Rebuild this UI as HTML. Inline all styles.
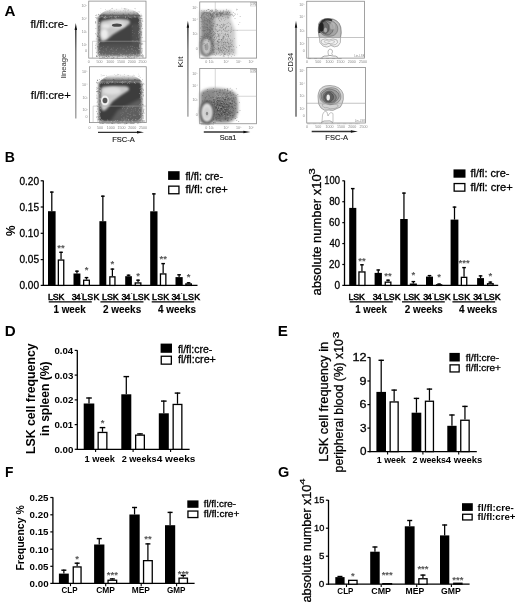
<!DOCTYPE html><html><head><meta charset="utf-8"><style>html,body{margin:0;padding:0;background:#fff;width:520px;height:611px;overflow:hidden}svg{display:block;will-change:transform;font-family:"Liberation Sans",sans-serif}</style></head><body><svg width="520" height="611" viewBox="0 0 520 611"><defs><filter id="b1" x="-30%" y="-30%" width="160%" height="160%"><feGaussianBlur stdDeviation="1"/></filter><filter id="b15" x="-30%" y="-30%" width="160%" height="160%"><feGaussianBlur stdDeviation="1.5"/></filter><filter id="b2" x="-30%" y="-30%" width="160%" height="160%"><feGaussianBlur stdDeviation="2"/></filter><filter id="b05" x="-30%" y="-30%" width="160%" height="160%"><feGaussianBlur stdDeviation="0.5"/></filter><filter id="b07" x="-30%" y="-30%" width="160%" height="160%"><feGaussianBlur stdDeviation="0.7"/></filter></defs><linearGradient id="fr1" x1="0" y1="0" x2="0" y2="1"><stop offset="0" stop-color="#fff" stop-opacity="0"/><stop offset="0.5" stop-color="#aaa" stop-opacity="0.7"/><stop offset="1" stop-color="#555"/></linearGradient><path d="M99,16.5 Q104,8 120,7.5 Q136,8 141,16.5 Z" fill="url(#fr1)" filter="url(#b07)"/><circle cx="109.5" cy="12.4" r="0.35" fill="#888" opacity="0.8"/><circle cx="114.8" cy="12.8" r="0.35" fill="#888" opacity="0.8"/><circle cx="125.0" cy="8.5" r="0.35" fill="#888" opacity="0.8"/><circle cx="100.5" cy="14.7" r="0.35" fill="#888" opacity="0.8"/><circle cx="110.4" cy="9.9" r="0.35" fill="#888" opacity="0.8"/><circle cx="139.8" cy="11.8" r="0.35" fill="#888" opacity="0.8"/><circle cx="133.5" cy="11.8" r="0.35" fill="#888" opacity="0.8"/><circle cx="125.6" cy="9.2" r="0.35" fill="#888" opacity="0.8"/><circle cx="125.4" cy="14.9" r="0.35" fill="#888" opacity="0.8"/><circle cx="120.9" cy="13.9" r="0.35" fill="#888" opacity="0.8"/><circle cx="126.9" cy="8.5" r="0.35" fill="#888" opacity="0.8"/><circle cx="130.3" cy="12.7" r="0.35" fill="#888" opacity="0.8"/><circle cx="112.1" cy="8.2" r="0.35" fill="#888" opacity="0.8"/><circle cx="134.6" cy="11.8" r="0.35" fill="#888" opacity="0.8"/><circle cx="128.8" cy="15.0" r="0.35" fill="#888" opacity="0.8"/><circle cx="128.6" cy="15.4" r="0.35" fill="#888" opacity="0.8"/><circle cx="115.8" cy="14.4" r="0.35" fill="#888" opacity="0.8"/><circle cx="117.8" cy="15.5" r="0.35" fill="#888" opacity="0.8"/><circle cx="135.2" cy="8.8" r="0.35" fill="#888" opacity="0.8"/><circle cx="105.4" cy="9.7" r="0.35" fill="#888" opacity="0.8"/><circle cx="138.6" cy="11.5" r="0.35" fill="#888" opacity="0.8"/><circle cx="125.1" cy="10.4" r="0.35" fill="#888" opacity="0.8"/><circle cx="120.3" cy="11.1" r="0.35" fill="#888" opacity="0.8"/><circle cx="114.0" cy="12.7" r="0.35" fill="#888" opacity="0.8"/><circle cx="123.4" cy="15.2" r="0.35" fill="#888" opacity="0.8"/><circle cx="127.3" cy="15.4" r="0.35" fill="#888" opacity="0.8"/><circle cx="134.3" cy="15.9" r="0.35" fill="#888" opacity="0.8"/><circle cx="126.9" cy="9.3" r="0.35" fill="#888" opacity="0.8"/><circle cx="134.4" cy="15.7" r="0.35" fill="#888" opacity="0.8"/><circle cx="136.2" cy="12.6" r="0.35" fill="#888" opacity="0.8"/><circle cx="128.6" cy="9.7" r="0.35" fill="#888" opacity="0.8"/><circle cx="133.3" cy="12.6" r="0.35" fill="#888" opacity="0.8"/><circle cx="111.4" cy="8.5" r="0.35" fill="#888" opacity="0.8"/><circle cx="134.2" cy="15.9" r="0.35" fill="#888" opacity="0.8"/><circle cx="103.5" cy="14.4" r="0.35" fill="#888" opacity="0.8"/><circle cx="116.4" cy="9.2" r="0.35" fill="#888" opacity="0.8"/><circle cx="111.8" cy="14.2" r="0.35" fill="#888" opacity="0.8"/><circle cx="134.9" cy="8.4" r="0.35" fill="#888" opacity="0.8"/><circle cx="124.6" cy="8.4" r="0.35" fill="#888" opacity="0.8"/><circle cx="128.7" cy="10.6" r="0.35" fill="#888" opacity="0.8"/><circle cx="135.2" cy="15.8" r="0.35" fill="#888" opacity="0.8"/><circle cx="120.2" cy="16.0" r="0.35" fill="#888" opacity="0.8"/><circle cx="112.4" cy="8.6" r="0.35" fill="#888" opacity="0.8"/><circle cx="124.0" cy="8.3" r="0.35" fill="#888" opacity="0.8"/><circle cx="107.9" cy="11.3" r="0.35" fill="#888" opacity="0.8"/><circle cx="124.4" cy="9.2" r="0.35" fill="#888" opacity="0.8"/><circle cx="101.7" cy="14.9" r="0.35" fill="#888" opacity="0.8"/><circle cx="112.6" cy="15.7" r="0.35" fill="#888" opacity="0.8"/><circle cx="135.9" cy="11.0" r="0.35" fill="#888" opacity="0.8"/><circle cx="118.4" cy="12.2" r="0.35" fill="#888" opacity="0.8"/><circle cx="125.8" cy="12.8" r="0.35" fill="#888" opacity="0.8"/><circle cx="122.4" cy="13.0" r="0.35" fill="#888" opacity="0.8"/><circle cx="137.6" cy="12.1" r="0.35" fill="#888" opacity="0.8"/><circle cx="117.2" cy="13.8" r="0.35" fill="#888" opacity="0.8"/><circle cx="109.5" cy="10.4" r="0.35" fill="#888" opacity="0.8"/><circle cx="139.1" cy="12.2" r="0.35" fill="#888" opacity="0.8"/><circle cx="121.9" cy="8.1" r="0.35" fill="#888" opacity="0.8"/><circle cx="116.6" cy="12.6" r="0.35" fill="#888" opacity="0.8"/><circle cx="100.8" cy="12.9" r="0.35" fill="#888" opacity="0.8"/><circle cx="125.3" cy="8.5" r="0.35" fill="#888" opacity="0.8"/><circle cx="125.1" cy="11.7" r="0.35" fill="#888" opacity="0.8"/><circle cx="127.2" cy="10.8" r="0.35" fill="#888" opacity="0.8"/><circle cx="128.3" cy="13.9" r="0.35" fill="#888" opacity="0.8"/><circle cx="100.9" cy="8.5" r="0.35" fill="#888" opacity="0.8"/><circle cx="127.0" cy="15.7" r="0.35" fill="#888" opacity="0.8"/><circle cx="110.0" cy="11.7" r="0.35" fill="#888" opacity="0.8"/><circle cx="123.7" cy="10.6" r="0.35" fill="#888" opacity="0.8"/><circle cx="114.6" cy="10.5" r="0.35" fill="#888" opacity="0.8"/><circle cx="114.8" cy="12.8" r="0.35" fill="#888" opacity="0.8"/><circle cx="112.0" cy="11.0" r="0.35" fill="#888" opacity="0.8"/><path d="M97.8,18.5 Q98,16 101,16 L138,16 Q140.6,16.5 140.6,19 L140.6,54 Q140,56 137,56 L101,56 Q97.8,56 97.8,53 Z" fill="#424242" filter="url(#b1)"/><linearGradient id="bt1" x1="0" y1="0" x2="0" y2="1"><stop offset="0" stop-color="#777" stop-opacity="0"/><stop offset="0.4" stop-color="#777" stop-opacity="0.3"/><stop offset="1" stop-color="#999" stop-opacity="0.5"/></linearGradient><rect x="98" y="40" width="42.5" height="16" fill="url(#bt1)" filter="url(#b07)"/><rect x="132" y="24" width="8.6" height="20" fill="#777" opacity="0.25" filter="url(#b15)"/><circle cx="130.8" cy="46.3" r="0.4" fill="#aaa" opacity="0.6"/><circle cx="122.3" cy="53.2" r="0.4" fill="#aaa" opacity="0.6"/><circle cx="111.5" cy="48.2" r="0.4" fill="#aaa" opacity="0.6"/><circle cx="132.1" cy="48.3" r="0.4" fill="#aaa" opacity="0.6"/><circle cx="106.3" cy="50.3" r="0.4" fill="#aaa" opacity="0.6"/><circle cx="127.7" cy="47.0" r="0.4" fill="#aaa" opacity="0.6"/><circle cx="112.0" cy="49.3" r="0.4" fill="#aaa" opacity="0.6"/><circle cx="133.3" cy="50.3" r="0.4" fill="#aaa" opacity="0.6"/><circle cx="134.3" cy="47.7" r="0.4" fill="#aaa" opacity="0.6"/><circle cx="112.6" cy="52.4" r="0.4" fill="#aaa" opacity="0.6"/><circle cx="135.5" cy="50.4" r="0.4" fill="#aaa" opacity="0.6"/><circle cx="107.9" cy="47.2" r="0.4" fill="#aaa" opacity="0.6"/><circle cx="120.6" cy="47.9" r="0.4" fill="#aaa" opacity="0.6"/><circle cx="132.2" cy="54.2" r="0.4" fill="#aaa" opacity="0.6"/><circle cx="106.2" cy="48.7" r="0.4" fill="#aaa" opacity="0.6"/><circle cx="132.2" cy="52.3" r="0.4" fill="#aaa" opacity="0.6"/><circle cx="132.2" cy="49.4" r="0.4" fill="#aaa" opacity="0.6"/><circle cx="103.9" cy="48.9" r="0.4" fill="#aaa" opacity="0.6"/><circle cx="131.7" cy="48.7" r="0.4" fill="#aaa" opacity="0.6"/><circle cx="113.0" cy="50.1" r="0.4" fill="#aaa" opacity="0.6"/><circle cx="116.0" cy="50.0" r="0.4" fill="#aaa" opacity="0.6"/><circle cx="137.0" cy="47.5" r="0.4" fill="#aaa" opacity="0.6"/><circle cx="98.7" cy="55.2" r="0.4" fill="#aaa" opacity="0.6"/><circle cx="135.3" cy="55.7" r="0.4" fill="#aaa" opacity="0.6"/><circle cx="116.7" cy="55.3" r="0.4" fill="#aaa" opacity="0.6"/><circle cx="137.3" cy="48.2" r="0.4" fill="#aaa" opacity="0.6"/><circle cx="129.7" cy="54.2" r="0.4" fill="#aaa" opacity="0.6"/><circle cx="126.2" cy="51.1" r="0.4" fill="#aaa" opacity="0.6"/><circle cx="110.6" cy="49.3" r="0.4" fill="#aaa" opacity="0.6"/><circle cx="108.0" cy="46.7" r="0.4" fill="#aaa" opacity="0.6"/><circle cx="123.1" cy="48.8" r="0.4" fill="#aaa" opacity="0.6"/><circle cx="132.4" cy="46.4" r="0.4" fill="#aaa" opacity="0.6"/><circle cx="136.3" cy="52.8" r="0.4" fill="#aaa" opacity="0.6"/><circle cx="137.1" cy="54.8" r="0.4" fill="#aaa" opacity="0.6"/><circle cx="136.1" cy="51.7" r="0.4" fill="#aaa" opacity="0.6"/><circle cx="99.0" cy="53.3" r="0.4" fill="#aaa" opacity="0.6"/><circle cx="105.7" cy="48.9" r="0.4" fill="#aaa" opacity="0.6"/><circle cx="126.2" cy="51.1" r="0.4" fill="#aaa" opacity="0.6"/><circle cx="115.8" cy="55.2" r="0.4" fill="#aaa" opacity="0.6"/><circle cx="124.1" cy="49.3" r="0.4" fill="#aaa" opacity="0.6"/><circle cx="109.1" cy="54.4" r="0.4" fill="#aaa" opacity="0.6"/><circle cx="118.4" cy="53.7" r="0.4" fill="#aaa" opacity="0.6"/><circle cx="113.2" cy="47.9" r="0.4" fill="#aaa" opacity="0.6"/><circle cx="120.8" cy="54.0" r="0.4" fill="#aaa" opacity="0.6"/><circle cx="105.7" cy="53.8" r="0.4" fill="#aaa" opacity="0.6"/><circle cx="137.0" cy="53.9" r="0.4" fill="#aaa" opacity="0.6"/><circle cx="132.9" cy="46.1" r="0.4" fill="#aaa" opacity="0.6"/><circle cx="124.8" cy="54.5" r="0.4" fill="#aaa" opacity="0.6"/><circle cx="100.6" cy="48.7" r="0.4" fill="#aaa" opacity="0.6"/><circle cx="109.7" cy="51.2" r="0.4" fill="#aaa" opacity="0.6"/><circle cx="116.2" cy="50.6" r="0.4" fill="#aaa" opacity="0.6"/><circle cx="131.0" cy="46.0" r="0.4" fill="#aaa" opacity="0.6"/><circle cx="100.8" cy="47.2" r="0.4" fill="#aaa" opacity="0.6"/><circle cx="103.7" cy="46.7" r="0.4" fill="#aaa" opacity="0.6"/><circle cx="139.2" cy="54.4" r="0.4" fill="#aaa" opacity="0.6"/><circle cx="102.1" cy="50.9" r="0.4" fill="#aaa" opacity="0.6"/><circle cx="111.7" cy="49.1" r="0.4" fill="#aaa" opacity="0.6"/><circle cx="113.2" cy="52.3" r="0.4" fill="#aaa" opacity="0.6"/><circle cx="123.0" cy="49.5" r="0.4" fill="#aaa" opacity="0.6"/><circle cx="106.5" cy="49.2" r="0.4" fill="#aaa" opacity="0.6"/><circle cx="103.7" cy="51.4" r="0.4" fill="#aaa" opacity="0.6"/><circle cx="128.4" cy="49.7" r="0.4" fill="#aaa" opacity="0.6"/><circle cx="101.8" cy="47.7" r="0.4" fill="#aaa" opacity="0.6"/><circle cx="114.1" cy="51.9" r="0.4" fill="#aaa" opacity="0.6"/><circle cx="131.2" cy="49.7" r="0.4" fill="#aaa" opacity="0.6"/><circle cx="132.0" cy="52.1" r="0.4" fill="#aaa" opacity="0.6"/><circle cx="116.5" cy="49.6" r="0.4" fill="#aaa" opacity="0.6"/><circle cx="119.2" cy="52.9" r="0.4" fill="#aaa" opacity="0.6"/><circle cx="116.1" cy="52.8" r="0.4" fill="#aaa" opacity="0.6"/><circle cx="117.8" cy="48.4" r="0.4" fill="#aaa" opacity="0.6"/><circle cx="136.4" cy="37.9" r="0.4" fill="#999" opacity="0.6"/><circle cx="132.6" cy="32.5" r="0.4" fill="#999" opacity="0.6"/><circle cx="135.5" cy="41.6" r="0.4" fill="#999" opacity="0.6"/><circle cx="139.8" cy="31.5" r="0.4" fill="#999" opacity="0.6"/><circle cx="139.5" cy="39.8" r="0.4" fill="#999" opacity="0.6"/><circle cx="134.2" cy="33.3" r="0.4" fill="#999" opacity="0.6"/><circle cx="133.0" cy="40.3" r="0.4" fill="#999" opacity="0.6"/><circle cx="137.5" cy="41.7" r="0.4" fill="#999" opacity="0.6"/><circle cx="138.6" cy="37.4" r="0.4" fill="#999" opacity="0.6"/><circle cx="138.1" cy="35.3" r="0.4" fill="#999" opacity="0.6"/><circle cx="132.9" cy="35.8" r="0.4" fill="#999" opacity="0.6"/><circle cx="132.0" cy="26.9" r="0.4" fill="#999" opacity="0.6"/><circle cx="138.4" cy="24.9" r="0.4" fill="#999" opacity="0.6"/><circle cx="132.8" cy="26.0" r="0.4" fill="#999" opacity="0.6"/><circle cx="139.3" cy="27.6" r="0.4" fill="#999" opacity="0.6"/><circle cx="132.2" cy="40.8" r="0.4" fill="#999" opacity="0.6"/><circle cx="133.0" cy="40.9" r="0.4" fill="#999" opacity="0.6"/><circle cx="137.6" cy="40.7" r="0.4" fill="#999" opacity="0.6"/><circle cx="139.9" cy="35.6" r="0.4" fill="#999" opacity="0.6"/><circle cx="138.6" cy="24.7" r="0.4" fill="#999" opacity="0.6"/><circle cx="138.4" cy="34.2" r="0.4" fill="#999" opacity="0.6"/><circle cx="137.9" cy="26.1" r="0.4" fill="#999" opacity="0.6"/><circle cx="138.2" cy="42.7" r="0.4" fill="#999" opacity="0.6"/><circle cx="132.5" cy="30.5" r="0.4" fill="#999" opacity="0.6"/><circle cx="136.7" cy="40.6" r="0.4" fill="#999" opacity="0.6"/><path d="M100,24 Q101,20.5 104,20.5 L110,19.6 L120,19 L127,19.4 Q131,20.5 129.5,24 L122,29 L113,34.5 L107,39.5 Q103.5,42 101.5,41 Q99.8,39.5 99.8,32 Z" fill="#c6c6c6" filter="url(#b1)"/><ellipse cx="117" cy="24.5" rx="9" ry="3.8" fill="#d8d8d8" filter="url(#b1)"/><ellipse cx="104.5" cy="34" rx="3.5" ry="5" fill="#ececec" filter="url(#b1)"/><ellipse cx="106" cy="26" rx="4" ry="2.5" fill="#e8e8e8" filter="url(#b1)"/><ellipse cx="116.9" cy="25.2" rx="5" ry="1.6" fill="#4a4a4a" filter="url(#b05)"/><circle cx="99.5" cy="36.0" r="0.42" fill="#c8c8c8" opacity="0.85"/><circle cx="141.5" cy="32.1" r="0.42" fill="#555" opacity="0.85"/><circle cx="138.9" cy="36.8" r="0.42" fill="#c8c8c8" opacity="0.85"/><circle cx="128.2" cy="56.1" r="0.42" fill="#555" opacity="0.85"/><circle cx="105.9" cy="14.8" r="0.42" fill="#555" opacity="0.85"/><circle cx="102.4" cy="57.8" r="0.42" fill="#555" opacity="0.85"/><circle cx="130.2" cy="56.4" r="0.42" fill="#555" opacity="0.85"/><circle cx="127.5" cy="56.4" r="0.42" fill="#555" opacity="0.85"/><circle cx="130.0" cy="17.6" r="0.42" fill="#c8c8c8" opacity="0.85"/><circle cx="100.0" cy="50.8" r="0.42" fill="#c8c8c8" opacity="0.85"/><circle cx="95.9" cy="28.7" r="0.42" fill="#555" opacity="0.85"/><circle cx="140.7" cy="31.2" r="0.42" fill="#555" opacity="0.85"/><circle cx="138.5" cy="18.1" r="0.42" fill="#c8c8c8" opacity="0.85"/><circle cx="140.0" cy="30.4" r="0.42" fill="#c8c8c8" opacity="0.85"/><circle cx="141.0" cy="43.7" r="0.42" fill="#555" opacity="0.85"/><circle cx="139.6" cy="20.1" r="0.42" fill="#c8c8c8" opacity="0.85"/><circle cx="98.8" cy="45.6" r="0.42" fill="#c8c8c8" opacity="0.85"/><circle cx="136.8" cy="15.7" r="0.42" fill="#555" opacity="0.85"/><circle cx="132.5" cy="15.1" r="0.42" fill="#555" opacity="0.85"/><circle cx="140.4" cy="30.8" r="0.42" fill="#c8c8c8" opacity="0.85"/><circle cx="125.5" cy="57.2" r="0.42" fill="#555" opacity="0.85"/><circle cx="95.7" cy="48.0" r="0.42" fill="#555" opacity="0.85"/><circle cx="97.3" cy="36.0" r="0.42" fill="#555" opacity="0.85"/><circle cx="122.3" cy="56.4" r="0.42" fill="#555" opacity="0.85"/><circle cx="98.0" cy="29.8" r="0.42" fill="#c8c8c8" opacity="0.85"/><circle cx="106.6" cy="17.3" r="0.42" fill="#c8c8c8" opacity="0.85"/><circle cx="121.0" cy="55.1" r="0.42" fill="#c8c8c8" opacity="0.85"/><circle cx="139.4" cy="45.6" r="0.42" fill="#c8c8c8" opacity="0.85"/><circle cx="133.7" cy="55.2" r="0.42" fill="#c8c8c8" opacity="0.85"/><circle cx="100.8" cy="15.7" r="0.42" fill="#555" opacity="0.85"/><circle cx="99.3" cy="22.7" r="0.42" fill="#c8c8c8" opacity="0.85"/><circle cx="95.7" cy="23.1" r="0.42" fill="#555" opacity="0.85"/><circle cx="96.9" cy="18.7" r="0.42" fill="#555" opacity="0.85"/><circle cx="98.4" cy="14.8" r="0.42" fill="#555" opacity="0.85"/><circle cx="128.8" cy="16.1" r="0.42" fill="#c8c8c8" opacity="0.85"/><circle cx="96.9" cy="56.7" r="0.42" fill="#555" opacity="0.85"/><circle cx="105.9" cy="18.0" r="0.42" fill="#c8c8c8" opacity="0.85"/><circle cx="101.5" cy="16.1" r="0.42" fill="#c8c8c8" opacity="0.85"/><circle cx="139.6" cy="27.1" r="0.42" fill="#c8c8c8" opacity="0.85"/><circle cx="111.9" cy="18.0" r="0.42" fill="#c8c8c8" opacity="0.85"/><circle cx="127.8" cy="56.8" r="0.42" fill="#555" opacity="0.85"/><circle cx="123.6" cy="14.0" r="0.42" fill="#555" opacity="0.85"/><circle cx="97.0" cy="17.8" r="0.42" fill="#555" opacity="0.85"/><circle cx="103.6" cy="15.4" r="0.42" fill="#555" opacity="0.85"/><circle cx="98.1" cy="42.9" r="0.42" fill="#c8c8c8" opacity="0.85"/><circle cx="141.6" cy="35.0" r="0.42" fill="#555" opacity="0.85"/><circle cx="133.5" cy="54.5" r="0.42" fill="#c8c8c8" opacity="0.85"/><circle cx="140.0" cy="15.3" r="0.42" fill="#555" opacity="0.85"/><circle cx="140.3" cy="17.7" r="0.42" fill="#c8c8c8" opacity="0.85"/><circle cx="139.4" cy="21.6" r="0.42" fill="#c8c8c8" opacity="0.85"/><circle cx="139.2" cy="29.9" r="0.42" fill="#c8c8c8" opacity="0.85"/><circle cx="129.1" cy="14.8" r="0.42" fill="#555" opacity="0.85"/><circle cx="127.6" cy="18.1" r="0.42" fill="#c8c8c8" opacity="0.85"/><circle cx="99.0" cy="31.5" r="0.42" fill="#c8c8c8" opacity="0.85"/><circle cx="140.7" cy="18.5" r="0.42" fill="#555" opacity="0.85"/><circle cx="99.4" cy="42.6" r="0.42" fill="#c8c8c8" opacity="0.85"/><circle cx="107.0" cy="16.0" r="0.42" fill="#555" opacity="0.85"/><circle cx="123.2" cy="14.3" r="0.42" fill="#555" opacity="0.85"/><circle cx="106.5" cy="56.7" r="0.42" fill="#555" opacity="0.85"/><circle cx="104.0" cy="17.3" r="0.42" fill="#c8c8c8" opacity="0.85"/><circle cx="96.7" cy="56.7" r="0.42" fill="#555" opacity="0.85"/><circle cx="99.6" cy="34.5" r="0.42" fill="#c8c8c8" opacity="0.85"/><circle cx="130.0" cy="17.2" r="0.42" fill="#c8c8c8" opacity="0.85"/><circle cx="99.0" cy="38.3" r="0.42" fill="#c8c8c8" opacity="0.85"/><circle cx="142.6" cy="28.7" r="0.42" fill="#555" opacity="0.85"/><circle cx="115.9" cy="17.5" r="0.42" fill="#c8c8c8" opacity="0.85"/><circle cx="139.5" cy="46.1" r="0.42" fill="#c8c8c8" opacity="0.85"/><circle cx="136.9" cy="57.6" r="0.42" fill="#555" opacity="0.85"/><circle cx="124.5" cy="55.2" r="0.42" fill="#c8c8c8" opacity="0.85"/><circle cx="140.3" cy="53.9" r="0.42" fill="#c8c8c8" opacity="0.85"/><circle cx="140.4" cy="35.3" r="0.42" fill="#c8c8c8" opacity="0.85"/><circle cx="142.7" cy="54.7" r="0.42" fill="#555" opacity="0.85"/><circle cx="109.4" cy="55.3" r="0.42" fill="#c8c8c8" opacity="0.85"/><circle cx="104.3" cy="18.1" r="0.42" fill="#c8c8c8" opacity="0.85"/><circle cx="97.5" cy="46.9" r="0.42" fill="#555" opacity="0.85"/><circle cx="115.0" cy="17.2" r="0.42" fill="#c8c8c8" opacity="0.85"/><circle cx="128.7" cy="57.2" r="0.42" fill="#555" opacity="0.85"/><circle cx="141.8" cy="52.7" r="0.42" fill="#555" opacity="0.85"/><circle cx="133.7" cy="14.2" r="0.42" fill="#555" opacity="0.85"/><circle cx="98.0" cy="22.9" r="0.42" fill="#c8c8c8" opacity="0.85"/><circle cx="141.8" cy="48.7" r="0.42" fill="#555" opacity="0.85"/><circle cx="141.8" cy="15.4" r="0.42" fill="#555" opacity="0.85"/><circle cx="104.3" cy="14.4" r="0.42" fill="#555" opacity="0.85"/><circle cx="98.0" cy="38.0" r="0.42" fill="#c8c8c8" opacity="0.85"/><circle cx="97.7" cy="32.9" r="0.42" fill="#555" opacity="0.85"/><circle cx="138.7" cy="49.7" r="0.42" fill="#c8c8c8" opacity="0.85"/><circle cx="103.6" cy="14.6" r="0.42" fill="#555" opacity="0.85"/><circle cx="127.0" cy="55.0" r="0.42" fill="#c8c8c8" opacity="0.85"/><circle cx="127.9" cy="57.8" r="0.42" fill="#555" opacity="0.85"/><circle cx="140.9" cy="20.7" r="0.42" fill="#555" opacity="0.85"/><circle cx="134.7" cy="55.2" r="0.42" fill="#c8c8c8" opacity="0.85"/><circle cx="124.5" cy="15.2" r="0.42" fill="#555" opacity="0.85"/><circle cx="129.1" cy="54.3" r="0.42" fill="#c8c8c8" opacity="0.85"/><circle cx="137.9" cy="56.4" r="0.42" fill="#555" opacity="0.85"/><circle cx="139.1" cy="21.8" r="0.42" fill="#c8c8c8" opacity="0.85"/><circle cx="140.4" cy="55.7" r="0.42" fill="#c8c8c8" opacity="0.85"/><circle cx="107.4" cy="57.3" r="0.42" fill="#555" opacity="0.85"/><circle cx="99.3" cy="24.0" r="0.42" fill="#c8c8c8" opacity="0.85"/><circle cx="105.0" cy="17.3" r="0.42" fill="#c8c8c8" opacity="0.85"/><circle cx="134.2" cy="14.0" r="0.42" fill="#555" opacity="0.85"/><circle cx="108.9" cy="56.5" r="0.42" fill="#555" opacity="0.85"/><circle cx="98.9" cy="25.7" r="0.42" fill="#c8c8c8" opacity="0.85"/><circle cx="121.4" cy="15.9" r="0.42" fill="#555" opacity="0.85"/><circle cx="106.7" cy="56.3" r="0.42" fill="#555" opacity="0.85"/><circle cx="102.4" cy="54.0" r="0.42" fill="#c8c8c8" opacity="0.85"/><circle cx="104.0" cy="57.9" r="0.42" fill="#555" opacity="0.85"/><circle cx="102.3" cy="16.2" r="0.42" fill="#c8c8c8" opacity="0.85"/><circle cx="136.9" cy="16.0" r="0.42" fill="#555" opacity="0.85"/><circle cx="140.9" cy="37.5" r="0.42" fill="#555" opacity="0.85"/><circle cx="114.0" cy="57.6" r="0.42" fill="#555" opacity="0.85"/><circle cx="112.2" cy="54.4" r="0.42" fill="#c8c8c8" opacity="0.85"/><circle cx="99.2" cy="22.3" r="0.42" fill="#c8c8c8" opacity="0.85"/><circle cx="139.9" cy="58.1" r="0.42" fill="#555" opacity="0.85"/><circle cx="141.9" cy="24.7" r="0.42" fill="#555" opacity="0.85"/><circle cx="112.3" cy="56.0" r="0.42" fill="#555" opacity="0.85"/><circle cx="110.4" cy="14.7" r="0.42" fill="#555" opacity="0.85"/><circle cx="123.7" cy="55.2" r="0.42" fill="#c8c8c8" opacity="0.85"/><circle cx="141.1" cy="51.1" r="0.42" fill="#555" opacity="0.85"/><circle cx="105.2" cy="16.2" r="0.42" fill="#c8c8c8" opacity="0.85"/><circle cx="141.8" cy="32.0" r="0.42" fill="#555" opacity="0.85"/><circle cx="96.3" cy="52.4" r="0.42" fill="#555" opacity="0.85"/><circle cx="133.1" cy="57.8" r="0.42" fill="#555" opacity="0.85"/><circle cx="131.8" cy="17.9" r="0.42" fill="#c8c8c8" opacity="0.85"/><circle cx="141.9" cy="55.4" r="0.42" fill="#555" opacity="0.85"/><circle cx="109.1" cy="57.2" r="0.42" fill="#555" opacity="0.85"/><circle cx="108.9" cy="56.7" r="0.42" fill="#555" opacity="0.85"/><circle cx="142.2" cy="37.3" r="0.42" fill="#555" opacity="0.85"/><circle cx="98.9" cy="32.7" r="0.42" fill="#c8c8c8" opacity="0.85"/><circle cx="98.4" cy="51.7" r="0.42" fill="#c8c8c8" opacity="0.85"/><circle cx="113.7" cy="57.4" r="0.42" fill="#555" opacity="0.85"/><circle cx="99.4" cy="28.0" r="0.42" fill="#c8c8c8" opacity="0.85"/><circle cx="109.0" cy="15.1" r="0.42" fill="#555" opacity="0.85"/><circle cx="121.0" cy="54.7" r="0.42" fill="#c8c8c8" opacity="0.85"/><circle cx="138.7" cy="33.4" r="0.42" fill="#c8c8c8" opacity="0.85"/><circle cx="99.6" cy="15.0" r="0.42" fill="#555" opacity="0.85"/><circle cx="112.2" cy="14.1" r="0.42" fill="#555" opacity="0.85"/><circle cx="116.2" cy="18.1" r="0.42" fill="#c8c8c8" opacity="0.85"/><circle cx="141.8" cy="44.5" r="0.42" fill="#555" opacity="0.85"/><circle cx="99.5" cy="33.4" r="0.42" fill="#c8c8c8" opacity="0.85"/><circle cx="131.2" cy="57.8" r="0.42" fill="#555" opacity="0.85"/><circle cx="98.7" cy="14.2" r="0.42" fill="#555" opacity="0.85"/><circle cx="99.8" cy="42.3" r="0.42" fill="#c8c8c8" opacity="0.85"/><circle cx="96.9" cy="55.3" r="0.42" fill="#555" opacity="0.85"/><circle cx="99.6" cy="24.1" r="0.42" fill="#c8c8c8" opacity="0.85"/><circle cx="142.0" cy="43.2" r="0.42" fill="#555" opacity="0.85"/><circle cx="131.9" cy="54.2" r="0.42" fill="#c8c8c8" opacity="0.85"/><circle cx="105.2" cy="16.5" r="0.42" fill="#c8c8c8" opacity="0.85"/><circle cx="139.9" cy="19.1" r="0.42" fill="#c8c8c8" opacity="0.85"/><circle cx="138.7" cy="31.4" r="0.42" fill="#c8c8c8" opacity="0.85"/><circle cx="97.4" cy="35.9" r="0.42" fill="#555" opacity="0.85"/><circle cx="134.9" cy="16.3" r="0.42" fill="#c8c8c8" opacity="0.85"/><circle cx="116.5" cy="16.3" r="0.42" fill="#c8c8c8" opacity="0.85"/><circle cx="134.2" cy="57.6" r="0.42" fill="#555" opacity="0.85"/><circle cx="111.9" cy="58.0" r="0.42" fill="#555" opacity="0.85"/><circle cx="105.2" cy="18.0" r="0.42" fill="#c8c8c8" opacity="0.85"/><circle cx="142.3" cy="50.9" r="0.42" fill="#555" opacity="0.85"/><circle cx="96.1" cy="43.9" r="0.42" fill="#555" opacity="0.85"/><circle cx="98.2" cy="35.2" r="0.42" fill="#c8c8c8" opacity="0.85"/><circle cx="121.0" cy="54.8" r="0.42" fill="#c8c8c8" opacity="0.85"/><circle cx="114.4" cy="16.7" r="0.42" fill="#c8c8c8" opacity="0.85"/><circle cx="140.0" cy="19.0" r="0.42" fill="#c8c8c8" opacity="0.85"/><circle cx="140.3" cy="35.0" r="0.42" fill="#c8c8c8" opacity="0.85"/><circle cx="141.0" cy="22.1" r="0.42" fill="#555" opacity="0.85"/><circle cx="142.1" cy="48.9" r="0.42" fill="#555" opacity="0.85"/><circle cx="130.2" cy="53.9" r="0.42" fill="#c8c8c8" opacity="0.85"/><circle cx="117.2" cy="57.1" r="0.42" fill="#555" opacity="0.85"/><circle cx="113.9" cy="15.9" r="0.42" fill="#555" opacity="0.85"/><circle cx="119.4" cy="56.1" r="0.42" fill="#555" opacity="0.85"/><circle cx="113.2" cy="15.7" r="0.42" fill="#555" opacity="0.85"/><circle cx="139.1" cy="22.8" r="0.42" fill="#c8c8c8" opacity="0.85"/><circle cx="103.1" cy="57.3" r="0.42" fill="#555" opacity="0.85"/><circle cx="95.9" cy="17.5" r="0.42" fill="#555" opacity="0.85"/><circle cx="117.1" cy="57.9" r="0.42" fill="#555" opacity="0.85"/><circle cx="128.7" cy="13.9" r="0.42" fill="#555" opacity="0.85"/><circle cx="103.7" cy="15.3" r="0.42" fill="#555" opacity="0.85"/><circle cx="141.4" cy="18.3" r="0.42" fill="#555" opacity="0.85"/><circle cx="96.8" cy="15.0" r="0.42" fill="#555" opacity="0.85"/><circle cx="110.2" cy="16.6" r="0.42" fill="#c8c8c8" opacity="0.85"/><circle cx="100.3" cy="54.9" r="0.42" fill="#c8c8c8" opacity="0.85"/><circle cx="142.8" cy="21.3" r="0.42" fill="#555" opacity="0.85"/><circle cx="112.9" cy="58.2" r="0.42" fill="#555" opacity="0.85"/><circle cx="139.2" cy="32.2" r="0.42" fill="#c8c8c8" opacity="0.85"/><circle cx="96.1" cy="34.8" r="0.42" fill="#555" opacity="0.85"/><circle cx="95.8" cy="45.3" r="0.42" fill="#555" opacity="0.85"/><circle cx="136.6" cy="54.0" r="0.42" fill="#c8c8c8" opacity="0.85"/><circle cx="97.9" cy="43.8" r="0.42" fill="#c8c8c8" opacity="0.85"/><circle cx="99.8" cy="56.6" r="0.42" fill="#555" opacity="0.85"/><circle cx="97.7" cy="56.6" r="0.42" fill="#555" opacity="0.85"/><circle cx="104.6" cy="17.5" r="0.42" fill="#c8c8c8" opacity="0.85"/><circle cx="125.4" cy="17.5" r="0.42" fill="#c8c8c8" opacity="0.85"/><circle cx="141.0" cy="14.1" r="0.42" fill="#555" opacity="0.85"/><circle cx="98.8" cy="43.8" r="0.42" fill="#c8c8c8" opacity="0.85"/><circle cx="139.3" cy="32.5" r="0.42" fill="#c8c8c8" opacity="0.85"/><circle cx="124.0" cy="15.1" r="0.42" fill="#555" opacity="0.85"/><circle cx="140.8" cy="35.0" r="0.42" fill="#555" opacity="0.85"/><circle cx="98.4" cy="24.4" r="0.42" fill="#c8c8c8" opacity="0.85"/><circle cx="97.5" cy="46.3" r="0.42" fill="#555" opacity="0.85"/><circle cx="138.8" cy="22.4" r="0.42" fill="#c8c8c8" opacity="0.85"/><circle cx="129.3" cy="57.3" r="0.42" fill="#555" opacity="0.85"/><circle cx="123.7" cy="55.8" r="0.42" fill="#c8c8c8" opacity="0.85"/><circle cx="139.4" cy="25.1" r="0.42" fill="#c8c8c8" opacity="0.85"/><circle cx="96.5" cy="55.9" r="0.42" fill="#555" opacity="0.85"/><circle cx="141.7" cy="26.3" r="0.42" fill="#555" opacity="0.85"/><circle cx="99.6" cy="53.2" r="0.42" fill="#c8c8c8" opacity="0.85"/><circle cx="139.9" cy="24.0" r="0.42" fill="#c8c8c8" opacity="0.85"/><circle cx="139.7" cy="47.2" r="0.42" fill="#c8c8c8" opacity="0.85"/><circle cx="134.3" cy="16.9" r="0.42" fill="#c8c8c8" opacity="0.85"/><circle cx="102.9" cy="56.8" r="0.42" fill="#555" opacity="0.85"/><circle cx="138.3" cy="54.4" r="0.42" fill="#c8c8c8" opacity="0.85"/><circle cx="115.8" cy="16.3" r="0.42" fill="#c8c8c8" opacity="0.85"/><circle cx="109.2" cy="55.8" r="0.42" fill="#c8c8c8" opacity="0.85"/><circle cx="105.1" cy="54.8" r="0.42" fill="#c8c8c8" opacity="0.85"/><circle cx="122.8" cy="14.9" r="0.42" fill="#555" opacity="0.85"/><circle cx="112.9" cy="14.3" r="0.42" fill="#555" opacity="0.85"/><circle cx="104.4" cy="57.4" r="0.42" fill="#555" opacity="0.85"/><circle cx="107.9" cy="17.3" r="0.42" fill="#c8c8c8" opacity="0.85"/><circle cx="141.8" cy="16.2" r="0.42" fill="#555" opacity="0.85"/><circle cx="142.8" cy="43.9" r="0.42" fill="#555" opacity="0.85"/><circle cx="99.4" cy="53.4" r="0.42" fill="#c8c8c8" opacity="0.85"/><circle cx="99.9" cy="17.6" r="0.42" fill="#c8c8c8" opacity="0.85"/><circle cx="126.9" cy="15.1" r="0.42" fill="#555" opacity="0.85"/><circle cx="97.4" cy="36.5" r="0.42" fill="#555" opacity="0.85"/><circle cx="139.8" cy="23.3" r="0.42" fill="#c8c8c8" opacity="0.85"/><circle cx="128.6" cy="14.4" r="0.42" fill="#555" opacity="0.85"/><circle cx="141.4" cy="23.4" r="0.42" fill="#555" opacity="0.85"/><circle cx="109.6" cy="17.1" r="0.42" fill="#c8c8c8" opacity="0.85"/><circle cx="139.4" cy="46.2" r="0.42" fill="#c8c8c8" opacity="0.85"/><circle cx="140.9" cy="32.9" r="0.42" fill="#555" opacity="0.85"/><circle cx="112.8" cy="55.9" r="0.42" fill="#c8c8c8" opacity="0.85"/><circle cx="135.7" cy="17.0" r="0.42" fill="#c8c8c8" opacity="0.85"/><circle cx="95.6" cy="21.7" r="0.42" fill="#555" opacity="0.85"/><circle cx="105.0" cy="56.3" r="0.42" fill="#555" opacity="0.85"/><circle cx="95.7" cy="33.3" r="0.42" fill="#555" opacity="0.85"/><circle cx="118.7" cy="15.8" r="0.42" fill="#555" opacity="0.85"/><circle cx="111.8" cy="16.7" r="0.42" fill="#c8c8c8" opacity="0.85"/><circle cx="95.9" cy="15.5" r="0.42" fill="#555" opacity="0.85"/><circle cx="103.1" cy="18.0" r="0.42" fill="#c8c8c8" opacity="0.85"/><circle cx="125.5" cy="16.6" r="0.42" fill="#c8c8c8" opacity="0.85"/><circle cx="142.7" cy="20.1" r="0.42" fill="#555" opacity="0.85"/><circle cx="98.3" cy="54.7" r="0.42" fill="#c8c8c8" opacity="0.85"/><circle cx="135.3" cy="55.2" r="0.42" fill="#c8c8c8" opacity="0.85"/><circle cx="141.6" cy="25.7" r="0.42" fill="#555" opacity="0.85"/><circle cx="135.5" cy="15.7" r="0.42" fill="#555" opacity="0.85"/><circle cx="139.4" cy="44.7" r="0.42" fill="#c8c8c8" opacity="0.85"/><circle cx="137.3" cy="13.8" r="0.42" fill="#555" opacity="0.85"/><circle cx="118.0" cy="56.5" r="0.42" fill="#555" opacity="0.85"/><circle cx="134.9" cy="57.8" r="0.42" fill="#555" opacity="0.85"/><circle cx="141.8" cy="53.1" r="0.42" fill="#555" opacity="0.85"/><circle cx="142.0" cy="18.7" r="0.42" fill="#555" opacity="0.85"/><circle cx="122.6" cy="55.8" r="0.42" fill="#c8c8c8" opacity="0.85"/><circle cx="135.9" cy="15.2" r="0.42" fill="#555" opacity="0.85"/><circle cx="139.6" cy="49.5" r="0.42" fill="#c8c8c8" opacity="0.85"/><circle cx="99.5" cy="50.2" r="0.42" fill="#c8c8c8" opacity="0.85"/><circle cx="96.2" cy="38.9" r="0.42" fill="#555" opacity="0.85"/><circle cx="118.6" cy="16.4" r="0.42" fill="#c8c8c8" opacity="0.85"/><circle cx="99.3" cy="56.9" r="0.42" fill="#555" opacity="0.85"/><circle cx="99.0" cy="25.0" r="0.42" fill="#c8c8c8" opacity="0.85"/><circle cx="142.4" cy="56.9" r="0.42" fill="#555" opacity="0.85"/><circle cx="95.7" cy="22.5" r="0.42" fill="#555" opacity="0.85"/><circle cx="141.7" cy="34.0" r="0.42" fill="#555" opacity="0.85"/><rect x="88.75" y="1.1" width="57.25" height="57.00" fill="none" stroke="#8a8a8a" stroke-width="0.8"/><path d="M92.5,58 L92.5,41.25 L146,41.25" fill="none" stroke="#aaa" stroke-width="0.5"/><text x="87.00" y="7.00" font-size="3.6" text-anchor="end" fill="#888">10⁵</text><text x="87.00" y="19.50" font-size="3.6" text-anchor="end" fill="#888">10⁴</text><text x="87.00" y="32.50" font-size="3.6" text-anchor="end" fill="#888">10³</text><text x="87.00" y="46.00" font-size="3.6" text-anchor="end" fill="#888">10²</text><text x="87.00" y="52.00" font-size="3.6" text-anchor="end" fill="#888">0</text><text x="88.75" y="63.20" font-size="3.6" text-anchor="middle" fill="#888">0</text><text x="99.50" y="63.20" font-size="3.6" text-anchor="middle" fill="#888">500</text><text x="110.25" y="63.20" font-size="3.6" text-anchor="middle" fill="#888">1000</text><text x="121.00" y="63.20" font-size="3.6" text-anchor="middle" fill="#888">1500</text><text x="131.75" y="63.20" font-size="3.6" text-anchor="middle" fill="#888">2000</text><text x="142.50" y="63.20" font-size="3.6" text-anchor="middle" fill="#888">2500</text><text x="139.00" y="57.30" font-size="3" text-anchor="middle" fill="#888">Lin-neg</text><line x1="99" y1="58.4" x2="135" y2="58.4" stroke="#666" stroke-width="0.6" stroke-dasharray="0.6 0.6"/><path d="M100,81.5 Q106,74 120,73.5 Q136,74 142,81.5 Z" fill="url(#fr1)" filter="url(#b07)"/><circle cx="136.8" cy="79.7" r="0.35" fill="#888" opacity="0.8"/><circle cx="108.5" cy="79.5" r="0.35" fill="#888" opacity="0.8"/><circle cx="117.0" cy="75.6" r="0.35" fill="#888" opacity="0.8"/><circle cx="101.9" cy="78.9" r="0.35" fill="#888" opacity="0.8"/><circle cx="123.0" cy="76.1" r="0.35" fill="#888" opacity="0.8"/><circle cx="134.1" cy="75.4" r="0.35" fill="#888" opacity="0.8"/><circle cx="118.2" cy="74.6" r="0.35" fill="#888" opacity="0.8"/><circle cx="114.4" cy="80.2" r="0.35" fill="#888" opacity="0.8"/><circle cx="120.5" cy="75.1" r="0.35" fill="#888" opacity="0.8"/><circle cx="109.7" cy="78.5" r="0.35" fill="#888" opacity="0.8"/><circle cx="111.4" cy="80.2" r="0.35" fill="#888" opacity="0.8"/><circle cx="102.5" cy="80.1" r="0.35" fill="#888" opacity="0.8"/><circle cx="125.5" cy="79.8" r="0.35" fill="#888" opacity="0.8"/><circle cx="114.5" cy="74.5" r="0.35" fill="#888" opacity="0.8"/><circle cx="107.1" cy="78.4" r="0.35" fill="#888" opacity="0.8"/><circle cx="101.1" cy="74.8" r="0.35" fill="#888" opacity="0.8"/><circle cx="132.1" cy="80.1" r="0.35" fill="#888" opacity="0.8"/><circle cx="135.1" cy="79.9" r="0.35" fill="#888" opacity="0.8"/><circle cx="122.8" cy="80.1" r="0.35" fill="#888" opacity="0.8"/><circle cx="128.6" cy="77.9" r="0.35" fill="#888" opacity="0.8"/><circle cx="117.5" cy="74.2" r="0.35" fill="#888" opacity="0.8"/><circle cx="103.7" cy="75.7" r="0.35" fill="#888" opacity="0.8"/><circle cx="118.9" cy="74.8" r="0.35" fill="#888" opacity="0.8"/><circle cx="139.8" cy="78.0" r="0.35" fill="#888" opacity="0.8"/><circle cx="130.4" cy="80.2" r="0.35" fill="#888" opacity="0.8"/><circle cx="109.3" cy="80.2" r="0.35" fill="#888" opacity="0.8"/><circle cx="139.3" cy="75.9" r="0.35" fill="#888" opacity="0.8"/><circle cx="105.1" cy="79.6" r="0.35" fill="#888" opacity="0.8"/><circle cx="136.5" cy="79.6" r="0.35" fill="#888" opacity="0.8"/><circle cx="116.7" cy="78.2" r="0.35" fill="#888" opacity="0.8"/><circle cx="104.7" cy="75.6" r="0.35" fill="#888" opacity="0.8"/><circle cx="117.2" cy="79.2" r="0.35" fill="#888" opacity="0.8"/><circle cx="103.6" cy="80.5" r="0.35" fill="#888" opacity="0.8"/><circle cx="101.2" cy="80.8" r="0.35" fill="#888" opacity="0.8"/><circle cx="109.7" cy="79.7" r="0.35" fill="#888" opacity="0.8"/><circle cx="133.5" cy="80.7" r="0.35" fill="#888" opacity="0.8"/><circle cx="119.3" cy="78.9" r="0.35" fill="#888" opacity="0.8"/><circle cx="112.0" cy="79.8" r="0.35" fill="#888" opacity="0.8"/><circle cx="104.5" cy="80.2" r="0.35" fill="#888" opacity="0.8"/><circle cx="124.3" cy="74.4" r="0.35" fill="#888" opacity="0.8"/><circle cx="138.6" cy="76.2" r="0.35" fill="#888" opacity="0.8"/><circle cx="102.8" cy="75.8" r="0.35" fill="#888" opacity="0.8"/><circle cx="101.1" cy="76.0" r="0.35" fill="#888" opacity="0.8"/><circle cx="129.1" cy="80.9" r="0.35" fill="#888" opacity="0.8"/><circle cx="125.9" cy="80.0" r="0.35" fill="#888" opacity="0.8"/><circle cx="133.7" cy="79.0" r="0.35" fill="#888" opacity="0.8"/><circle cx="115.8" cy="75.8" r="0.35" fill="#888" opacity="0.8"/><circle cx="106.4" cy="77.8" r="0.35" fill="#888" opacity="0.8"/><circle cx="108.4" cy="79.2" r="0.35" fill="#888" opacity="0.8"/><circle cx="113.1" cy="78.1" r="0.35" fill="#888" opacity="0.8"/><circle cx="122.4" cy="78.4" r="0.35" fill="#888" opacity="0.8"/><circle cx="106.4" cy="75.8" r="0.35" fill="#888" opacity="0.8"/><circle cx="128.2" cy="75.5" r="0.35" fill="#888" opacity="0.8"/><circle cx="127.5" cy="80.8" r="0.35" fill="#888" opacity="0.8"/><circle cx="116.0" cy="80.7" r="0.35" fill="#888" opacity="0.8"/><circle cx="125.2" cy="80.6" r="0.35" fill="#888" opacity="0.8"/><circle cx="121.6" cy="79.3" r="0.35" fill="#888" opacity="0.8"/><circle cx="128.0" cy="75.4" r="0.35" fill="#888" opacity="0.8"/><circle cx="121.2" cy="78.1" r="0.35" fill="#888" opacity="0.8"/><circle cx="119.0" cy="78.6" r="0.35" fill="#888" opacity="0.8"/><circle cx="137.3" cy="79.6" r="0.35" fill="#888" opacity="0.8"/><circle cx="133.3" cy="75.0" r="0.35" fill="#888" opacity="0.8"/><circle cx="128.8" cy="78.4" r="0.35" fill="#888" opacity="0.8"/><circle cx="138.5" cy="74.0" r="0.35" fill="#888" opacity="0.8"/><circle cx="107.1" cy="80.8" r="0.35" fill="#888" opacity="0.8"/><circle cx="115.3" cy="78.9" r="0.35" fill="#888" opacity="0.8"/><circle cx="124.3" cy="76.8" r="0.35" fill="#888" opacity="0.8"/><circle cx="118.0" cy="77.9" r="0.35" fill="#888" opacity="0.8"/><circle cx="140.4" cy="77.7" r="0.35" fill="#888" opacity="0.8"/><circle cx="132.4" cy="76.1" r="0.35" fill="#888" opacity="0.8"/><path d="M98.7,84 Q99,81.5 102,81.5 L139,81.5 Q141.9,82 141.9,85 L141.9,119 Q141,121.7 138,121.7 L102,121.7 Q98.7,121.7 98.7,119 Z" fill="#3e3e3e" filter="url(#b1)"/><path d="M118,110 L141.9,98 L141.9,121.7 L110,121.7 Z" fill="#888" opacity="0.45" filter="url(#b15)"/><circle cx="135.3" cy="115.4" r="0.4" fill="#aaa" opacity="0.6"/><circle cx="136.0" cy="119.6" r="0.4" fill="#aaa" opacity="0.6"/><circle cx="121.7" cy="121.0" r="0.4" fill="#aaa" opacity="0.6"/><circle cx="133.1" cy="110.0" r="0.4" fill="#aaa" opacity="0.6"/><circle cx="130.0" cy="107.5" r="0.4" fill="#aaa" opacity="0.6"/><circle cx="125.0" cy="119.0" r="0.4" fill="#aaa" opacity="0.6"/><circle cx="135.3" cy="119.4" r="0.4" fill="#aaa" opacity="0.6"/><circle cx="123.5" cy="107.7" r="0.4" fill="#aaa" opacity="0.6"/><circle cx="128.2" cy="113.7" r="0.4" fill="#aaa" opacity="0.6"/><circle cx="135.3" cy="110.6" r="0.4" fill="#aaa" opacity="0.6"/><circle cx="135.9" cy="115.1" r="0.4" fill="#aaa" opacity="0.6"/><circle cx="126.2" cy="118.2" r="0.4" fill="#aaa" opacity="0.6"/><circle cx="121.6" cy="115.2" r="0.4" fill="#aaa" opacity="0.6"/><circle cx="124.0" cy="106.7" r="0.4" fill="#aaa" opacity="0.6"/><circle cx="130.3" cy="114.1" r="0.4" fill="#aaa" opacity="0.6"/><circle cx="133.2" cy="111.8" r="0.4" fill="#aaa" opacity="0.6"/><circle cx="140.0" cy="118.2" r="0.4" fill="#aaa" opacity="0.6"/><circle cx="123.3" cy="106.1" r="0.4" fill="#aaa" opacity="0.6"/><circle cx="140.7" cy="112.4" r="0.4" fill="#aaa" opacity="0.6"/><circle cx="122.3" cy="108.8" r="0.4" fill="#aaa" opacity="0.6"/><circle cx="135.1" cy="108.7" r="0.4" fill="#aaa" opacity="0.6"/><circle cx="128.0" cy="116.5" r="0.4" fill="#aaa" opacity="0.6"/><circle cx="127.6" cy="116.1" r="0.4" fill="#aaa" opacity="0.6"/><circle cx="140.4" cy="118.3" r="0.4" fill="#aaa" opacity="0.6"/><circle cx="133.5" cy="115.7" r="0.4" fill="#aaa" opacity="0.6"/><circle cx="126.7" cy="115.9" r="0.4" fill="#aaa" opacity="0.6"/><circle cx="134.0" cy="115.1" r="0.4" fill="#aaa" opacity="0.6"/><circle cx="130.6" cy="117.6" r="0.4" fill="#aaa" opacity="0.6"/><circle cx="124.4" cy="117.1" r="0.4" fill="#aaa" opacity="0.6"/><circle cx="141.0" cy="106.6" r="0.4" fill="#aaa" opacity="0.6"/><circle cx="125.4" cy="121.3" r="0.4" fill="#aaa" opacity="0.6"/><circle cx="121.8" cy="118.7" r="0.4" fill="#aaa" opacity="0.6"/><circle cx="132.5" cy="107.1" r="0.4" fill="#aaa" opacity="0.6"/><circle cx="133.5" cy="106.1" r="0.4" fill="#aaa" opacity="0.6"/><circle cx="138.3" cy="110.7" r="0.4" fill="#aaa" opacity="0.6"/><circle cx="139.9" cy="119.9" r="0.4" fill="#aaa" opacity="0.6"/><circle cx="122.9" cy="112.2" r="0.4" fill="#aaa" opacity="0.6"/><circle cx="123.3" cy="117.7" r="0.4" fill="#aaa" opacity="0.6"/><circle cx="122.1" cy="107.1" r="0.4" fill="#aaa" opacity="0.6"/><circle cx="122.5" cy="119.3" r="0.4" fill="#aaa" opacity="0.6"/><circle cx="125.3" cy="111.0" r="0.4" fill="#aaa" opacity="0.6"/><circle cx="129.6" cy="114.6" r="0.4" fill="#aaa" opacity="0.6"/><circle cx="128.9" cy="120.7" r="0.4" fill="#aaa" opacity="0.6"/><circle cx="127.3" cy="113.4" r="0.4" fill="#aaa" opacity="0.6"/><circle cx="138.5" cy="109.8" r="0.4" fill="#aaa" opacity="0.6"/><circle cx="123.7" cy="119.0" r="0.4" fill="#aaa" opacity="0.6"/><circle cx="126.8" cy="119.8" r="0.4" fill="#aaa" opacity="0.6"/><circle cx="137.7" cy="111.8" r="0.4" fill="#aaa" opacity="0.6"/><circle cx="127.2" cy="107.6" r="0.4" fill="#aaa" opacity="0.6"/><circle cx="138.8" cy="112.9" r="0.4" fill="#aaa" opacity="0.6"/><circle cx="127.4" cy="108.7" r="0.4" fill="#aaa" opacity="0.6"/><circle cx="124.9" cy="119.5" r="0.4" fill="#aaa" opacity="0.6"/><circle cx="122.8" cy="114.6" r="0.4" fill="#aaa" opacity="0.6"/><circle cx="133.4" cy="114.1" r="0.4" fill="#aaa" opacity="0.6"/><circle cx="130.8" cy="112.2" r="0.4" fill="#aaa" opacity="0.6"/><circle cx="124.1" cy="118.7" r="0.4" fill="#aaa" opacity="0.6"/><circle cx="139.3" cy="114.7" r="0.4" fill="#aaa" opacity="0.6"/><circle cx="125.4" cy="120.1" r="0.4" fill="#aaa" opacity="0.6"/><circle cx="124.3" cy="108.6" r="0.4" fill="#aaa" opacity="0.6"/><circle cx="133.5" cy="118.9" r="0.4" fill="#aaa" opacity="0.6"/><circle cx="132.3" cy="107.7" r="0.4" fill="#aaa" opacity="0.6"/><circle cx="141.0" cy="108.4" r="0.4" fill="#aaa" opacity="0.6"/><circle cx="127.4" cy="121.3" r="0.4" fill="#aaa" opacity="0.6"/><circle cx="137.0" cy="117.7" r="0.4" fill="#aaa" opacity="0.6"/><circle cx="121.6" cy="119.2" r="0.4" fill="#aaa" opacity="0.6"/><circle cx="128.6" cy="106.2" r="0.4" fill="#aaa" opacity="0.6"/><circle cx="137.0" cy="120.4" r="0.4" fill="#aaa" opacity="0.6"/><circle cx="121.0" cy="113.0" r="0.4" fill="#aaa" opacity="0.6"/><circle cx="139.4" cy="111.2" r="0.4" fill="#aaa" opacity="0.6"/><circle cx="126.5" cy="118.1" r="0.4" fill="#aaa" opacity="0.6"/><circle cx="129.5" cy="121.5" r="0.4" fill="#aaa" opacity="0.6"/><circle cx="138.4" cy="119.3" r="0.4" fill="#aaa" opacity="0.6"/><circle cx="135.2" cy="109.0" r="0.4" fill="#aaa" opacity="0.6"/><circle cx="134.8" cy="115.0" r="0.4" fill="#aaa" opacity="0.6"/><circle cx="130.4" cy="114.8" r="0.4" fill="#aaa" opacity="0.6"/><circle cx="126.6" cy="109.1" r="0.4" fill="#aaa" opacity="0.6"/><circle cx="139.6" cy="111.7" r="0.4" fill="#aaa" opacity="0.6"/><circle cx="122.3" cy="121.1" r="0.4" fill="#aaa" opacity="0.6"/><circle cx="131.0" cy="116.5" r="0.4" fill="#aaa" opacity="0.6"/><circle cx="127.3" cy="108.3" r="0.4" fill="#aaa" opacity="0.6"/><circle cx="127.1" cy="118.9" r="0.4" fill="#aaa" opacity="0.6"/><circle cx="125.9" cy="120.1" r="0.4" fill="#aaa" opacity="0.6"/><circle cx="126.5" cy="119.9" r="0.4" fill="#aaa" opacity="0.6"/><circle cx="123.8" cy="112.9" r="0.4" fill="#aaa" opacity="0.6"/><circle cx="122.8" cy="108.3" r="0.4" fill="#aaa" opacity="0.6"/><circle cx="131.2" cy="111.7" r="0.4" fill="#aaa" opacity="0.6"/><circle cx="131.6" cy="109.4" r="0.4" fill="#aaa" opacity="0.6"/><circle cx="126.7" cy="111.0" r="0.4" fill="#aaa" opacity="0.6"/><circle cx="139.3" cy="107.3" r="0.4" fill="#aaa" opacity="0.6"/><circle cx="128.9" cy="119.2" r="0.4" fill="#aaa" opacity="0.6"/><path d="M100.8,89.5 Q101.5,86.5 105,86.5 L115,86 L126,86.2 Q130.5,87.2 128.5,90.5 L120,96 L112.5,101.5 L108,107.5 Q105,111.5 102.5,110.5 Q100.6,109 100.6,101 Z" fill="#c8c8c8" filter="url(#b1)"/><ellipse cx="112" cy="91" rx="9" ry="3.5" fill="#e0e0e0" filter="url(#b1)"/><ellipse cx="105" cy="100.5" rx="4" ry="5" fill="#eee" filter="url(#b07)"/><ellipse cx="105" cy="100.5" rx="2.4" ry="2.8" fill="#555" filter="url(#b05)"/><circle cx="144.0" cy="84.1" r="0.42" fill="#555" opacity="0.85"/><circle cx="103.0" cy="80.1" r="0.42" fill="#555" opacity="0.85"/><circle cx="134.5" cy="82.8" r="0.42" fill="#c8c8c8" opacity="0.85"/><circle cx="97.3" cy="108.9" r="0.42" fill="#555" opacity="0.85"/><circle cx="100.7" cy="102.8" r="0.42" fill="#c8c8c8" opacity="0.85"/><circle cx="129.8" cy="81.8" r="0.42" fill="#c8c8c8" opacity="0.85"/><circle cx="107.0" cy="82.8" r="0.42" fill="#c8c8c8" opacity="0.85"/><circle cx="117.6" cy="122.1" r="0.42" fill="#555" opacity="0.85"/><circle cx="142.5" cy="113.5" r="0.42" fill="#555" opacity="0.85"/><circle cx="129.1" cy="80.3" r="0.42" fill="#555" opacity="0.85"/><circle cx="112.8" cy="122.1" r="0.42" fill="#555" opacity="0.85"/><circle cx="97.7" cy="98.8" r="0.42" fill="#555" opacity="0.85"/><circle cx="100.5" cy="91.8" r="0.42" fill="#c8c8c8" opacity="0.85"/><circle cx="99.0" cy="98.5" r="0.42" fill="#c8c8c8" opacity="0.85"/><circle cx="139.8" cy="121.2" r="0.42" fill="#c8c8c8" opacity="0.85"/><circle cx="97.6" cy="101.1" r="0.42" fill="#555" opacity="0.85"/><circle cx="99.0" cy="102.2" r="0.42" fill="#c8c8c8" opacity="0.85"/><circle cx="100.7" cy="105.6" r="0.42" fill="#c8c8c8" opacity="0.85"/><circle cx="111.1" cy="122.9" r="0.42" fill="#555" opacity="0.85"/><circle cx="141.1" cy="85.2" r="0.42" fill="#c8c8c8" opacity="0.85"/><circle cx="139.7" cy="114.4" r="0.42" fill="#c8c8c8" opacity="0.85"/><circle cx="126.8" cy="122.9" r="0.42" fill="#555" opacity="0.85"/><circle cx="129.7" cy="83.7" r="0.42" fill="#c8c8c8" opacity="0.85"/><circle cx="98.0" cy="90.7" r="0.42" fill="#555" opacity="0.85"/><circle cx="100.6" cy="117.1" r="0.42" fill="#c8c8c8" opacity="0.85"/><circle cx="96.5" cy="117.1" r="0.42" fill="#555" opacity="0.85"/><circle cx="132.5" cy="121.3" r="0.42" fill="#c8c8c8" opacity="0.85"/><circle cx="140.8" cy="122.2" r="0.42" fill="#555" opacity="0.85"/><circle cx="140.8" cy="91.0" r="0.42" fill="#c8c8c8" opacity="0.85"/><circle cx="110.3" cy="81.3" r="0.42" fill="#555" opacity="0.85"/><circle cx="100.8" cy="90.9" r="0.42" fill="#c8c8c8" opacity="0.85"/><circle cx="143.9" cy="112.5" r="0.42" fill="#555" opacity="0.85"/><circle cx="141.7" cy="117.3" r="0.42" fill="#c8c8c8" opacity="0.85"/><circle cx="143.7" cy="115.9" r="0.42" fill="#555" opacity="0.85"/><circle cx="140.1" cy="98.4" r="0.42" fill="#c8c8c8" opacity="0.85"/><circle cx="98.1" cy="93.2" r="0.42" fill="#555" opacity="0.85"/><circle cx="97.1" cy="91.5" r="0.42" fill="#555" opacity="0.85"/><circle cx="108.3" cy="83.5" r="0.42" fill="#c8c8c8" opacity="0.85"/><circle cx="124.6" cy="121.4" r="0.42" fill="#c8c8c8" opacity="0.85"/><circle cx="99.9" cy="90.7" r="0.42" fill="#c8c8c8" opacity="0.85"/><circle cx="100.2" cy="120.8" r="0.42" fill="#c8c8c8" opacity="0.85"/><circle cx="135.2" cy="79.4" r="0.42" fill="#555" opacity="0.85"/><circle cx="141.3" cy="102.9" r="0.42" fill="#c8c8c8" opacity="0.85"/><circle cx="97.6" cy="83.1" r="0.42" fill="#555" opacity="0.85"/><circle cx="125.0" cy="123.9" r="0.42" fill="#555" opacity="0.85"/><circle cx="131.4" cy="120.7" r="0.42" fill="#c8c8c8" opacity="0.85"/><circle cx="96.5" cy="111.6" r="0.42" fill="#555" opacity="0.85"/><circle cx="132.3" cy="81.2" r="0.42" fill="#555" opacity="0.85"/><circle cx="99.5" cy="93.5" r="0.42" fill="#c8c8c8" opacity="0.85"/><circle cx="141.9" cy="112.8" r="0.42" fill="#c8c8c8" opacity="0.85"/><circle cx="100.0" cy="103.6" r="0.42" fill="#c8c8c8" opacity="0.85"/><circle cx="143.2" cy="96.0" r="0.42" fill="#555" opacity="0.85"/><circle cx="144.0" cy="113.6" r="0.42" fill="#555" opacity="0.85"/><circle cx="138.8" cy="123.0" r="0.42" fill="#555" opacity="0.85"/><circle cx="141.9" cy="104.9" r="0.42" fill="#c8c8c8" opacity="0.85"/><circle cx="96.9" cy="87.7" r="0.42" fill="#555" opacity="0.85"/><circle cx="140.2" cy="107.9" r="0.42" fill="#c8c8c8" opacity="0.85"/><circle cx="140.1" cy="119.5" r="0.42" fill="#c8c8c8" opacity="0.85"/><circle cx="143.1" cy="83.3" r="0.42" fill="#555" opacity="0.85"/><circle cx="99.9" cy="87.4" r="0.42" fill="#c8c8c8" opacity="0.85"/><circle cx="135.0" cy="81.1" r="0.42" fill="#555" opacity="0.85"/><circle cx="140.9" cy="94.3" r="0.42" fill="#c8c8c8" opacity="0.85"/><circle cx="100.2" cy="88.2" r="0.42" fill="#c8c8c8" opacity="0.85"/><circle cx="121.6" cy="82.5" r="0.42" fill="#c8c8c8" opacity="0.85"/><circle cx="114.9" cy="80.5" r="0.42" fill="#555" opacity="0.85"/><circle cx="141.3" cy="95.4" r="0.42" fill="#c8c8c8" opacity="0.85"/><circle cx="126.9" cy="123.6" r="0.42" fill="#555" opacity="0.85"/><circle cx="130.0" cy="81.6" r="0.42" fill="#c8c8c8" opacity="0.85"/><circle cx="118.2" cy="121.8" r="0.42" fill="#555" opacity="0.85"/><circle cx="142.1" cy="92.0" r="0.42" fill="#555" opacity="0.85"/><circle cx="140.0" cy="88.3" r="0.42" fill="#c8c8c8" opacity="0.85"/><circle cx="133.3" cy="123.3" r="0.42" fill="#555" opacity="0.85"/><circle cx="142.6" cy="89.0" r="0.42" fill="#555" opacity="0.85"/><circle cx="114.2" cy="121.6" r="0.42" fill="#c8c8c8" opacity="0.85"/><circle cx="100.5" cy="83.3" r="0.42" fill="#c8c8c8" opacity="0.85"/><circle cx="99.6" cy="122.1" r="0.42" fill="#555" opacity="0.85"/><circle cx="143.8" cy="110.0" r="0.42" fill="#555" opacity="0.85"/><circle cx="139.9" cy="104.6" r="0.42" fill="#c8c8c8" opacity="0.85"/><circle cx="114.0" cy="81.4" r="0.42" fill="#555" opacity="0.85"/><circle cx="98.4" cy="119.3" r="0.42" fill="#555" opacity="0.85"/><circle cx="113.1" cy="79.4" r="0.42" fill="#555" opacity="0.85"/><circle cx="137.3" cy="123.2" r="0.42" fill="#555" opacity="0.85"/><circle cx="107.4" cy="119.9" r="0.42" fill="#c8c8c8" opacity="0.85"/><circle cx="98.4" cy="117.6" r="0.42" fill="#555" opacity="0.85"/><circle cx="132.5" cy="120.9" r="0.42" fill="#c8c8c8" opacity="0.85"/><circle cx="140.9" cy="96.0" r="0.42" fill="#c8c8c8" opacity="0.85"/><circle cx="128.2" cy="82.3" r="0.42" fill="#c8c8c8" opacity="0.85"/><circle cx="142.7" cy="84.4" r="0.42" fill="#555" opacity="0.85"/><circle cx="97.8" cy="91.8" r="0.42" fill="#555" opacity="0.85"/><circle cx="134.4" cy="122.6" r="0.42" fill="#555" opacity="0.85"/><circle cx="122.3" cy="82.6" r="0.42" fill="#c8c8c8" opacity="0.85"/><circle cx="99.0" cy="122.3" r="0.42" fill="#555" opacity="0.85"/><circle cx="104.7" cy="122.3" r="0.42" fill="#555" opacity="0.85"/><circle cx="143.4" cy="89.2" r="0.42" fill="#555" opacity="0.85"/><circle cx="139.8" cy="113.0" r="0.42" fill="#c8c8c8" opacity="0.85"/><circle cx="142.5" cy="115.3" r="0.42" fill="#555" opacity="0.85"/><circle cx="105.0" cy="81.0" r="0.42" fill="#555" opacity="0.85"/><circle cx="141.0" cy="115.9" r="0.42" fill="#c8c8c8" opacity="0.85"/><circle cx="124.9" cy="82.8" r="0.42" fill="#c8c8c8" opacity="0.85"/><circle cx="99.3" cy="121.8" r="0.42" fill="#555" opacity="0.85"/><circle cx="106.9" cy="82.9" r="0.42" fill="#c8c8c8" opacity="0.85"/><circle cx="140.9" cy="103.2" r="0.42" fill="#c8c8c8" opacity="0.85"/><circle cx="124.2" cy="120.3" r="0.42" fill="#c8c8c8" opacity="0.85"/><circle cx="99.3" cy="115.2" r="0.42" fill="#c8c8c8" opacity="0.85"/><circle cx="100.7" cy="98.5" r="0.42" fill="#c8c8c8" opacity="0.85"/><circle cx="144.0" cy="109.1" r="0.42" fill="#555" opacity="0.85"/><circle cx="123.1" cy="79.8" r="0.42" fill="#555" opacity="0.85"/><circle cx="113.4" cy="79.4" r="0.42" fill="#555" opacity="0.85"/><circle cx="123.2" cy="121.6" r="0.42" fill="#c8c8c8" opacity="0.85"/><circle cx="130.8" cy="121.9" r="0.42" fill="#555" opacity="0.85"/><circle cx="108.0" cy="121.0" r="0.42" fill="#c8c8c8" opacity="0.85"/><circle cx="97.7" cy="80.4" r="0.42" fill="#555" opacity="0.85"/><circle cx="135.0" cy="79.6" r="0.42" fill="#555" opacity="0.85"/><circle cx="132.0" cy="122.9" r="0.42" fill="#555" opacity="0.85"/><circle cx="98.9" cy="87.3" r="0.42" fill="#c8c8c8" opacity="0.85"/><circle cx="115.6" cy="120.4" r="0.42" fill="#c8c8c8" opacity="0.85"/><circle cx="118.0" cy="123.3" r="0.42" fill="#555" opacity="0.85"/><circle cx="141.4" cy="104.6" r="0.42" fill="#c8c8c8" opacity="0.85"/><circle cx="120.0" cy="82.5" r="0.42" fill="#c8c8c8" opacity="0.85"/><circle cx="96.8" cy="82.1" r="0.42" fill="#555" opacity="0.85"/><circle cx="114.7" cy="80.0" r="0.42" fill="#555" opacity="0.85"/><circle cx="143.2" cy="92.2" r="0.42" fill="#555" opacity="0.85"/><circle cx="105.1" cy="80.1" r="0.42" fill="#555" opacity="0.85"/><circle cx="122.3" cy="81.7" r="0.42" fill="#c8c8c8" opacity="0.85"/><circle cx="140.6" cy="90.4" r="0.42" fill="#c8c8c8" opacity="0.85"/><circle cx="97.0" cy="105.8" r="0.42" fill="#555" opacity="0.85"/><circle cx="143.5" cy="111.3" r="0.42" fill="#555" opacity="0.85"/><circle cx="142.5" cy="99.0" r="0.42" fill="#555" opacity="0.85"/><circle cx="126.8" cy="123.1" r="0.42" fill="#555" opacity="0.85"/><circle cx="135.4" cy="83.3" r="0.42" fill="#c8c8c8" opacity="0.85"/><circle cx="96.8" cy="98.2" r="0.42" fill="#555" opacity="0.85"/><circle cx="138.5" cy="120.4" r="0.42" fill="#c8c8c8" opacity="0.85"/><circle cx="134.3" cy="82.6" r="0.42" fill="#c8c8c8" opacity="0.85"/><circle cx="97.8" cy="114.1" r="0.42" fill="#555" opacity="0.85"/><circle cx="105.8" cy="79.8" r="0.42" fill="#555" opacity="0.85"/><circle cx="97.7" cy="113.4" r="0.42" fill="#555" opacity="0.85"/><circle cx="132.3" cy="119.7" r="0.42" fill="#c8c8c8" opacity="0.85"/><circle cx="97.8" cy="119.1" r="0.42" fill="#555" opacity="0.85"/><circle cx="100.4" cy="104.7" r="0.42" fill="#c8c8c8" opacity="0.85"/><circle cx="127.6" cy="81.4" r="0.42" fill="#555" opacity="0.85"/><circle cx="98.2" cy="91.3" r="0.42" fill="#555" opacity="0.85"/><circle cx="130.9" cy="122.9" r="0.42" fill="#555" opacity="0.85"/><circle cx="134.0" cy="122.1" r="0.42" fill="#555" opacity="0.85"/><circle cx="141.6" cy="95.6" r="0.42" fill="#c8c8c8" opacity="0.85"/><circle cx="96.8" cy="95.1" r="0.42" fill="#555" opacity="0.85"/><circle cx="110.9" cy="81.6" r="0.42" fill="#c8c8c8" opacity="0.85"/><circle cx="142.6" cy="79.8" r="0.42" fill="#555" opacity="0.85"/><circle cx="143.5" cy="95.2" r="0.42" fill="#555" opacity="0.85"/><circle cx="128.2" cy="120.0" r="0.42" fill="#c8c8c8" opacity="0.85"/><circle cx="107.5" cy="121.9" r="0.42" fill="#555" opacity="0.85"/><circle cx="141.3" cy="100.0" r="0.42" fill="#c8c8c8" opacity="0.85"/><circle cx="140.8" cy="96.9" r="0.42" fill="#c8c8c8" opacity="0.85"/><circle cx="117.3" cy="120.5" r="0.42" fill="#c8c8c8" opacity="0.85"/><circle cx="125.2" cy="81.7" r="0.42" fill="#c8c8c8" opacity="0.85"/><circle cx="112.7" cy="81.9" r="0.42" fill="#c8c8c8" opacity="0.85"/><circle cx="135.8" cy="119.6" r="0.42" fill="#c8c8c8" opacity="0.85"/><circle cx="113.7" cy="79.6" r="0.42" fill="#555" opacity="0.85"/><circle cx="97.4" cy="120.9" r="0.42" fill="#555" opacity="0.85"/><circle cx="125.8" cy="81.1" r="0.42" fill="#555" opacity="0.85"/><circle cx="111.6" cy="82.8" r="0.42" fill="#c8c8c8" opacity="0.85"/><circle cx="102.0" cy="120.2" r="0.42" fill="#c8c8c8" opacity="0.85"/><circle cx="109.7" cy="82.1" r="0.42" fill="#c8c8c8" opacity="0.85"/><circle cx="140.9" cy="118.1" r="0.42" fill="#c8c8c8" opacity="0.85"/><circle cx="137.8" cy="80.9" r="0.42" fill="#555" opacity="0.85"/><circle cx="142.8" cy="104.3" r="0.42" fill="#555" opacity="0.85"/><circle cx="103.6" cy="123.3" r="0.42" fill="#555" opacity="0.85"/><circle cx="102.4" cy="123.2" r="0.42" fill="#555" opacity="0.85"/><circle cx="98.0" cy="82.8" r="0.42" fill="#555" opacity="0.85"/><circle cx="111.8" cy="121.9" r="0.42" fill="#555" opacity="0.85"/><circle cx="102.8" cy="120.1" r="0.42" fill="#c8c8c8" opacity="0.85"/><circle cx="105.2" cy="81.2" r="0.42" fill="#555" opacity="0.85"/><circle cx="143.4" cy="110.9" r="0.42" fill="#555" opacity="0.85"/><circle cx="100.1" cy="90.5" r="0.42" fill="#c8c8c8" opacity="0.85"/><circle cx="97.0" cy="116.9" r="0.42" fill="#555" opacity="0.85"/><circle cx="117.2" cy="82.3" r="0.42" fill="#c8c8c8" opacity="0.85"/><circle cx="100.0" cy="117.7" r="0.42" fill="#c8c8c8" opacity="0.85"/><circle cx="99.8" cy="123.2" r="0.42" fill="#555" opacity="0.85"/><circle cx="140.7" cy="83.6" r="0.42" fill="#c8c8c8" opacity="0.85"/><circle cx="96.5" cy="82.8" r="0.42" fill="#555" opacity="0.85"/><circle cx="98.4" cy="87.9" r="0.42" fill="#555" opacity="0.85"/><circle cx="123.6" cy="82.2" r="0.42" fill="#c8c8c8" opacity="0.85"/><circle cx="112.3" cy="82.0" r="0.42" fill="#c8c8c8" opacity="0.85"/><circle cx="139.9" cy="79.8" r="0.42" fill="#555" opacity="0.85"/><circle cx="112.7" cy="123.5" r="0.42" fill="#555" opacity="0.85"/><circle cx="141.0" cy="97.1" r="0.42" fill="#c8c8c8" opacity="0.85"/><circle cx="122.5" cy="121.9" r="0.42" fill="#555" opacity="0.85"/><circle cx="100.1" cy="91.0" r="0.42" fill="#c8c8c8" opacity="0.85"/><circle cx="143.5" cy="90.4" r="0.42" fill="#555" opacity="0.85"/><circle cx="134.9" cy="79.6" r="0.42" fill="#555" opacity="0.85"/><circle cx="111.4" cy="121.4" r="0.42" fill="#c8c8c8" opacity="0.85"/><circle cx="142.1" cy="92.6" r="0.42" fill="#555" opacity="0.85"/><circle cx="103.0" cy="120.3" r="0.42" fill="#c8c8c8" opacity="0.85"/><circle cx="99.3" cy="79.7" r="0.42" fill="#555" opacity="0.85"/><circle cx="141.1" cy="87.5" r="0.42" fill="#c8c8c8" opacity="0.85"/><circle cx="102.2" cy="83.3" r="0.42" fill="#c8c8c8" opacity="0.85"/><circle cx="96.6" cy="91.8" r="0.42" fill="#555" opacity="0.85"/><circle cx="97.5" cy="106.5" r="0.42" fill="#555" opacity="0.85"/><circle cx="119.1" cy="81.4" r="0.42" fill="#555" opacity="0.85"/><circle cx="100.0" cy="111.7" r="0.42" fill="#c8c8c8" opacity="0.85"/><circle cx="98.6" cy="106.7" r="0.42" fill="#555" opacity="0.85"/><circle cx="98.8" cy="113.8" r="0.42" fill="#c8c8c8" opacity="0.85"/><circle cx="107.2" cy="121.4" r="0.42" fill="#c8c8c8" opacity="0.85"/><circle cx="139.7" cy="93.5" r="0.42" fill="#c8c8c8" opacity="0.85"/><circle cx="98.3" cy="104.1" r="0.42" fill="#555" opacity="0.85"/><circle cx="111.1" cy="121.5" r="0.42" fill="#c8c8c8" opacity="0.85"/><circle cx="97.0" cy="97.0" r="0.42" fill="#555" opacity="0.85"/><circle cx="138.0" cy="122.5" r="0.42" fill="#555" opacity="0.85"/><circle cx="115.0" cy="83.1" r="0.42" fill="#c8c8c8" opacity="0.85"/><circle cx="143.2" cy="94.1" r="0.42" fill="#555" opacity="0.85"/><circle cx="141.2" cy="106.2" r="0.42" fill="#c8c8c8" opacity="0.85"/><circle cx="141.1" cy="95.7" r="0.42" fill="#c8c8c8" opacity="0.85"/><circle cx="142.5" cy="85.0" r="0.42" fill="#555" opacity="0.85"/><circle cx="107.8" cy="82.2" r="0.42" fill="#c8c8c8" opacity="0.85"/><circle cx="140.7" cy="118.8" r="0.42" fill="#c8c8c8" opacity="0.85"/><circle cx="101.1" cy="80.2" r="0.42" fill="#555" opacity="0.85"/><circle cx="120.9" cy="121.4" r="0.42" fill="#c8c8c8" opacity="0.85"/><circle cx="100.2" cy="99.6" r="0.42" fill="#c8c8c8" opacity="0.85"/><circle cx="134.3" cy="79.8" r="0.42" fill="#555" opacity="0.85"/><circle cx="100.7" cy="108.6" r="0.42" fill="#c8c8c8" opacity="0.85"/><circle cx="141.9" cy="89.6" r="0.42" fill="#c8c8c8" opacity="0.85"/><circle cx="104.2" cy="79.8" r="0.42" fill="#555" opacity="0.85"/><circle cx="100.3" cy="118.7" r="0.42" fill="#c8c8c8" opacity="0.85"/><circle cx="119.7" cy="122.7" r="0.42" fill="#555" opacity="0.85"/><circle cx="139.6" cy="119.7" r="0.42" fill="#c8c8c8" opacity="0.85"/><circle cx="100.3" cy="112.6" r="0.42" fill="#c8c8c8" opacity="0.85"/><circle cx="101.5" cy="121.1" r="0.42" fill="#c8c8c8" opacity="0.85"/><circle cx="96.7" cy="89.1" r="0.42" fill="#555" opacity="0.85"/><circle cx="127.4" cy="83.4" r="0.42" fill="#c8c8c8" opacity="0.85"/><circle cx="101.9" cy="82.0" r="0.42" fill="#c8c8c8" opacity="0.85"/><circle cx="97.1" cy="102.3" r="0.42" fill="#555" opacity="0.85"/><circle cx="140.7" cy="122.6" r="0.42" fill="#555" opacity="0.85"/><circle cx="133.8" cy="80.9" r="0.42" fill="#555" opacity="0.85"/><circle cx="128.5" cy="119.7" r="0.42" fill="#c8c8c8" opacity="0.85"/><circle cx="138.4" cy="122.5" r="0.42" fill="#555" opacity="0.85"/><circle cx="139.5" cy="80.2" r="0.42" fill="#555" opacity="0.85"/><circle cx="122.5" cy="83.6" r="0.42" fill="#c8c8c8" opacity="0.85"/><circle cx="100.3" cy="99.1" r="0.42" fill="#c8c8c8" opacity="0.85"/><circle cx="104.8" cy="79.9" r="0.42" fill="#555" opacity="0.85"/><circle cx="111.8" cy="123.4" r="0.42" fill="#555" opacity="0.85"/><circle cx="134.8" cy="82.1" r="0.42" fill="#c8c8c8" opacity="0.85"/><circle cx="98.0" cy="116.7" r="0.42" fill="#555" opacity="0.85"/><circle cx="121.5" cy="80.4" r="0.42" fill="#555" opacity="0.85"/><circle cx="141.0" cy="118.3" r="0.42" fill="#c8c8c8" opacity="0.85"/><circle cx="143.3" cy="118.0" r="0.42" fill="#555" opacity="0.85"/><circle cx="109.1" cy="123.1" r="0.42" fill="#555" opacity="0.85"/><circle cx="139.7" cy="108.4" r="0.42" fill="#c8c8c8" opacity="0.85"/><circle cx="97.6" cy="80.4" r="0.42" fill="#555" opacity="0.85"/><circle cx="97.3" cy="88.4" r="0.42" fill="#555" opacity="0.85"/><circle cx="143.2" cy="105.0" r="0.42" fill="#555" opacity="0.85"/><circle cx="107.0" cy="83.4" r="0.42" fill="#c8c8c8" opacity="0.85"/><circle cx="97.3" cy="79.9" r="0.42" fill="#555" opacity="0.85"/><circle cx="97.0" cy="91.4" r="0.42" fill="#555" opacity="0.85"/><circle cx="118.3" cy="80.9" r="0.42" fill="#555" opacity="0.85"/><circle cx="99.7" cy="117.9" r="0.42" fill="#c8c8c8" opacity="0.85"/><circle cx="104.5" cy="83.6" r="0.42" fill="#c8c8c8" opacity="0.85"/><circle cx="142.2" cy="104.4" r="0.42" fill="#555" opacity="0.85"/><circle cx="128.1" cy="79.8" r="0.42" fill="#555" opacity="0.85"/><circle cx="142.7" cy="121.0" r="0.42" fill="#555" opacity="0.85"/><circle cx="101.5" cy="119.6" r="0.42" fill="#c8c8c8" opacity="0.85"/><circle cx="126.0" cy="80.5" r="0.42" fill="#555" opacity="0.85"/><rect x="89.4" y="66.75" width="56.85" height="55.85" fill="none" stroke="#8a8a8a" stroke-width="0.8"/><path d="M93.1,122.4 L93.1,106.1 L146.25,106.1" fill="none" stroke="#aaa" stroke-width="0.5"/><text x="87.60" y="73.00" font-size="3.6" text-anchor="end" fill="#888">10⁵</text><text x="87.60" y="85.50" font-size="3.6" text-anchor="end" fill="#888">10⁴</text><text x="87.60" y="98.50" font-size="3.6" text-anchor="end" fill="#888">10³</text><text x="87.60" y="111.00" font-size="3.6" text-anchor="end" fill="#888">10²</text><text x="87.60" y="117.50" font-size="3.6" text-anchor="end" fill="#888">0</text><text x="89.40" y="129.20" font-size="3.6" text-anchor="middle" fill="#888">0</text><text x="100.12" y="129.20" font-size="3.6" text-anchor="middle" fill="#888">500</text><text x="110.84" y="129.20" font-size="3.6" text-anchor="middle" fill="#888">1000</text><text x="121.56" y="129.20" font-size="3.6" text-anchor="middle" fill="#888">1500</text><text x="132.28" y="129.20" font-size="3.6" text-anchor="middle" fill="#888">2000</text><text x="143.00" y="129.20" font-size="3.6" text-anchor="middle" fill="#888">2500</text><text x="140.00" y="121.60" font-size="3" text-anchor="middle" fill="#888">Lin-neg</text><line x1="100" y1="123.4" x2="135" y2="123.4" stroke="#555" stroke-width="0.7" stroke-dasharray="0.6 0.6"/><linearGradient id="va75" gradientUnits="userSpaceOnUse" x1="0" y1="23" x2="0" y2="118.5"><stop offset="0" stop-color="#111"/><stop offset="0.3" stop-color="#666"/><stop offset="1" stop-color="#999"/></linearGradient><rect x="75.14999999999999" y="28" width="1.3" height="90.5" fill="url(#va75)"/><path d="M74.6,30 L75.8,23 L77.0,30 Z" fill="#111"/><text x="65.60" y="78.52" font-size="7.4" fill="#333" textLength="24.86" lengthAdjust="spacingAndGlyphs" transform="rotate(-90 65.60 78.52)">lineage</text><line x1="98" y1="132.3" x2="138" y2="132.3" stroke="#333" stroke-width="1.3"/><path d="M137,131.10000000000002 L144,132.3 L137,133.5 Z" fill="#111"/><text x="112.28" y="141.50" font-size="7.3" fill="#222" stroke="#222" stroke-width="0.15" textLength="22.53" lengthAdjust="spacingAndGlyphs">FSC-A</text><g filter="url(#b15)"><rect x="200.5" y="11" width="14" height="44" fill="#8c8c8c"/><rect x="205" y="11" width="26" height="6" fill="#a8a8a8"/><path d="M214,17 L230,17 L235,30 L236,55 L214,55 Z" fill="#cccccc"/><path d="M214,40 L232,40 L232,55 L214,55 Z" fill="#b8b8b8"/></g><ellipse cx="206.5" cy="17" rx="5" ry="4.5" fill="none" stroke="#888" stroke-width="1.2" filter="url(#b07)"/><ellipse cx="206.6" cy="46" rx="6.8" ry="11" fill="#777" filter="url(#b1)"/><ellipse cx="206.6" cy="46.5" rx="4.4" ry="8.2" fill="#c4c4c4" filter="url(#b1)"/><ellipse cx="206.5" cy="47" rx="2" ry="3.5" fill="#a0a0a0" filter="url(#b07)"/><circle cx="207.0" cy="33.1" r="0.35" fill="#555" opacity="0.75"/><circle cx="207.1" cy="24.8" r="0.35" fill="#555" opacity="0.75"/><circle cx="204.3" cy="25.9" r="0.35" fill="#555" opacity="0.75"/><circle cx="212.4" cy="32.2" r="0.35" fill="#555" opacity="0.75"/><circle cx="212.1" cy="30.5" r="0.35" fill="#555" opacity="0.75"/><circle cx="209.6" cy="29.9" r="0.35" fill="#555" opacity="0.75"/><circle cx="201.3" cy="36.6" r="0.35" fill="#555" opacity="0.75"/><circle cx="210.0" cy="33.0" r="0.35" fill="#555" opacity="0.75"/><circle cx="201.2" cy="10.6" r="0.35" fill="#555" opacity="0.75"/><circle cx="204.4" cy="23.3" r="0.35" fill="#555" opacity="0.75"/><circle cx="209.2" cy="27.5" r="0.35" fill="#555" opacity="0.75"/><circle cx="210.1" cy="21.6" r="0.35" fill="#555" opacity="0.75"/><circle cx="209.2" cy="31.9" r="0.35" fill="#555" opacity="0.75"/><circle cx="205.4" cy="45.2" r="0.35" fill="#555" opacity="0.75"/><circle cx="210.2" cy="40.0" r="0.35" fill="#555" opacity="0.75"/><circle cx="205.5" cy="20.6" r="0.35" fill="#555" opacity="0.75"/><circle cx="206.6" cy="26.9" r="0.35" fill="#555" opacity="0.75"/><circle cx="210.5" cy="30.5" r="0.35" fill="#555" opacity="0.75"/><circle cx="206.2" cy="18.4" r="0.35" fill="#555" opacity="0.75"/><circle cx="205.9" cy="40.2" r="0.35" fill="#555" opacity="0.75"/><circle cx="204.8" cy="30.4" r="0.35" fill="#555" opacity="0.75"/><circle cx="209.7" cy="13.1" r="0.35" fill="#555" opacity="0.75"/><circle cx="208.2" cy="41.1" r="0.35" fill="#555" opacity="0.75"/><circle cx="207.6" cy="19.8" r="0.35" fill="#555" opacity="0.75"/><circle cx="210.0" cy="27.4" r="0.35" fill="#555" opacity="0.75"/><circle cx="202.1" cy="36.3" r="0.35" fill="#555" opacity="0.75"/><circle cx="210.7" cy="37.5" r="0.35" fill="#555" opacity="0.75"/><circle cx="213.8" cy="31.6" r="0.35" fill="#555" opacity="0.75"/><circle cx="208.5" cy="15.0" r="0.35" fill="#555" opacity="0.75"/><circle cx="210.5" cy="21.9" r="0.35" fill="#555" opacity="0.75"/><circle cx="206.2" cy="15.4" r="0.35" fill="#555" opacity="0.75"/><circle cx="204.1" cy="22.7" r="0.35" fill="#555" opacity="0.75"/><circle cx="202.2" cy="30.4" r="0.35" fill="#555" opacity="0.75"/><circle cx="213.8" cy="33.8" r="0.35" fill="#555" opacity="0.75"/><circle cx="209.4" cy="20.6" r="0.35" fill="#555" opacity="0.75"/><circle cx="203.5" cy="37.8" r="0.35" fill="#555" opacity="0.75"/><circle cx="212.4" cy="29.6" r="0.35" fill="#555" opacity="0.75"/><circle cx="209.0" cy="32.3" r="0.35" fill="#555" opacity="0.75"/><circle cx="214.4" cy="34.2" r="0.35" fill="#555" opacity="0.75"/><circle cx="210.1" cy="33.5" r="0.35" fill="#555" opacity="0.75"/><circle cx="201.7" cy="40.8" r="0.35" fill="#555" opacity="0.75"/><circle cx="211.8" cy="33.3" r="0.35" fill="#555" opacity="0.75"/><circle cx="200.1" cy="21.7" r="0.35" fill="#555" opacity="0.75"/><circle cx="211.4" cy="9.9" r="0.35" fill="#555" opacity="0.75"/><circle cx="207.3" cy="38.2" r="0.35" fill="#555" opacity="0.75"/><circle cx="202.8" cy="44.1" r="0.35" fill="#555" opacity="0.75"/><circle cx="210.2" cy="26.5" r="0.35" fill="#555" opacity="0.75"/><circle cx="209.3" cy="34.5" r="0.35" fill="#555" opacity="0.75"/><circle cx="208.5" cy="39.5" r="0.35" fill="#555" opacity="0.75"/><circle cx="205.4" cy="23.9" r="0.35" fill="#555" opacity="0.75"/><circle cx="212.2" cy="28.3" r="0.35" fill="#555" opacity="0.75"/><circle cx="204.5" cy="37.5" r="0.35" fill="#555" opacity="0.75"/><circle cx="213.9" cy="23.6" r="0.35" fill="#555" opacity="0.75"/><circle cx="202.5" cy="26.7" r="0.35" fill="#555" opacity="0.75"/><circle cx="207.4" cy="25.0" r="0.35" fill="#555" opacity="0.75"/><circle cx="213.6" cy="17.7" r="0.35" fill="#555" opacity="0.75"/><circle cx="213.0" cy="15.3" r="0.35" fill="#555" opacity="0.75"/><circle cx="204.9" cy="34.3" r="0.35" fill="#555" opacity="0.75"/><circle cx="212.5" cy="36.6" r="0.35" fill="#555" opacity="0.75"/><circle cx="209.4" cy="29.4" r="0.35" fill="#555" opacity="0.75"/><circle cx="208.6" cy="33.8" r="0.35" fill="#555" opacity="0.75"/><circle cx="207.3" cy="30.8" r="0.35" fill="#555" opacity="0.75"/><circle cx="210.3" cy="28.0" r="0.35" fill="#555" opacity="0.75"/><circle cx="211.1" cy="33.7" r="0.35" fill="#555" opacity="0.75"/><circle cx="216.0" cy="31.2" r="0.35" fill="#555" opacity="0.75"/><circle cx="206.3" cy="24.3" r="0.35" fill="#555" opacity="0.75"/><circle cx="207.9" cy="37.2" r="0.35" fill="#555" opacity="0.75"/><circle cx="206.7" cy="31.9" r="0.35" fill="#555" opacity="0.75"/><circle cx="203.5" cy="30.4" r="0.35" fill="#555" opacity="0.75"/><circle cx="209.6" cy="30.4" r="0.35" fill="#555" opacity="0.75"/><circle cx="206.3" cy="34.6" r="0.35" fill="#555" opacity="0.75"/><circle cx="209.1" cy="22.8" r="0.35" fill="#555" opacity="0.75"/><circle cx="217.7" cy="31.6" r="0.35" fill="#555" opacity="0.75"/><circle cx="205.8" cy="27.0" r="0.35" fill="#555" opacity="0.75"/><circle cx="207.1" cy="27.4" r="0.35" fill="#555" opacity="0.75"/><circle cx="212.0" cy="16.3" r="0.35" fill="#555" opacity="0.75"/><circle cx="207.7" cy="37.5" r="0.35" fill="#555" opacity="0.75"/><circle cx="211.4" cy="42.9" r="0.35" fill="#555" opacity="0.75"/><circle cx="201.2" cy="24.5" r="0.35" fill="#555" opacity="0.75"/><circle cx="206.6" cy="34.2" r="0.35" fill="#555" opacity="0.75"/><circle cx="212.4" cy="13.5" r="0.35" fill="#555" opacity="0.75"/><circle cx="210.7" cy="13.1" r="0.35" fill="#555" opacity="0.75"/><circle cx="208.7" cy="39.9" r="0.35" fill="#555" opacity="0.75"/><circle cx="207.4" cy="29.9" r="0.35" fill="#555" opacity="0.75"/><circle cx="211.2" cy="29.4" r="0.35" fill="#555" opacity="0.75"/><circle cx="207.6" cy="43.3" r="0.35" fill="#555" opacity="0.75"/><circle cx="212.2" cy="25.1" r="0.35" fill="#555" opacity="0.75"/><circle cx="219.0" cy="16.5" r="0.35" fill="#555" opacity="0.75"/><circle cx="211.7" cy="25.3" r="0.35" fill="#555" opacity="0.75"/><circle cx="208.5" cy="35.1" r="0.35" fill="#555" opacity="0.75"/><circle cx="208.9" cy="34.4" r="0.35" fill="#555" opacity="0.75"/><circle cx="201.9" cy="12.9" r="0.35" fill="#555" opacity="0.75"/><circle cx="210.5" cy="18.4" r="0.35" fill="#555" opacity="0.75"/><circle cx="203.9" cy="13.3" r="0.35" fill="#555" opacity="0.75"/><circle cx="213.1" cy="35.5" r="0.35" fill="#555" opacity="0.75"/><circle cx="213.9" cy="18.6" r="0.35" fill="#555" opacity="0.75"/><circle cx="208.0" cy="16.6" r="0.35" fill="#555" opacity="0.75"/><circle cx="211.1" cy="43.9" r="0.35" fill="#555" opacity="0.75"/><circle cx="204.4" cy="43.6" r="0.35" fill="#555" opacity="0.75"/><circle cx="212.0" cy="26.2" r="0.35" fill="#555" opacity="0.75"/><circle cx="200.1" cy="42.1" r="0.35" fill="#555" opacity="0.75"/><circle cx="207.6" cy="22.0" r="0.35" fill="#555" opacity="0.75"/><circle cx="209.6" cy="32.1" r="0.35" fill="#555" opacity="0.75"/><circle cx="214.0" cy="17.8" r="0.35" fill="#555" opacity="0.75"/><circle cx="212.5" cy="42.9" r="0.35" fill="#555" opacity="0.75"/><circle cx="213.8" cy="26.2" r="0.35" fill="#555" opacity="0.75"/><circle cx="205.0" cy="38.2" r="0.35" fill="#555" opacity="0.75"/><circle cx="208.5" cy="29.2" r="0.35" fill="#555" opacity="0.75"/><circle cx="213.7" cy="25.4" r="0.35" fill="#555" opacity="0.75"/><circle cx="200.6" cy="36.2" r="0.35" fill="#555" opacity="0.75"/><circle cx="209.3" cy="21.9" r="0.35" fill="#555" opacity="0.75"/><circle cx="208.0" cy="36.3" r="0.35" fill="#555" opacity="0.75"/><circle cx="208.3" cy="41.3" r="0.35" fill="#555" opacity="0.75"/><circle cx="207.8" cy="38.4" r="0.35" fill="#555" opacity="0.75"/><circle cx="214.0" cy="44.1" r="0.35" fill="#555" opacity="0.75"/><circle cx="205.3" cy="36.8" r="0.35" fill="#555" opacity="0.75"/><circle cx="200.5" cy="17.2" r="0.35" fill="#555" opacity="0.75"/><circle cx="200.1" cy="38.7" r="0.35" fill="#555" opacity="0.75"/><circle cx="203.1" cy="27.9" r="0.35" fill="#555" opacity="0.75"/><circle cx="207.2" cy="27.7" r="0.35" fill="#555" opacity="0.75"/><circle cx="205.6" cy="30.3" r="0.35" fill="#555" opacity="0.75"/><circle cx="215.2" cy="28.4" r="0.35" fill="#555" opacity="0.75"/><circle cx="210.1" cy="38.0" r="0.35" fill="#555" opacity="0.75"/><circle cx="207.2" cy="15.4" r="0.35" fill="#555" opacity="0.75"/><circle cx="205.8" cy="38.7" r="0.35" fill="#555" opacity="0.75"/><circle cx="201.4" cy="22.0" r="0.35" fill="#555" opacity="0.75"/><circle cx="212.0" cy="35.9" r="0.35" fill="#555" opacity="0.75"/><circle cx="208.0" cy="36.1" r="0.35" fill="#555" opacity="0.75"/><circle cx="208.7" cy="16.2" r="0.35" fill="#555" opacity="0.75"/><circle cx="201.7" cy="21.6" r="0.35" fill="#555" opacity="0.75"/><circle cx="211.7" cy="22.3" r="0.35" fill="#555" opacity="0.75"/><circle cx="204.4" cy="20.3" r="0.35" fill="#555" opacity="0.75"/><circle cx="201.9" cy="26.8" r="0.35" fill="#555" opacity="0.75"/><circle cx="203.3" cy="31.6" r="0.35" fill="#555" opacity="0.75"/><circle cx="210.9" cy="25.2" r="0.35" fill="#555" opacity="0.75"/><circle cx="209.2" cy="23.4" r="0.35" fill="#555" opacity="0.75"/><circle cx="211.1" cy="35.5" r="0.35" fill="#555" opacity="0.75"/><circle cx="210.7" cy="31.3" r="0.35" fill="#555" opacity="0.75"/><circle cx="213.3" cy="34.6" r="0.35" fill="#555" opacity="0.75"/><circle cx="211.6" cy="41.1" r="0.35" fill="#555" opacity="0.75"/><circle cx="206.8" cy="23.3" r="0.35" fill="#555" opacity="0.75"/><circle cx="215.8" cy="10.4" r="0.35" fill="#555" opacity="0.75"/><circle cx="209.9" cy="52.2" r="0.35" fill="#555" opacity="0.75"/><circle cx="204.3" cy="34.9" r="0.35" fill="#555" opacity="0.75"/><circle cx="215.5" cy="26.8" r="0.35" fill="#555" opacity="0.75"/><circle cx="210.2" cy="37.0" r="0.35" fill="#555" opacity="0.75"/><circle cx="204.4" cy="27.1" r="0.35" fill="#555" opacity="0.75"/><circle cx="209.2" cy="36.3" r="0.35" fill="#555" opacity="0.75"/><circle cx="207.9" cy="26.0" r="0.35" fill="#555" opacity="0.75"/><circle cx="203.9" cy="24.4" r="0.35" fill="#555" opacity="0.75"/><circle cx="211.6" cy="29.0" r="0.35" fill="#555" opacity="0.75"/><circle cx="204.6" cy="19.6" r="0.35" fill="#555" opacity="0.75"/><circle cx="218.7" cy="39.4" r="0.35" fill="#555" opacity="0.75"/><circle cx="210.5" cy="32.8" r="0.35" fill="#555" opacity="0.75"/><circle cx="214.7" cy="32.3" r="0.35" fill="#555" opacity="0.75"/><circle cx="207.7" cy="33.2" r="0.35" fill="#555" opacity="0.75"/><circle cx="200.2" cy="38.3" r="0.35" fill="#555" opacity="0.75"/><circle cx="209.3" cy="21.0" r="0.35" fill="#555" opacity="0.75"/><circle cx="213.3" cy="46.1" r="0.35" fill="#555" opacity="0.75"/><circle cx="202.4" cy="21.3" r="0.35" fill="#555" opacity="0.75"/><circle cx="209.2" cy="29.8" r="0.35" fill="#555" opacity="0.75"/><circle cx="206.4" cy="18.3" r="0.35" fill="#555" opacity="0.75"/><circle cx="216.5" cy="38.4" r="0.35" fill="#555" opacity="0.75"/><circle cx="203.2" cy="14.5" r="0.35" fill="#555" opacity="0.75"/><circle cx="214.8" cy="37.9" r="0.35" fill="#555" opacity="0.75"/><circle cx="215.3" cy="36.1" r="0.35" fill="#555" opacity="0.75"/><circle cx="204.5" cy="30.6" r="0.35" fill="#555" opacity="0.75"/><circle cx="207.8" cy="33.2" r="0.35" fill="#555" opacity="0.75"/><circle cx="205.1" cy="26.8" r="0.35" fill="#555" opacity="0.75"/><circle cx="209.8" cy="31.8" r="0.35" fill="#555" opacity="0.75"/><circle cx="210.6" cy="30.1" r="0.35" fill="#555" opacity="0.75"/><circle cx="206.7" cy="35.9" r="0.35" fill="#555" opacity="0.75"/><circle cx="208.2" cy="19.7" r="0.35" fill="#555" opacity="0.75"/><circle cx="205.5" cy="28.0" r="0.35" fill="#555" opacity="0.75"/><circle cx="207.6" cy="29.6" r="0.35" fill="#555" opacity="0.75"/><circle cx="208.0" cy="29.8" r="0.35" fill="#555" opacity="0.75"/><circle cx="207.5" cy="15.4" r="0.35" fill="#555" opacity="0.75"/><circle cx="209.7" cy="38.5" r="0.35" fill="#555" opacity="0.75"/><circle cx="209.7" cy="26.1" r="0.35" fill="#555" opacity="0.75"/><circle cx="209.8" cy="18.3" r="0.35" fill="#555" opacity="0.75"/><circle cx="200.4" cy="28.6" r="0.35" fill="#555" opacity="0.75"/><circle cx="204.3" cy="35.4" r="0.35" fill="#555" opacity="0.75"/><circle cx="203.8" cy="43.8" r="0.35" fill="#555" opacity="0.75"/><circle cx="206.5" cy="14.3" r="0.35" fill="#555" opacity="0.75"/><circle cx="204.9" cy="33.2" r="0.35" fill="#555" opacity="0.75"/><circle cx="210.0" cy="29.8" r="0.35" fill="#555" opacity="0.75"/><circle cx="213.9" cy="35.1" r="0.35" fill="#555" opacity="0.75"/><circle cx="207.9" cy="34.0" r="0.35" fill="#555" opacity="0.75"/><circle cx="214.6" cy="37.7" r="0.35" fill="#555" opacity="0.75"/><circle cx="212.1" cy="17.2" r="0.35" fill="#555" opacity="0.75"/><circle cx="207.4" cy="35.3" r="0.35" fill="#555" opacity="0.75"/><circle cx="206.8" cy="38.7" r="0.35" fill="#555" opacity="0.75"/><circle cx="210.4" cy="37.1" r="0.35" fill="#555" opacity="0.75"/><circle cx="207.2" cy="53.5" r="0.35" fill="#555" opacity="0.75"/><circle cx="213.0" cy="25.8" r="0.35" fill="#555" opacity="0.75"/><circle cx="208.4" cy="54.0" r="0.35" fill="#555" opacity="0.75"/><circle cx="206.6" cy="36.7" r="0.35" fill="#555" opacity="0.75"/><circle cx="211.9" cy="28.1" r="0.35" fill="#555" opacity="0.75"/><circle cx="203.3" cy="29.9" r="0.35" fill="#555" opacity="0.75"/><circle cx="209.4" cy="39.3" r="0.35" fill="#555" opacity="0.75"/><circle cx="211.1" cy="28.2" r="0.35" fill="#555" opacity="0.75"/><circle cx="211.4" cy="33.4" r="0.35" fill="#555" opacity="0.75"/><circle cx="208.8" cy="28.6" r="0.35" fill="#555" opacity="0.75"/><circle cx="207.0" cy="34.9" r="0.35" fill="#555" opacity="0.75"/><circle cx="203.8" cy="21.7" r="0.35" fill="#555" opacity="0.75"/><circle cx="208.0" cy="13.4" r="0.35" fill="#555" opacity="0.75"/><circle cx="205.3" cy="33.7" r="0.35" fill="#555" opacity="0.75"/><circle cx="210.3" cy="27.5" r="0.35" fill="#555" opacity="0.75"/><circle cx="207.1" cy="13.8" r="0.35" fill="#555" opacity="0.75"/><circle cx="215.3" cy="33.2" r="0.35" fill="#555" opacity="0.75"/><circle cx="212.4" cy="19.2" r="0.35" fill="#555" opacity="0.75"/><circle cx="207.3" cy="9.8" r="0.35" fill="#555" opacity="0.75"/><circle cx="211.1" cy="37.4" r="0.35" fill="#555" opacity="0.75"/><circle cx="200.4" cy="27.5" r="0.35" fill="#555" opacity="0.75"/><circle cx="210.5" cy="10.4" r="0.35" fill="#555" opacity="0.75"/><circle cx="200.7" cy="17.3" r="0.35" fill="#555" opacity="0.75"/><circle cx="205.5" cy="14.0" r="0.35" fill="#555" opacity="0.75"/><circle cx="208.1" cy="30.5" r="0.35" fill="#555" opacity="0.75"/><circle cx="210.5" cy="35.0" r="0.35" fill="#555" opacity="0.75"/><circle cx="214.0" cy="39.6" r="0.35" fill="#555" opacity="0.75"/><circle cx="202.8" cy="22.9" r="0.35" fill="#555" opacity="0.75"/><circle cx="203.8" cy="17.2" r="0.35" fill="#555" opacity="0.75"/><circle cx="207.7" cy="28.1" r="0.35" fill="#555" opacity="0.75"/><circle cx="210.0" cy="12.1" r="0.35" fill="#555" opacity="0.75"/><circle cx="203.0" cy="27.8" r="0.35" fill="#555" opacity="0.75"/><circle cx="207.2" cy="24.9" r="0.35" fill="#555" opacity="0.75"/><circle cx="207.7" cy="20.4" r="0.35" fill="#555" opacity="0.75"/><circle cx="210.8" cy="31.5" r="0.35" fill="#555" opacity="0.75"/><circle cx="207.6" cy="21.3" r="0.35" fill="#555" opacity="0.75"/><circle cx="204.1" cy="28.4" r="0.35" fill="#555" opacity="0.75"/><circle cx="202.0" cy="30.0" r="0.35" fill="#555" opacity="0.75"/><circle cx="208.6" cy="14.2" r="0.35" fill="#555" opacity="0.75"/><circle cx="207.0" cy="24.9" r="0.35" fill="#555" opacity="0.75"/><circle cx="209.8" cy="34.1" r="0.35" fill="#555" opacity="0.75"/><circle cx="207.9" cy="19.5" r="0.35" fill="#555" opacity="0.75"/><circle cx="207.4" cy="27.3" r="0.35" fill="#555" opacity="0.75"/><circle cx="210.9" cy="30.9" r="0.35" fill="#555" opacity="0.75"/><circle cx="205.1" cy="14.5" r="0.35" fill="#555" opacity="0.75"/><circle cx="206.5" cy="20.6" r="0.35" fill="#555" opacity="0.75"/><circle cx="203.6" cy="26.8" r="0.35" fill="#555" opacity="0.75"/><circle cx="206.0" cy="29.1" r="0.35" fill="#555" opacity="0.75"/><circle cx="210.1" cy="23.9" r="0.35" fill="#555" opacity="0.75"/><circle cx="217.3" cy="24.8" r="0.35" fill="#555" opacity="0.75"/><circle cx="212.4" cy="29.2" r="0.35" fill="#555" opacity="0.75"/><circle cx="211.7" cy="14.5" r="0.35" fill="#666" opacity="0.75"/><circle cx="221.2" cy="19.1" r="0.35" fill="#666" opacity="0.75"/><circle cx="219.3" cy="16.8" r="0.35" fill="#666" opacity="0.75"/><circle cx="222.4" cy="16.1" r="0.35" fill="#666" opacity="0.75"/><circle cx="220.6" cy="13.7" r="0.35" fill="#666" opacity="0.75"/><circle cx="220.6" cy="11.6" r="0.35" fill="#666" opacity="0.75"/><circle cx="225.3" cy="11.8" r="0.35" fill="#666" opacity="0.75"/><circle cx="218.7" cy="18.7" r="0.35" fill="#666" opacity="0.75"/><circle cx="215.4" cy="14.0" r="0.35" fill="#666" opacity="0.75"/><circle cx="225.1" cy="14.1" r="0.35" fill="#666" opacity="0.75"/><circle cx="211.3" cy="14.6" r="0.35" fill="#666" opacity="0.75"/><circle cx="221.1" cy="15.6" r="0.35" fill="#666" opacity="0.75"/><circle cx="211.6" cy="17.9" r="0.35" fill="#666" opacity="0.75"/><circle cx="228.7" cy="14.0" r="0.35" fill="#666" opacity="0.75"/><circle cx="218.9" cy="13.1" r="0.35" fill="#666" opacity="0.75"/><circle cx="226.9" cy="12.4" r="0.35" fill="#666" opacity="0.75"/><circle cx="221.7" cy="12.9" r="0.35" fill="#666" opacity="0.75"/><circle cx="212.1" cy="15.6" r="0.35" fill="#666" opacity="0.75"/><circle cx="226.3" cy="14.0" r="0.35" fill="#666" opacity="0.75"/><circle cx="212.3" cy="15.8" r="0.35" fill="#666" opacity="0.75"/><circle cx="216.7" cy="14.7" r="0.35" fill="#666" opacity="0.75"/><circle cx="227.7" cy="16.5" r="0.35" fill="#666" opacity="0.75"/><circle cx="213.4" cy="19.0" r="0.35" fill="#666" opacity="0.75"/><circle cx="217.0" cy="15.7" r="0.35" fill="#666" opacity="0.75"/><circle cx="212.5" cy="13.9" r="0.35" fill="#666" opacity="0.75"/><circle cx="204.8" cy="17.9" r="0.35" fill="#666" opacity="0.75"/><circle cx="226.6" cy="11.3" r="0.35" fill="#666" opacity="0.75"/><circle cx="206.5" cy="10.4" r="0.35" fill="#666" opacity="0.75"/><circle cx="225.2" cy="13.0" r="0.35" fill="#666" opacity="0.75"/><circle cx="216.6" cy="13.3" r="0.35" fill="#666" opacity="0.75"/><circle cx="216.2" cy="11.6" r="0.35" fill="#666" opacity="0.75"/><circle cx="217.2" cy="10.8" r="0.35" fill="#666" opacity="0.75"/><circle cx="216.5" cy="14.7" r="0.35" fill="#666" opacity="0.75"/><circle cx="220.3" cy="13.5" r="0.35" fill="#666" opacity="0.75"/><circle cx="210.7" cy="14.4" r="0.35" fill="#666" opacity="0.75"/><circle cx="213.6" cy="17.4" r="0.35" fill="#666" opacity="0.75"/><circle cx="222.4" cy="13.7" r="0.35" fill="#666" opacity="0.75"/><circle cx="213.7" cy="12.5" r="0.35" fill="#666" opacity="0.75"/><circle cx="210.4" cy="13.2" r="0.35" fill="#666" opacity="0.75"/><circle cx="219.1" cy="15.1" r="0.35" fill="#666" opacity="0.75"/><circle cx="221.0" cy="18.6" r="0.35" fill="#666" opacity="0.75"/><circle cx="212.1" cy="14.0" r="0.35" fill="#666" opacity="0.75"/><circle cx="236.6" cy="9.9" r="0.35" fill="#666" opacity="0.75"/><circle cx="213.3" cy="14.4" r="0.35" fill="#666" opacity="0.75"/><circle cx="218.1" cy="14.9" r="0.35" fill="#666" opacity="0.75"/><circle cx="215.3" cy="14.8" r="0.35" fill="#666" opacity="0.75"/><circle cx="217.4" cy="15.7" r="0.35" fill="#666" opacity="0.75"/><circle cx="203.8" cy="12.1" r="0.35" fill="#666" opacity="0.75"/><circle cx="217.0" cy="11.7" r="0.35" fill="#666" opacity="0.75"/><circle cx="209.7" cy="15.4" r="0.35" fill="#666" opacity="0.75"/><circle cx="212.5" cy="15.4" r="0.35" fill="#666" opacity="0.75"/><circle cx="222.2" cy="14.7" r="0.35" fill="#666" opacity="0.75"/><circle cx="220.6" cy="13.8" r="0.35" fill="#666" opacity="0.75"/><circle cx="207.1" cy="13.9" r="0.35" fill="#666" opacity="0.75"/><circle cx="220.2" cy="12.8" r="0.35" fill="#666" opacity="0.75"/><circle cx="216.3" cy="15.6" r="0.35" fill="#666" opacity="0.75"/><circle cx="210.9" cy="15.4" r="0.35" fill="#666" opacity="0.75"/><circle cx="230.0" cy="12.8" r="0.35" fill="#666" opacity="0.75"/><circle cx="218.0" cy="13.7" r="0.35" fill="#666" opacity="0.75"/><circle cx="227.8" cy="14.7" r="0.35" fill="#666" opacity="0.75"/><circle cx="223.3" cy="12.5" r="0.35" fill="#666" opacity="0.75"/><circle cx="216.9" cy="14.0" r="0.35" fill="#666" opacity="0.75"/><circle cx="204.6" cy="17.2" r="0.35" fill="#666" opacity="0.75"/><circle cx="223.3" cy="10.2" r="0.35" fill="#666" opacity="0.75"/><circle cx="222.2" cy="13.7" r="0.35" fill="#666" opacity="0.75"/><circle cx="220.1" cy="14.8" r="0.35" fill="#666" opacity="0.75"/><circle cx="206.5" cy="13.5" r="0.35" fill="#666" opacity="0.75"/><circle cx="227.4" cy="12.7" r="0.35" fill="#666" opacity="0.75"/><circle cx="209.8" cy="11.0" r="0.35" fill="#666" opacity="0.75"/><circle cx="208.5" cy="14.7" r="0.35" fill="#666" opacity="0.75"/><circle cx="228.8" cy="14.9" r="0.35" fill="#666" opacity="0.75"/><circle cx="218.7" cy="18.9" r="0.35" fill="#666" opacity="0.75"/><circle cx="213.4" cy="12.5" r="0.35" fill="#666" opacity="0.75"/><circle cx="220.7" cy="15.2" r="0.35" fill="#666" opacity="0.75"/><circle cx="209.9" cy="11.4" r="0.35" fill="#666" opacity="0.75"/><circle cx="219.0" cy="14.5" r="0.35" fill="#666" opacity="0.75"/><circle cx="207.9" cy="13.6" r="0.35" fill="#666" opacity="0.75"/><circle cx="213.2" cy="15.0" r="0.35" fill="#666" opacity="0.75"/><circle cx="216.2" cy="13.8" r="0.35" fill="#666" opacity="0.75"/><circle cx="214.5" cy="16.3" r="0.35" fill="#666" opacity="0.75"/><circle cx="226.7" cy="13.2" r="0.35" fill="#666" opacity="0.75"/><circle cx="222.9" cy="12.3" r="0.35" fill="#666" opacity="0.75"/><circle cx="217.5" cy="15.6" r="0.35" fill="#666" opacity="0.75"/><circle cx="227.6" cy="13.2" r="0.35" fill="#666" opacity="0.75"/><circle cx="216.5" cy="14.4" r="0.35" fill="#666" opacity="0.75"/><circle cx="206.5" cy="14.0" r="0.35" fill="#666" opacity="0.75"/><circle cx="212.3" cy="14.8" r="0.35" fill="#666" opacity="0.75"/><circle cx="209.1" cy="9.7" r="0.35" fill="#666" opacity="0.75"/><circle cx="217.3" cy="14.6" r="0.35" fill="#666" opacity="0.75"/><circle cx="213.2" cy="16.0" r="0.35" fill="#666" opacity="0.75"/><circle cx="215.1" cy="12.7" r="0.35" fill="#666" opacity="0.75"/><circle cx="220.3" cy="10.5" r="0.35" fill="#666" opacity="0.75"/><circle cx="212.3" cy="14.0" r="0.35" fill="#666" opacity="0.75"/><circle cx="222.9" cy="13.6" r="0.35" fill="#666" opacity="0.75"/><circle cx="219.2" cy="12.6" r="0.35" fill="#666" opacity="0.75"/><circle cx="219.1" cy="17.7" r="0.35" fill="#666" opacity="0.75"/><circle cx="212.2" cy="19.2" r="0.35" fill="#666" opacity="0.75"/><circle cx="212.5" cy="14.0" r="0.35" fill="#666" opacity="0.75"/><circle cx="218.2" cy="16.3" r="0.35" fill="#666" opacity="0.75"/><circle cx="208.3" cy="9.4" r="0.35" fill="#666" opacity="0.75"/><circle cx="221.2" cy="15.7" r="0.35" fill="#666" opacity="0.75"/><circle cx="221.4" cy="19.8" r="0.35" fill="#666" opacity="0.75"/><circle cx="218.4" cy="14.6" r="0.35" fill="#666" opacity="0.75"/><circle cx="223.5" cy="14.8" r="0.35" fill="#666" opacity="0.75"/><circle cx="228.6" cy="11.3" r="0.35" fill="#666" opacity="0.75"/><circle cx="222.7" cy="13.2" r="0.35" fill="#666" opacity="0.75"/><circle cx="223.5" cy="18.7" r="0.35" fill="#666" opacity="0.75"/><circle cx="217.0" cy="13.4" r="0.35" fill="#666" opacity="0.75"/><circle cx="213.5" cy="12.2" r="0.35" fill="#666" opacity="0.75"/><circle cx="212.6" cy="15.4" r="0.35" fill="#666" opacity="0.75"/><circle cx="217.3" cy="14.1" r="0.35" fill="#666" opacity="0.75"/><circle cx="215.8" cy="16.0" r="0.35" fill="#666" opacity="0.75"/><circle cx="220.5" cy="13.7" r="0.35" fill="#666" opacity="0.75"/><circle cx="221.7" cy="13.7" r="0.35" fill="#666" opacity="0.75"/><circle cx="208.9" cy="17.2" r="0.35" fill="#666" opacity="0.75"/><circle cx="220.3" cy="11.9" r="0.35" fill="#666" opacity="0.75"/><circle cx="224.6" cy="14.8" r="0.35" fill="#666" opacity="0.75"/><circle cx="206.0" cy="17.5" r="0.35" fill="#666" opacity="0.75"/><circle cx="224.3" cy="37.1" r="0.38" fill="#666" opacity="0.75"/><circle cx="223.4" cy="28.8" r="0.38" fill="#666" opacity="0.75"/><circle cx="211.2" cy="37.8" r="0.38" fill="#666" opacity="0.75"/><circle cx="222.2" cy="27.7" r="0.38" fill="#666" opacity="0.75"/><circle cx="224.5" cy="30.6" r="0.38" fill="#666" opacity="0.75"/><circle cx="226.7" cy="27.0" r="0.38" fill="#666" opacity="0.75"/><circle cx="221.7" cy="12.9" r="0.38" fill="#666" opacity="0.75"/><circle cx="219.0" cy="35.4" r="0.38" fill="#666" opacity="0.75"/><circle cx="231.4" cy="27.1" r="0.38" fill="#666" opacity="0.75"/><circle cx="221.2" cy="42.7" r="0.38" fill="#666" opacity="0.75"/><circle cx="219.7" cy="35.9" r="0.38" fill="#666" opacity="0.75"/><circle cx="233.7" cy="30.3" r="0.38" fill="#666" opacity="0.75"/><circle cx="230.6" cy="24.3" r="0.38" fill="#666" opacity="0.75"/><circle cx="223.5" cy="29.4" r="0.38" fill="#666" opacity="0.75"/><circle cx="222.8" cy="39.0" r="0.38" fill="#666" opacity="0.75"/><circle cx="238.7" cy="24.7" r="0.38" fill="#666" opacity="0.75"/><circle cx="218.0" cy="34.0" r="0.38" fill="#666" opacity="0.75"/><circle cx="214.6" cy="34.0" r="0.38" fill="#666" opacity="0.75"/><circle cx="226.0" cy="27.8" r="0.38" fill="#666" opacity="0.75"/><circle cx="225.7" cy="17.6" r="0.38" fill="#666" opacity="0.75"/><circle cx="227.3" cy="17.6" r="0.38" fill="#666" opacity="0.75"/><circle cx="217.1" cy="25.6" r="0.38" fill="#666" opacity="0.75"/><circle cx="219.2" cy="36.9" r="0.38" fill="#666" opacity="0.75"/><circle cx="222.6" cy="26.8" r="0.38" fill="#666" opacity="0.75"/><circle cx="225.8" cy="42.7" r="0.38" fill="#666" opacity="0.75"/><circle cx="222.0" cy="32.9" r="0.38" fill="#666" opacity="0.75"/><circle cx="230.7" cy="32.1" r="0.38" fill="#666" opacity="0.75"/><circle cx="213.0" cy="49.9" r="0.38" fill="#666" opacity="0.75"/><circle cx="237.5" cy="14.1" r="0.38" fill="#666" opacity="0.75"/><circle cx="221.7" cy="33.3" r="0.38" fill="#666" opacity="0.75"/><circle cx="228.8" cy="35.4" r="0.38" fill="#666" opacity="0.75"/><circle cx="220.1" cy="21.6" r="0.38" fill="#666" opacity="0.75"/><circle cx="222.7" cy="38.3" r="0.38" fill="#666" opacity="0.75"/><circle cx="214.4" cy="21.8" r="0.38" fill="#666" opacity="0.75"/><circle cx="221.8" cy="14.5" r="0.38" fill="#666" opacity="0.75"/><circle cx="220.2" cy="26.5" r="0.38" fill="#666" opacity="0.75"/><circle cx="225.2" cy="24.4" r="0.38" fill="#666" opacity="0.75"/><circle cx="215.8" cy="26.8" r="0.38" fill="#666" opacity="0.75"/><circle cx="221.7" cy="24.7" r="0.38" fill="#666" opacity="0.75"/><circle cx="222.1" cy="36.0" r="0.38" fill="#666" opacity="0.75"/><circle cx="230.3" cy="43.6" r="0.38" fill="#666" opacity="0.75"/><circle cx="216.5" cy="26.6" r="0.38" fill="#666" opacity="0.75"/><circle cx="204.6" cy="45.2" r="0.38" fill="#666" opacity="0.75"/><circle cx="216.9" cy="29.7" r="0.38" fill="#666" opacity="0.75"/><circle cx="225.7" cy="19.1" r="0.38" fill="#666" opacity="0.75"/><circle cx="225.2" cy="29.8" r="0.38" fill="#666" opacity="0.75"/><circle cx="209.2" cy="32.3" r="0.38" fill="#666" opacity="0.75"/><circle cx="230.4" cy="15.1" r="0.38" fill="#666" opacity="0.75"/><circle cx="227.7" cy="31.7" r="0.38" fill="#666" opacity="0.75"/><circle cx="225.3" cy="33.5" r="0.38" fill="#666" opacity="0.75"/><circle cx="231.1" cy="28.2" r="0.38" fill="#666" opacity="0.75"/><circle cx="228.1" cy="26.7" r="0.38" fill="#666" opacity="0.75"/><circle cx="227.1" cy="23.5" r="0.38" fill="#666" opacity="0.75"/><circle cx="221.2" cy="43.8" r="0.38" fill="#666" opacity="0.75"/><circle cx="225.1" cy="28.7" r="0.38" fill="#666" opacity="0.75"/><circle cx="214.0" cy="23.7" r="0.38" fill="#666" opacity="0.75"/><circle cx="223.4" cy="37.5" r="0.38" fill="#666" opacity="0.75"/><circle cx="225.0" cy="34.2" r="0.38" fill="#666" opacity="0.75"/><circle cx="221.7" cy="40.8" r="0.38" fill="#666" opacity="0.75"/><circle cx="219.3" cy="25.6" r="0.38" fill="#666" opacity="0.75"/><circle cx="228.2" cy="30.5" r="0.38" fill="#666" opacity="0.75"/><circle cx="220.1" cy="25.4" r="0.38" fill="#666" opacity="0.75"/><circle cx="220.2" cy="35.0" r="0.38" fill="#666" opacity="0.75"/><circle cx="224.5" cy="20.3" r="0.38" fill="#666" opacity="0.75"/><circle cx="225.0" cy="31.4" r="0.38" fill="#666" opacity="0.75"/><circle cx="215.0" cy="36.2" r="0.38" fill="#666" opacity="0.75"/><circle cx="220.0" cy="27.3" r="0.38" fill="#666" opacity="0.75"/><circle cx="227.6" cy="40.6" r="0.38" fill="#666" opacity="0.75"/><circle cx="217.2" cy="33.5" r="0.38" fill="#666" opacity="0.75"/><circle cx="215.9" cy="48.5" r="0.38" fill="#666" opacity="0.75"/><circle cx="218.5" cy="39.6" r="0.38" fill="#666" opacity="0.75"/><circle cx="217.5" cy="36.5" r="0.38" fill="#666" opacity="0.75"/><circle cx="237.5" cy="9.7" r="0.38" fill="#666" opacity="0.75"/><circle cx="219.0" cy="34.0" r="0.38" fill="#666" opacity="0.75"/><circle cx="221.3" cy="24.7" r="0.38" fill="#666" opacity="0.75"/><circle cx="237.1" cy="30.6" r="0.38" fill="#666" opacity="0.75"/><circle cx="210.5" cy="36.8" r="0.38" fill="#666" opacity="0.75"/><circle cx="209.9" cy="39.2" r="0.38" fill="#666" opacity="0.75"/><circle cx="218.0" cy="31.2" r="0.38" fill="#666" opacity="0.75"/><circle cx="230.8" cy="30.9" r="0.38" fill="#666" opacity="0.75"/><circle cx="212.3" cy="16.4" r="0.38" fill="#666" opacity="0.75"/><circle cx="230.3" cy="35.9" r="0.38" fill="#666" opacity="0.75"/><circle cx="216.3" cy="36.9" r="0.38" fill="#666" opacity="0.75"/><circle cx="225.5" cy="35.2" r="0.38" fill="#666" opacity="0.75"/><circle cx="206.2" cy="27.6" r="0.38" fill="#666" opacity="0.75"/><circle cx="228.3" cy="35.9" r="0.38" fill="#666" opacity="0.75"/><circle cx="228.2" cy="10.3" r="0.38" fill="#666" opacity="0.75"/><circle cx="223.2" cy="33.9" r="0.38" fill="#666" opacity="0.75"/><circle cx="239.9" cy="22.4" r="0.38" fill="#666" opacity="0.75"/><circle cx="219.7" cy="30.3" r="0.38" fill="#666" opacity="0.75"/><circle cx="228.2" cy="26.5" r="0.38" fill="#666" opacity="0.75"/><circle cx="230.0" cy="23.7" r="0.38" fill="#666" opacity="0.75"/><circle cx="223.9" cy="25.8" r="0.38" fill="#666" opacity="0.75"/><circle cx="223.1" cy="24.5" r="0.38" fill="#666" opacity="0.75"/><circle cx="210.8" cy="38.7" r="0.38" fill="#666" opacity="0.75"/><circle cx="224.1" cy="25.5" r="0.38" fill="#666" opacity="0.75"/><circle cx="223.4" cy="37.9" r="0.38" fill="#666" opacity="0.75"/><circle cx="215.2" cy="29.1" r="0.38" fill="#666" opacity="0.75"/><circle cx="225.8" cy="34.2" r="0.38" fill="#666" opacity="0.75"/><circle cx="219.7" cy="13.1" r="0.38" fill="#666" opacity="0.75"/><circle cx="230.7" cy="32.6" r="0.38" fill="#666" opacity="0.75"/><circle cx="222.1" cy="27.8" r="0.38" fill="#666" opacity="0.75"/><circle cx="223.8" cy="26.6" r="0.38" fill="#666" opacity="0.75"/><circle cx="214.8" cy="24.1" r="0.38" fill="#666" opacity="0.75"/><circle cx="217.8" cy="25.1" r="0.38" fill="#666" opacity="0.75"/><circle cx="213.9" cy="35.1" r="0.38" fill="#666" opacity="0.75"/><circle cx="212.8" cy="35.3" r="0.38" fill="#666" opacity="0.75"/><circle cx="214.9" cy="32.8" r="0.38" fill="#666" opacity="0.75"/><circle cx="231.6" cy="31.6" r="0.38" fill="#666" opacity="0.75"/><circle cx="216.9" cy="30.4" r="0.38" fill="#666" opacity="0.75"/><circle cx="223.0" cy="16.1" r="0.38" fill="#666" opacity="0.75"/><circle cx="217.7" cy="31.3" r="0.38" fill="#666" opacity="0.75"/><circle cx="218.7" cy="30.6" r="0.38" fill="#666" opacity="0.75"/><circle cx="227.1" cy="36.1" r="0.38" fill="#666" opacity="0.75"/><circle cx="228.3" cy="34.7" r="0.38" fill="#666" opacity="0.75"/><circle cx="220.0" cy="29.9" r="0.38" fill="#666" opacity="0.75"/><circle cx="220.1" cy="27.5" r="0.38" fill="#666" opacity="0.75"/><circle cx="220.7" cy="16.2" r="0.38" fill="#666" opacity="0.75"/><circle cx="219.7" cy="29.8" r="0.38" fill="#666" opacity="0.75"/><circle cx="215.2" cy="29.8" r="0.38" fill="#666" opacity="0.75"/><circle cx="225.6" cy="28.7" r="0.38" fill="#666" opacity="0.75"/><circle cx="236.5" cy="9.1" r="0.38" fill="#666" opacity="0.75"/><circle cx="220.6" cy="15.4" r="0.38" fill="#666" opacity="0.75"/><circle cx="228.9" cy="51.2" r="0.38" fill="#666" opacity="0.75"/><circle cx="204.5" cy="31.0" r="0.38" fill="#666" opacity="0.75"/><circle cx="225.6" cy="27.6" r="0.38" fill="#666" opacity="0.75"/><circle cx="225.9" cy="12.1" r="0.38" fill="#666" opacity="0.75"/><circle cx="228.0" cy="33.0" r="0.38" fill="#666" opacity="0.75"/><circle cx="222.2" cy="25.3" r="0.38" fill="#666" opacity="0.75"/><circle cx="226.5" cy="26.1" r="0.38" fill="#666" opacity="0.75"/><circle cx="223.6" cy="25.9" r="0.38" fill="#666" opacity="0.75"/><circle cx="206.3" cy="29.7" r="0.38" fill="#666" opacity="0.75"/><circle cx="223.4" cy="36.0" r="0.38" fill="#666" opacity="0.75"/><circle cx="215.9" cy="29.7" r="0.38" fill="#666" opacity="0.75"/><circle cx="226.3" cy="31.2" r="0.38" fill="#666" opacity="0.75"/><circle cx="230.7" cy="45.9" r="0.38" fill="#666" opacity="0.75"/><circle cx="215.6" cy="14.6" r="0.38" fill="#666" opacity="0.75"/><circle cx="228.0" cy="42.2" r="0.38" fill="#666" opacity="0.75"/><circle cx="228.5" cy="36.5" r="0.38" fill="#666" opacity="0.75"/><circle cx="217.7" cy="24.3" r="0.38" fill="#666" opacity="0.75"/><circle cx="228.2" cy="22.7" r="0.38" fill="#666" opacity="0.75"/><circle cx="209.3" cy="22.0" r="0.38" fill="#666" opacity="0.75"/><circle cx="239.4" cy="45.4" r="0.38" fill="#666" opacity="0.75"/><circle cx="217.2" cy="24.2" r="0.38" fill="#666" opacity="0.75"/><circle cx="223.6" cy="24.0" r="0.38" fill="#666" opacity="0.75"/><circle cx="231.2" cy="29.4" r="0.38" fill="#666" opacity="0.75"/><circle cx="214.4" cy="40.5" r="0.38" fill="#666" opacity="0.75"/><circle cx="217.9" cy="31.8" r="0.38" fill="#666" opacity="0.75"/><circle cx="221.9" cy="27.5" r="0.38" fill="#666" opacity="0.75"/><circle cx="224.3" cy="24.5" r="0.38" fill="#666" opacity="0.75"/><circle cx="209.1" cy="12.3" r="0.38" fill="#666" opacity="0.75"/><circle cx="213.1" cy="23.9" r="0.38" fill="#666" opacity="0.75"/><circle cx="221.8" cy="30.4" r="0.38" fill="#666" opacity="0.75"/><circle cx="225.9" cy="31.0" r="0.38" fill="#666" opacity="0.75"/><circle cx="216.4" cy="24.3" r="0.38" fill="#666" opacity="0.75"/><circle cx="207.2" cy="28.6" r="0.38" fill="#666" opacity="0.75"/><circle cx="225.4" cy="34.2" r="0.38" fill="#666" opacity="0.75"/><circle cx="221.2" cy="28.6" r="0.38" fill="#666" opacity="0.75"/><circle cx="228.6" cy="30.1" r="0.38" fill="#666" opacity="0.75"/><circle cx="227.2" cy="34.7" r="0.38" fill="#666" opacity="0.75"/><circle cx="223.3" cy="53.8" r="0.38" fill="#555" opacity="0.75"/><circle cx="218.6" cy="43.8" r="0.38" fill="#555" opacity="0.75"/><circle cx="217.2" cy="41.2" r="0.38" fill="#555" opacity="0.75"/><circle cx="231.3" cy="56.6" r="0.38" fill="#555" opacity="0.75"/><circle cx="222.1" cy="49.4" r="0.38" fill="#555" opacity="0.75"/><circle cx="229.1" cy="50.8" r="0.38" fill="#555" opacity="0.75"/><circle cx="229.2" cy="38.4" r="0.38" fill="#555" opacity="0.75"/><circle cx="218.2" cy="48.7" r="0.38" fill="#555" opacity="0.75"/><circle cx="230.6" cy="46.6" r="0.38" fill="#555" opacity="0.75"/><circle cx="216.8" cy="43.9" r="0.38" fill="#555" opacity="0.75"/><circle cx="218.0" cy="40.9" r="0.38" fill="#555" opacity="0.75"/><circle cx="231.0" cy="42.2" r="0.38" fill="#555" opacity="0.75"/><circle cx="229.1" cy="48.0" r="0.38" fill="#555" opacity="0.75"/><circle cx="218.3" cy="48.5" r="0.38" fill="#555" opacity="0.75"/><circle cx="231.7" cy="49.7" r="0.38" fill="#555" opacity="0.75"/><circle cx="229.6" cy="46.6" r="0.38" fill="#555" opacity="0.75"/><circle cx="225.1" cy="44.8" r="0.38" fill="#555" opacity="0.75"/><circle cx="224.6" cy="53.8" r="0.38" fill="#555" opacity="0.75"/><circle cx="213.4" cy="45.6" r="0.38" fill="#555" opacity="0.75"/><circle cx="223.4" cy="42.6" r="0.38" fill="#555" opacity="0.75"/><circle cx="220.2" cy="50.7" r="0.38" fill="#555" opacity="0.75"/><circle cx="234.0" cy="49.8" r="0.38" fill="#555" opacity="0.75"/><circle cx="224.0" cy="36.7" r="0.38" fill="#555" opacity="0.75"/><circle cx="233.6" cy="46.5" r="0.38" fill="#555" opacity="0.75"/><circle cx="221.8" cy="39.3" r="0.38" fill="#555" opacity="0.75"/><circle cx="221.7" cy="39.4" r="0.38" fill="#555" opacity="0.75"/><circle cx="222.4" cy="48.8" r="0.38" fill="#555" opacity="0.75"/><circle cx="222.2" cy="47.7" r="0.38" fill="#555" opacity="0.75"/><circle cx="216.9" cy="54.6" r="0.38" fill="#555" opacity="0.75"/><circle cx="218.1" cy="35.1" r="0.38" fill="#555" opacity="0.75"/><circle cx="220.9" cy="41.4" r="0.38" fill="#555" opacity="0.75"/><circle cx="215.9" cy="43.9" r="0.38" fill="#555" opacity="0.75"/><circle cx="223.7" cy="38.9" r="0.38" fill="#555" opacity="0.75"/><circle cx="221.2" cy="54.6" r="0.38" fill="#555" opacity="0.75"/><circle cx="226.1" cy="45.1" r="0.38" fill="#555" opacity="0.75"/><circle cx="222.8" cy="45.3" r="0.38" fill="#555" opacity="0.75"/><circle cx="221.7" cy="50.4" r="0.38" fill="#555" opacity="0.75"/><circle cx="221.4" cy="31.6" r="0.38" fill="#555" opacity="0.75"/><circle cx="221.9" cy="40.7" r="0.38" fill="#555" opacity="0.75"/><circle cx="225.9" cy="42.3" r="0.38" fill="#555" opacity="0.75"/><circle cx="215.7" cy="39.3" r="0.38" fill="#555" opacity="0.75"/><circle cx="213.5" cy="31.6" r="0.38" fill="#555" opacity="0.75"/><circle cx="210.7" cy="48.2" r="0.38" fill="#555" opacity="0.75"/><circle cx="218.2" cy="34.8" r="0.38" fill="#555" opacity="0.75"/><circle cx="213.1" cy="49.7" r="0.38" fill="#555" opacity="0.75"/><circle cx="217.3" cy="43.8" r="0.38" fill="#555" opacity="0.75"/><circle cx="224.0" cy="54.1" r="0.38" fill="#555" opacity="0.75"/><circle cx="233.6" cy="52.2" r="0.38" fill="#555" opacity="0.75"/><circle cx="222.9" cy="47.1" r="0.38" fill="#555" opacity="0.75"/><circle cx="232.8" cy="54.6" r="0.38" fill="#555" opacity="0.75"/><circle cx="220.1" cy="48.7" r="0.38" fill="#555" opacity="0.75"/><circle cx="223.7" cy="46.3" r="0.38" fill="#555" opacity="0.75"/><circle cx="219.0" cy="38.0" r="0.38" fill="#555" opacity="0.75"/><circle cx="218.8" cy="36.7" r="0.38" fill="#555" opacity="0.75"/><circle cx="229.3" cy="49.2" r="0.38" fill="#555" opacity="0.75"/><circle cx="214.8" cy="54.4" r="0.38" fill="#555" opacity="0.75"/><circle cx="227.4" cy="34.5" r="0.38" fill="#555" opacity="0.75"/><circle cx="233.0" cy="50.9" r="0.38" fill="#555" opacity="0.75"/><circle cx="234.4" cy="38.6" r="0.38" fill="#555" opacity="0.75"/><circle cx="225.2" cy="48.5" r="0.38" fill="#555" opacity="0.75"/><circle cx="223.2" cy="47.0" r="0.38" fill="#555" opacity="0.75"/><circle cx="228.3" cy="37.0" r="0.38" fill="#555" opacity="0.75"/><circle cx="214.5" cy="37.6" r="0.38" fill="#555" opacity="0.75"/><circle cx="218.7" cy="42.4" r="0.38" fill="#555" opacity="0.75"/><circle cx="224.2" cy="47.6" r="0.38" fill="#555" opacity="0.75"/><circle cx="222.2" cy="41.9" r="0.38" fill="#555" opacity="0.75"/><circle cx="219.3" cy="51.7" r="0.38" fill="#555" opacity="0.75"/><circle cx="226.6" cy="46.6" r="0.38" fill="#555" opacity="0.75"/><circle cx="220.1" cy="55.3" r="0.38" fill="#555" opacity="0.75"/><circle cx="218.4" cy="49.9" r="0.38" fill="#555" opacity="0.75"/><circle cx="228.9" cy="44.4" r="0.38" fill="#555" opacity="0.75"/><circle cx="227.0" cy="39.3" r="0.38" fill="#555" opacity="0.75"/><circle cx="228.1" cy="47.2" r="0.38" fill="#555" opacity="0.75"/><circle cx="212.5" cy="50.0" r="0.38" fill="#555" opacity="0.75"/><circle cx="216.6" cy="53.7" r="0.38" fill="#555" opacity="0.75"/><circle cx="217.9" cy="45.0" r="0.38" fill="#555" opacity="0.75"/><circle cx="223.7" cy="44.0" r="0.38" fill="#555" opacity="0.75"/><circle cx="223.6" cy="42.7" r="0.38" fill="#555" opacity="0.75"/><circle cx="226.0" cy="46.0" r="0.38" fill="#555" opacity="0.75"/><circle cx="223.3" cy="29.5" r="0.38" fill="#555" opacity="0.75"/><circle cx="229.0" cy="46.2" r="0.38" fill="#555" opacity="0.75"/><circle cx="211.3" cy="46.6" r="0.38" fill="#555" opacity="0.75"/><circle cx="224.8" cy="52.4" r="0.38" fill="#555" opacity="0.75"/><circle cx="215.5" cy="55.3" r="0.38" fill="#555" opacity="0.75"/><circle cx="221.1" cy="50.1" r="0.38" fill="#555" opacity="0.75"/><circle cx="219.8" cy="39.3" r="0.38" fill="#555" opacity="0.75"/><circle cx="228.6" cy="51.4" r="0.38" fill="#555" opacity="0.75"/><circle cx="231.2" cy="51.1" r="0.38" fill="#555" opacity="0.75"/><circle cx="218.6" cy="36.0" r="0.38" fill="#555" opacity="0.75"/><circle cx="218.1" cy="41.9" r="0.38" fill="#555" opacity="0.75"/><circle cx="217.1" cy="49.5" r="0.38" fill="#555" opacity="0.75"/><circle cx="224.0" cy="44.4" r="0.38" fill="#555" opacity="0.75"/><circle cx="223.0" cy="45.1" r="0.38" fill="#555" opacity="0.75"/><circle cx="223.3" cy="50.5" r="0.38" fill="#555" opacity="0.75"/><circle cx="227.8" cy="41.9" r="0.38" fill="#555" opacity="0.75"/><circle cx="213.0" cy="54.6" r="0.38" fill="#555" opacity="0.75"/><circle cx="222.7" cy="52.6" r="0.38" fill="#555" opacity="0.75"/><circle cx="212.1" cy="44.0" r="0.38" fill="#555" opacity="0.75"/><circle cx="222.2" cy="37.4" r="0.38" fill="#555" opacity="0.75"/><circle cx="218.9" cy="50.3" r="0.38" fill="#555" opacity="0.75"/><circle cx="228.5" cy="55.6" r="0.38" fill="#555" opacity="0.75"/><circle cx="216.8" cy="37.6" r="0.38" fill="#555" opacity="0.75"/><circle cx="225.1" cy="51.6" r="0.38" fill="#555" opacity="0.75"/><circle cx="223.2" cy="38.2" r="0.38" fill="#555" opacity="0.75"/><circle cx="226.7" cy="50.8" r="0.38" fill="#555" opacity="0.75"/><circle cx="225.3" cy="43.1" r="0.38" fill="#555" opacity="0.75"/><circle cx="223.8" cy="50.7" r="0.38" fill="#555" opacity="0.75"/><circle cx="218.6" cy="34.9" r="0.38" fill="#555" opacity="0.75"/><circle cx="224.0" cy="48.9" r="0.38" fill="#555" opacity="0.75"/><circle cx="222.1" cy="51.3" r="0.38" fill="#555" opacity="0.75"/><circle cx="218.5" cy="45.5" r="0.38" fill="#555" opacity="0.75"/><circle cx="220.2" cy="49.4" r="0.38" fill="#555" opacity="0.75"/><circle cx="231.6" cy="44.5" r="0.38" fill="#555" opacity="0.75"/><circle cx="234.3" cy="55.2" r="0.38" fill="#555" opacity="0.75"/><circle cx="226.7" cy="49.5" r="0.38" fill="#555" opacity="0.75"/><circle cx="232.6" cy="44.9" r="0.38" fill="#555" opacity="0.75"/><circle cx="221.3" cy="39.6" r="0.38" fill="#555" opacity="0.75"/><circle cx="224.8" cy="54.1" r="0.38" fill="#555" opacity="0.75"/><circle cx="225.2" cy="48.5" r="0.38" fill="#555" opacity="0.75"/><circle cx="220.8" cy="47.0" r="0.38" fill="#555" opacity="0.75"/><circle cx="213.4" cy="52.3" r="0.38" fill="#555" opacity="0.75"/><circle cx="219.5" cy="39.4" r="0.38" fill="#555" opacity="0.75"/><circle cx="217.5" cy="41.1" r="0.38" fill="#555" opacity="0.75"/><circle cx="227.1" cy="52.3" r="0.38" fill="#555" opacity="0.75"/><circle cx="213.9" cy="51.6" r="0.38" fill="#555" opacity="0.75"/><circle cx="227.3" cy="42.5" r="0.38" fill="#555" opacity="0.75"/><circle cx="213.1" cy="41.5" r="0.38" fill="#555" opacity="0.75"/><circle cx="218.2" cy="48.1" r="0.38" fill="#555" opacity="0.75"/><circle cx="219.9" cy="33.8" r="0.38" fill="#555" opacity="0.75"/><circle cx="223.4" cy="36.8" r="0.38" fill="#555" opacity="0.75"/><circle cx="227.4" cy="38.8" r="0.38" fill="#555" opacity="0.75"/><circle cx="217.8" cy="40.9" r="0.38" fill="#555" opacity="0.75"/><circle cx="218.7" cy="53.8" r="0.38" fill="#555" opacity="0.75"/><circle cx="227.1" cy="49.6" r="0.38" fill="#555" opacity="0.75"/><circle cx="223.9" cy="36.7" r="0.38" fill="#555" opacity="0.75"/><circle cx="218.9" cy="42.7" r="0.38" fill="#555" opacity="0.75"/><circle cx="216.1" cy="49.1" r="0.38" fill="#555" opacity="0.75"/><circle cx="217.6" cy="41.7" r="0.38" fill="#555" opacity="0.75"/><circle cx="215.7" cy="33.7" r="0.38" fill="#555" opacity="0.75"/><circle cx="225.6" cy="54.0" r="0.38" fill="#555" opacity="0.75"/><circle cx="223.0" cy="40.1" r="0.38" fill="#555" opacity="0.75"/><circle cx="205.8" cy="47.0" r="0.38" fill="#555" opacity="0.75"/><circle cx="229.3" cy="47.8" r="0.38" fill="#555" opacity="0.75"/><circle cx="227.6" cy="54.9" r="0.38" fill="#555" opacity="0.75"/><circle cx="228.8" cy="43.4" r="0.38" fill="#555" opacity="0.75"/><circle cx="228.3" cy="50.7" r="0.38" fill="#555" opacity="0.75"/><circle cx="212.8" cy="43.6" r="0.38" fill="#555" opacity="0.75"/><circle cx="213.5" cy="45.3" r="0.38" fill="#555" opacity="0.75"/><circle cx="225.5" cy="39.6" r="0.38" fill="#555" opacity="0.75"/><circle cx="209.7" cy="53.8" r="0.38" fill="#555" opacity="0.75"/><circle cx="224.3" cy="54.8" r="0.38" fill="#555" opacity="0.75"/><circle cx="214.1" cy="52.4" r="0.38" fill="#555" opacity="0.75"/><circle cx="220.7" cy="47.6" r="0.38" fill="#555" opacity="0.75"/><circle cx="221.1" cy="52.0" r="0.38" fill="#555" opacity="0.75"/><circle cx="228.2" cy="46.5" r="0.38" fill="#555" opacity="0.75"/><circle cx="213.8" cy="50.4" r="0.38" fill="#555" opacity="0.75"/><circle cx="219.2" cy="49.8" r="0.38" fill="#555" opacity="0.75"/><circle cx="223.6" cy="55.7" r="0.38" fill="#555" opacity="0.75"/><circle cx="228.8" cy="43.3" r="0.38" fill="#555" opacity="0.75"/><circle cx="224.1" cy="56.6" r="0.38" fill="#555" opacity="0.75"/><circle cx="218.8" cy="48.6" r="0.38" fill="#555" opacity="0.75"/><circle cx="229.1" cy="53.5" r="0.38" fill="#555" opacity="0.75"/><circle cx="225.1" cy="38.1" r="0.38" fill="#555" opacity="0.75"/><circle cx="214.4" cy="47.5" r="0.38" fill="#555" opacity="0.75"/><circle cx="216.8" cy="52.8" r="0.38" fill="#555" opacity="0.75"/><circle cx="226.6" cy="36.0" r="0.38" fill="#555" opacity="0.75"/><circle cx="217.1" cy="47.0" r="0.38" fill="#555" opacity="0.75"/><circle cx="219.0" cy="45.1" r="0.38" fill="#555" opacity="0.75"/><circle cx="224.8" cy="41.1" r="0.38" fill="#555" opacity="0.75"/><circle cx="224.8" cy="42.2" r="0.38" fill="#555" opacity="0.75"/><circle cx="218.7" cy="49.2" r="0.38" fill="#555" opacity="0.75"/><circle cx="218.6" cy="47.7" r="0.38" fill="#555" opacity="0.75"/><circle cx="231.6" cy="46.2" r="0.38" fill="#555" opacity="0.75"/><circle cx="221.1" cy="50.4" r="0.38" fill="#555" opacity="0.75"/><circle cx="219.8" cy="52.5" r="0.38" fill="#555" opacity="0.75"/><circle cx="214.3" cy="49.7" r="0.38" fill="#555" opacity="0.75"/><circle cx="218.9" cy="41.2" r="0.38" fill="#555" opacity="0.75"/><circle cx="232.6" cy="40.9" r="0.38" fill="#555" opacity="0.75"/><circle cx="232.5" cy="49.9" r="0.38" fill="#555" opacity="0.75"/><circle cx="230.7" cy="40.1" r="0.38" fill="#555" opacity="0.75"/><circle cx="229.2" cy="54.7" r="0.38" fill="#555" opacity="0.75"/><circle cx="221.3" cy="45.2" r="0.38" fill="#555" opacity="0.75"/><circle cx="236.7" cy="47.1" r="0.38" fill="#555" opacity="0.75"/><circle cx="219.5" cy="42.2" r="0.38" fill="#555" opacity="0.75"/><circle cx="224.7" cy="48.0" r="0.38" fill="#555" opacity="0.75"/><circle cx="223.1" cy="56.3" r="0.38" fill="#555" opacity="0.75"/><circle cx="220.0" cy="48.8" r="0.38" fill="#555" opacity="0.75"/><circle cx="230.8" cy="40.0" r="0.38" fill="#555" opacity="0.75"/><circle cx="228.2" cy="57.0" r="0.38" fill="#555" opacity="0.75"/><circle cx="213.9" cy="39.4" r="0.38" fill="#555" opacity="0.75"/><circle cx="215.8" cy="34.9" r="0.38" fill="#555" opacity="0.75"/><circle cx="224.7" cy="34.9" r="0.38" fill="#555" opacity="0.75"/><circle cx="225.0" cy="54.7" r="0.38" fill="#555" opacity="0.75"/><circle cx="212.3" cy="44.1" r="0.38" fill="#555" opacity="0.75"/><circle cx="210.5" cy="50.7" r="0.38" fill="#555" opacity="0.75"/><circle cx="214.1" cy="13.3" r="0.38" fill="#555" opacity="0.75"/><circle cx="220.4" cy="15.4" r="0.38" fill="#555" opacity="0.75"/><circle cx="217.2" cy="14.0" r="0.38" fill="#555" opacity="0.75"/><circle cx="215.6" cy="14.3" r="0.38" fill="#555" opacity="0.75"/><circle cx="210.6" cy="14.2" r="0.38" fill="#555" opacity="0.75"/><circle cx="204.5" cy="12.8" r="0.38" fill="#555" opacity="0.75"/><circle cx="235.3" cy="14.2" r="0.38" fill="#555" opacity="0.75"/><circle cx="209.9" cy="14.6" r="0.38" fill="#555" opacity="0.75"/><circle cx="212.2" cy="9.9" r="0.38" fill="#555" opacity="0.75"/><circle cx="214.1" cy="15.8" r="0.38" fill="#555" opacity="0.75"/><circle cx="223.1" cy="13.8" r="0.38" fill="#555" opacity="0.75"/><circle cx="212.6" cy="11.3" r="0.38" fill="#555" opacity="0.75"/><circle cx="230.8" cy="14.6" r="0.38" fill="#555" opacity="0.75"/><circle cx="209.0" cy="20.2" r="0.38" fill="#555" opacity="0.75"/><circle cx="210.8" cy="13.8" r="0.38" fill="#555" opacity="0.75"/><circle cx="221.7" cy="13.6" r="0.38" fill="#555" opacity="0.75"/><circle cx="217.8" cy="10.6" r="0.38" fill="#555" opacity="0.75"/><circle cx="211.6" cy="18.2" r="0.38" fill="#555" opacity="0.75"/><circle cx="213.9" cy="16.1" r="0.38" fill="#555" opacity="0.75"/><circle cx="206.4" cy="13.3" r="0.38" fill="#555" opacity="0.75"/><circle cx="222.1" cy="16.6" r="0.38" fill="#555" opacity="0.75"/><circle cx="211.0" cy="15.5" r="0.38" fill="#555" opacity="0.75"/><circle cx="223.1" cy="12.2" r="0.38" fill="#555" opacity="0.75"/><circle cx="223.8" cy="11.8" r="0.38" fill="#555" opacity="0.75"/><circle cx="213.6" cy="14.0" r="0.38" fill="#555" opacity="0.75"/><circle cx="212.0" cy="10.3" r="0.38" fill="#555" opacity="0.75"/><circle cx="216.6" cy="15.9" r="0.38" fill="#555" opacity="0.75"/><circle cx="216.8" cy="17.2" r="0.38" fill="#555" opacity="0.75"/><circle cx="210.7" cy="10.7" r="0.38" fill="#555" opacity="0.75"/><circle cx="232.4" cy="15.0" r="0.38" fill="#555" opacity="0.75"/><circle cx="227.6" cy="11.9" r="0.38" fill="#555" opacity="0.75"/><circle cx="226.4" cy="14.6" r="0.38" fill="#555" opacity="0.75"/><circle cx="225.2" cy="14.1" r="0.38" fill="#555" opacity="0.75"/><circle cx="229.7" cy="12.4" r="0.38" fill="#555" opacity="0.75"/><circle cx="212.3" cy="10.3" r="0.38" fill="#555" opacity="0.75"/><circle cx="229.3" cy="12.2" r="0.38" fill="#555" opacity="0.75"/><circle cx="211.7" cy="11.7" r="0.38" fill="#555" opacity="0.75"/><circle cx="216.4" cy="10.8" r="0.38" fill="#555" opacity="0.75"/><circle cx="217.7" cy="12.4" r="0.38" fill="#555" opacity="0.75"/><circle cx="215.6" cy="11.6" r="0.38" fill="#555" opacity="0.75"/><circle cx="220.3" cy="12.8" r="0.38" fill="#555" opacity="0.75"/><circle cx="220.9" cy="14.6" r="0.38" fill="#555" opacity="0.75"/><circle cx="215.7" cy="12.0" r="0.38" fill="#555" opacity="0.75"/><circle cx="226.2" cy="10.1" r="0.38" fill="#555" opacity="0.75"/><circle cx="214.3" cy="13.3" r="0.38" fill="#555" opacity="0.75"/><circle cx="217.3" cy="16.5" r="0.38" fill="#555" opacity="0.75"/><circle cx="216.5" cy="16.4" r="0.38" fill="#555" opacity="0.75"/><circle cx="208.3" cy="9.5" r="0.38" fill="#555" opacity="0.75"/><circle cx="229.8" cy="15.1" r="0.38" fill="#555" opacity="0.75"/><circle cx="223.9" cy="14.3" r="0.38" fill="#555" opacity="0.75"/><circle cx="223.9" cy="11.0" r="0.38" fill="#555" opacity="0.75"/><circle cx="227.6" cy="12.7" r="0.38" fill="#555" opacity="0.75"/><circle cx="227.9" cy="14.2" r="0.38" fill="#555" opacity="0.75"/><circle cx="204.2" cy="10.8" r="0.38" fill="#555" opacity="0.75"/><circle cx="229.0" cy="13.7" r="0.38" fill="#555" opacity="0.75"/><circle cx="216.8" cy="14.6" r="0.38" fill="#555" opacity="0.75"/><circle cx="216.6" cy="12.6" r="0.38" fill="#555" opacity="0.75"/><circle cx="220.8" cy="14.4" r="0.38" fill="#555" opacity="0.75"/><circle cx="232.1" cy="14.1" r="0.38" fill="#555" opacity="0.75"/><circle cx="235.0" cy="18.5" r="0.38" fill="#555" opacity="0.75"/><circle cx="233.7" cy="16.7" r="0.38" fill="#555" opacity="0.75"/><circle cx="221.0" cy="14.3" r="0.38" fill="#555" opacity="0.75"/><circle cx="218.9" cy="12.2" r="0.38" fill="#555" opacity="0.75"/><circle cx="219.5" cy="12.4" r="0.38" fill="#555" opacity="0.75"/><circle cx="233.1" cy="15.3" r="0.38" fill="#555" opacity="0.75"/><circle cx="216.4" cy="9.2" r="0.38" fill="#555" opacity="0.75"/><circle cx="219.6" cy="13.0" r="0.38" fill="#555" opacity="0.75"/><circle cx="211.3" cy="11.2" r="0.38" fill="#555" opacity="0.75"/><circle cx="202.0" cy="15.4" r="0.38" fill="#555" opacity="0.75"/><circle cx="219.5" cy="20.5" r="0.38" fill="#555" opacity="0.75"/><circle cx="219.8" cy="13.6" r="0.38" fill="#555" opacity="0.75"/><circle cx="231.6" cy="14.3" r="0.38" fill="#555" opacity="0.75"/><circle cx="221.3" cy="13.1" r="0.38" fill="#555" opacity="0.75"/><circle cx="215.2" cy="17.7" r="0.38" fill="#555" opacity="0.75"/><circle cx="228.0" cy="18.3" r="0.38" fill="#555" opacity="0.75"/><circle cx="217.2" cy="14.1" r="0.38" fill="#555" opacity="0.75"/><circle cx="213.0" cy="16.4" r="0.38" fill="#555" opacity="0.75"/><circle cx="208.9" cy="15.4" r="0.38" fill="#555" opacity="0.75"/><circle cx="228.8" cy="17.5" r="0.38" fill="#555" opacity="0.75"/><circle cx="212.5" cy="16.7" r="0.38" fill="#555" opacity="0.75"/><circle cx="214.3" cy="12.1" r="0.38" fill="#555" opacity="0.75"/><circle cx="209.4" cy="16.9" r="0.38" fill="#555" opacity="0.75"/><circle cx="233.2" cy="12.5" r="0.38" fill="#555" opacity="0.75"/><circle cx="213.9" cy="13.2" r="0.38" fill="#555" opacity="0.75"/><circle cx="240.1" cy="16.5" r="0.38" fill="#555" opacity="0.75"/><circle cx="215.7" cy="9.5" r="0.38" fill="#555" opacity="0.75"/><circle cx="214.6" cy="17.0" r="0.38" fill="#555" opacity="0.75"/><circle cx="234.9" cy="13.3" r="0.38" fill="#555" opacity="0.75"/><circle cx="214.5" cy="12.7" r="0.38" fill="#555" opacity="0.75"/><circle cx="204.9" cy="16.3" r="0.38" fill="#555" opacity="0.75"/><circle cx="211.3" cy="16.7" r="0.38" fill="#555" opacity="0.75"/><circle cx="206.3" cy="10.8" r="0.38" fill="#555" opacity="0.75"/><circle cx="222.3" cy="12.1" r="0.38" fill="#555" opacity="0.75"/><circle cx="226.3" cy="14.0" r="0.38" fill="#555" opacity="0.75"/><circle cx="210.6" cy="15.6" r="0.38" fill="#555" opacity="0.75"/><circle cx="226.7" cy="9.2" r="0.38" fill="#555" opacity="0.75"/><circle cx="234.6" cy="15.2" r="0.38" fill="#555" opacity="0.75"/><rect x="199.75" y="1.9" width="56.85" height="56.20" fill="none" stroke="#8a8a8a" stroke-width="0.8"/><path d="M215.25,1.9 L215.25,30.25 L256.6,30.25" fill="none" stroke="#aaa" stroke-width="0.5"/><text x="197.80" y="8.50" font-size="3.6" text-anchor="end" fill="#888">10⁵</text><text x="197.80" y="20.50" font-size="3.6" text-anchor="end" fill="#888">10⁴</text><text x="197.80" y="35.00" font-size="3.6" text-anchor="end" fill="#888">10³</text><text x="197.80" y="50.00" font-size="3.6" text-anchor="end" fill="#888">0</text><text x="206.25" y="62.80" font-size="3.6" text-anchor="middle" fill="#888">0</text><text x="211.25" y="62.80" font-size="3.6" text-anchor="middle" fill="#888">10³</text><text x="226.25" y="62.80" font-size="3.6" text-anchor="middle" fill="#888">10⁴</text><text x="238.75" y="62.80" font-size="3.6" text-anchor="middle" fill="#888">10⁵</text><text x="251.25" y="62.80" font-size="3.6" text-anchor="middle" fill="#888">10⁶</text><rect x="250.5" y="2.6" width="5.3" height="3.4" fill="#fff" stroke="#aaa" stroke-width="0.4"/><text x="253.20" y="5.30" font-size="2.6" text-anchor="middle" fill="#888">LSK</text><line x1="201" y1="58.4" x2="212" y2="58.4" stroke="#666" stroke-width="0.6" stroke-dasharray="0.6 0.6"/><path d="M200.3,93 Q204,88.5 215,88.3 Q230,88.6 236,94 Q238.5,100 237.8,112 Q236,121 228,122.5 L200.3,122.8 Z" fill="#8a8a8a" filter="url(#b15)"/><ellipse cx="222" cy="110" rx="11" ry="10" fill="#6a6a6a" filter="url(#b2)"/><circle cx="227.5" cy="90.2" r="0.4" fill="#333" opacity="0.75"/><circle cx="214.9" cy="103.0" r="0.4" fill="#333" opacity="0.75"/><circle cx="230.2" cy="93.6" r="0.4" fill="#333" opacity="0.75"/><circle cx="213.5" cy="88.7" r="0.4" fill="#333" opacity="0.75"/><circle cx="219.0" cy="108.9" r="0.4" fill="#333" opacity="0.75"/><circle cx="206.7" cy="101.0" r="0.4" fill="#333" opacity="0.75"/><circle cx="225.3" cy="119.5" r="0.4" fill="#333" opacity="0.75"/><circle cx="226.6" cy="103.4" r="0.4" fill="#333" opacity="0.75"/><circle cx="211.0" cy="98.0" r="0.4" fill="#333" opacity="0.75"/><circle cx="215.4" cy="107.2" r="0.4" fill="#333" opacity="0.75"/><circle cx="220.6" cy="120.2" r="0.4" fill="#333" opacity="0.75"/><circle cx="223.4" cy="96.9" r="0.4" fill="#333" opacity="0.75"/><circle cx="234.1" cy="114.1" r="0.4" fill="#333" opacity="0.75"/><circle cx="221.9" cy="99.9" r="0.4" fill="#333" opacity="0.75"/><circle cx="205.1" cy="97.3" r="0.4" fill="#333" opacity="0.75"/><circle cx="228.7" cy="99.2" r="0.4" fill="#333" opacity="0.75"/><circle cx="209.8" cy="107.7" r="0.4" fill="#333" opacity="0.75"/><circle cx="223.1" cy="111.2" r="0.4" fill="#333" opacity="0.75"/><circle cx="226.6" cy="118.0" r="0.4" fill="#333" opacity="0.75"/><circle cx="213.9" cy="114.3" r="0.4" fill="#333" opacity="0.75"/><circle cx="212.6" cy="111.9" r="0.4" fill="#333" opacity="0.75"/><circle cx="222.5" cy="108.1" r="0.4" fill="#333" opacity="0.75"/><circle cx="229.2" cy="105.9" r="0.4" fill="#333" opacity="0.75"/><circle cx="230.5" cy="113.4" r="0.4" fill="#333" opacity="0.75"/><circle cx="222.2" cy="101.2" r="0.4" fill="#333" opacity="0.75"/><circle cx="214.6" cy="101.5" r="0.4" fill="#333" opacity="0.75"/><circle cx="219.3" cy="105.8" r="0.4" fill="#333" opacity="0.75"/><circle cx="227.5" cy="98.7" r="0.4" fill="#333" opacity="0.75"/><circle cx="215.0" cy="103.3" r="0.4" fill="#333" opacity="0.75"/><circle cx="222.6" cy="97.2" r="0.4" fill="#333" opacity="0.75"/><circle cx="234.7" cy="101.2" r="0.4" fill="#333" opacity="0.75"/><circle cx="220.9" cy="108.4" r="0.4" fill="#333" opacity="0.75"/><circle cx="222.6" cy="111.1" r="0.4" fill="#333" opacity="0.75"/><circle cx="223.4" cy="107.4" r="0.4" fill="#333" opacity="0.75"/><circle cx="204.9" cy="99.9" r="0.4" fill="#333" opacity="0.75"/><circle cx="201.1" cy="111.3" r="0.4" fill="#333" opacity="0.75"/><circle cx="223.6" cy="104.3" r="0.4" fill="#333" opacity="0.75"/><circle cx="214.0" cy="101.1" r="0.4" fill="#333" opacity="0.75"/><circle cx="236.7" cy="120.7" r="0.4" fill="#333" opacity="0.75"/><circle cx="220.5" cy="116.9" r="0.4" fill="#333" opacity="0.75"/><circle cx="207.5" cy="89.6" r="0.4" fill="#333" opacity="0.75"/><circle cx="216.9" cy="98.6" r="0.4" fill="#333" opacity="0.75"/><circle cx="216.2" cy="107.6" r="0.4" fill="#333" opacity="0.75"/><circle cx="221.4" cy="108.3" r="0.4" fill="#333" opacity="0.75"/><circle cx="220.7" cy="113.9" r="0.4" fill="#333" opacity="0.75"/><circle cx="236.1" cy="95.4" r="0.4" fill="#333" opacity="0.75"/><circle cx="222.4" cy="103.7" r="0.4" fill="#333" opacity="0.75"/><circle cx="224.0" cy="93.0" r="0.4" fill="#333" opacity="0.75"/><circle cx="225.5" cy="107.6" r="0.4" fill="#333" opacity="0.75"/><circle cx="217.8" cy="99.6" r="0.4" fill="#333" opacity="0.75"/><circle cx="209.0" cy="98.2" r="0.4" fill="#333" opacity="0.75"/><circle cx="226.9" cy="110.6" r="0.4" fill="#333" opacity="0.75"/><circle cx="220.8" cy="110.4" r="0.4" fill="#333" opacity="0.75"/><circle cx="215.9" cy="106.6" r="0.4" fill="#333" opacity="0.75"/><circle cx="221.3" cy="110.7" r="0.4" fill="#333" opacity="0.75"/><circle cx="220.4" cy="104.8" r="0.4" fill="#333" opacity="0.75"/><circle cx="219.9" cy="100.5" r="0.4" fill="#333" opacity="0.75"/><circle cx="240.0" cy="110.4" r="0.4" fill="#333" opacity="0.75"/><circle cx="232.9" cy="92.8" r="0.4" fill="#333" opacity="0.75"/><circle cx="226.9" cy="113.1" r="0.4" fill="#333" opacity="0.75"/><circle cx="237.0" cy="117.2" r="0.4" fill="#333" opacity="0.75"/><circle cx="227.6" cy="96.0" r="0.4" fill="#333" opacity="0.75"/><circle cx="213.6" cy="108.3" r="0.4" fill="#333" opacity="0.75"/><circle cx="225.3" cy="97.3" r="0.4" fill="#333" opacity="0.75"/><circle cx="217.7" cy="102.6" r="0.4" fill="#333" opacity="0.75"/><circle cx="221.5" cy="108.9" r="0.4" fill="#333" opacity="0.75"/><circle cx="218.6" cy="95.5" r="0.4" fill="#333" opacity="0.75"/><circle cx="231.6" cy="119.6" r="0.4" fill="#333" opacity="0.75"/><circle cx="220.1" cy="114.7" r="0.4" fill="#333" opacity="0.75"/><circle cx="224.8" cy="111.6" r="0.4" fill="#333" opacity="0.75"/><circle cx="225.1" cy="99.5" r="0.4" fill="#333" opacity="0.75"/><circle cx="225.9" cy="114.6" r="0.4" fill="#333" opacity="0.75"/><circle cx="213.4" cy="122.7" r="0.4" fill="#333" opacity="0.75"/><circle cx="238.8" cy="121.5" r="0.4" fill="#333" opacity="0.75"/><circle cx="237.9" cy="112.3" r="0.4" fill="#333" opacity="0.75"/><circle cx="218.1" cy="100.9" r="0.4" fill="#333" opacity="0.75"/><circle cx="214.1" cy="107.0" r="0.4" fill="#333" opacity="0.75"/><circle cx="220.7" cy="111.7" r="0.4" fill="#333" opacity="0.75"/><circle cx="226.7" cy="110.0" r="0.4" fill="#333" opacity="0.75"/><circle cx="223.3" cy="104.2" r="0.4" fill="#333" opacity="0.75"/><circle cx="220.0" cy="99.0" r="0.4" fill="#333" opacity="0.75"/><circle cx="222.5" cy="105.8" r="0.4" fill="#333" opacity="0.75"/><circle cx="223.7" cy="98.7" r="0.4" fill="#333" opacity="0.75"/><circle cx="221.3" cy="106.4" r="0.4" fill="#333" opacity="0.75"/><circle cx="226.1" cy="97.0" r="0.4" fill="#333" opacity="0.75"/><circle cx="224.6" cy="114.4" r="0.4" fill="#333" opacity="0.75"/><circle cx="226.1" cy="102.9" r="0.4" fill="#333" opacity="0.75"/><circle cx="216.8" cy="104.0" r="0.4" fill="#333" opacity="0.75"/><circle cx="227.2" cy="119.2" r="0.4" fill="#333" opacity="0.75"/><circle cx="219.7" cy="100.5" r="0.4" fill="#333" opacity="0.75"/><circle cx="224.2" cy="107.7" r="0.4" fill="#333" opacity="0.75"/><circle cx="213.3" cy="99.7" r="0.4" fill="#333" opacity="0.75"/><circle cx="220.1" cy="111.7" r="0.4" fill="#333" opacity="0.75"/><circle cx="210.9" cy="97.3" r="0.4" fill="#333" opacity="0.75"/><circle cx="225.2" cy="95.6" r="0.4" fill="#333" opacity="0.75"/><circle cx="221.9" cy="109.0" r="0.4" fill="#333" opacity="0.75"/><circle cx="220.1" cy="97.3" r="0.4" fill="#333" opacity="0.75"/><circle cx="220.5" cy="103.2" r="0.4" fill="#333" opacity="0.75"/><circle cx="223.9" cy="98.9" r="0.4" fill="#333" opacity="0.75"/><circle cx="230.3" cy="91.8" r="0.4" fill="#333" opacity="0.75"/><circle cx="219.5" cy="106.1" r="0.4" fill="#333" opacity="0.75"/><circle cx="229.2" cy="100.8" r="0.4" fill="#333" opacity="0.75"/><circle cx="225.6" cy="101.2" r="0.4" fill="#333" opacity="0.75"/><circle cx="227.3" cy="120.8" r="0.4" fill="#333" opacity="0.75"/><circle cx="217.6" cy="109.8" r="0.4" fill="#333" opacity="0.75"/><circle cx="213.1" cy="114.3" r="0.4" fill="#333" opacity="0.75"/><circle cx="231.3" cy="106.3" r="0.4" fill="#333" opacity="0.75"/><circle cx="211.4" cy="109.4" r="0.4" fill="#333" opacity="0.75"/><circle cx="230.8" cy="115.3" r="0.4" fill="#333" opacity="0.75"/><circle cx="227.9" cy="90.4" r="0.4" fill="#333" opacity="0.75"/><circle cx="215.2" cy="118.1" r="0.4" fill="#333" opacity="0.75"/><circle cx="210.6" cy="115.6" r="0.4" fill="#333" opacity="0.75"/><circle cx="237.0" cy="112.5" r="0.4" fill="#333" opacity="0.75"/><circle cx="230.5" cy="103.2" r="0.4" fill="#333" opacity="0.75"/><circle cx="210.6" cy="105.1" r="0.4" fill="#333" opacity="0.75"/><circle cx="219.3" cy="105.6" r="0.4" fill="#333" opacity="0.75"/><circle cx="226.9" cy="104.8" r="0.4" fill="#333" opacity="0.75"/><circle cx="222.6" cy="109.6" r="0.4" fill="#333" opacity="0.75"/><circle cx="221.0" cy="121.7" r="0.4" fill="#333" opacity="0.75"/><circle cx="224.8" cy="106.7" r="0.4" fill="#333" opacity="0.75"/><circle cx="219.2" cy="100.7" r="0.4" fill="#333" opacity="0.75"/><circle cx="232.4" cy="107.3" r="0.4" fill="#333" opacity="0.75"/><circle cx="211.8" cy="101.2" r="0.4" fill="#333" opacity="0.75"/><circle cx="219.8" cy="102.2" r="0.4" fill="#333" opacity="0.75"/><circle cx="230.2" cy="96.1" r="0.4" fill="#333" opacity="0.75"/><circle cx="225.2" cy="107.2" r="0.4" fill="#333" opacity="0.75"/><circle cx="211.0" cy="106.4" r="0.4" fill="#333" opacity="0.75"/><circle cx="220.2" cy="110.3" r="0.4" fill="#333" opacity="0.75"/><circle cx="217.2" cy="108.6" r="0.4" fill="#333" opacity="0.75"/><circle cx="206.8" cy="96.8" r="0.4" fill="#333" opacity="0.75"/><circle cx="227.7" cy="114.9" r="0.4" fill="#333" opacity="0.75"/><circle cx="220.9" cy="100.9" r="0.4" fill="#333" opacity="0.75"/><circle cx="230.2" cy="88.2" r="0.4" fill="#333" opacity="0.75"/><circle cx="214.2" cy="111.7" r="0.4" fill="#333" opacity="0.75"/><circle cx="226.5" cy="97.2" r="0.4" fill="#333" opacity="0.75"/><circle cx="205.0" cy="118.3" r="0.4" fill="#333" opacity="0.75"/><circle cx="222.3" cy="98.4" r="0.4" fill="#333" opacity="0.75"/><circle cx="221.5" cy="113.7" r="0.4" fill="#333" opacity="0.75"/><circle cx="227.3" cy="88.3" r="0.4" fill="#333" opacity="0.75"/><circle cx="227.6" cy="90.9" r="0.4" fill="#333" opacity="0.75"/><circle cx="230.7" cy="109.4" r="0.4" fill="#333" opacity="0.75"/><circle cx="221.0" cy="114.9" r="0.4" fill="#333" opacity="0.75"/><circle cx="215.6" cy="100.0" r="0.4" fill="#333" opacity="0.75"/><circle cx="217.8" cy="105.4" r="0.4" fill="#333" opacity="0.75"/><circle cx="211.8" cy="110.1" r="0.4" fill="#333" opacity="0.75"/><circle cx="225.6" cy="106.6" r="0.4" fill="#333" opacity="0.75"/><circle cx="235.5" cy="103.2" r="0.4" fill="#333" opacity="0.75"/><circle cx="232.1" cy="101.4" r="0.4" fill="#333" opacity="0.75"/><circle cx="227.4" cy="89.6" r="0.4" fill="#333" opacity="0.75"/><circle cx="222.7" cy="104.5" r="0.4" fill="#333" opacity="0.75"/><circle cx="216.8" cy="100.8" r="0.4" fill="#333" opacity="0.75"/><circle cx="218.0" cy="99.9" r="0.4" fill="#333" opacity="0.75"/><circle cx="202.4" cy="100.9" r="0.4" fill="#333" opacity="0.75"/><circle cx="216.3" cy="101.5" r="0.4" fill="#333" opacity="0.75"/><circle cx="212.0" cy="104.8" r="0.4" fill="#333" opacity="0.75"/><circle cx="227.7" cy="103.9" r="0.4" fill="#333" opacity="0.75"/><circle cx="216.8" cy="117.5" r="0.4" fill="#333" opacity="0.75"/><circle cx="229.3" cy="113.8" r="0.4" fill="#333" opacity="0.75"/><circle cx="230.8" cy="103.2" r="0.4" fill="#333" opacity="0.75"/><circle cx="219.9" cy="115.5" r="0.4" fill="#333" opacity="0.75"/><circle cx="216.3" cy="105.0" r="0.4" fill="#333" opacity="0.75"/><circle cx="224.2" cy="109.2" r="0.4" fill="#333" opacity="0.75"/><circle cx="218.7" cy="114.4" r="0.4" fill="#333" opacity="0.75"/><circle cx="219.5" cy="112.2" r="0.4" fill="#333" opacity="0.75"/><circle cx="230.1" cy="111.6" r="0.4" fill="#333" opacity="0.75"/><circle cx="227.2" cy="96.1" r="0.4" fill="#333" opacity="0.75"/><circle cx="209.9" cy="100.7" r="0.4" fill="#333" opacity="0.75"/><circle cx="225.0" cy="118.8" r="0.4" fill="#333" opacity="0.75"/><circle cx="210.6" cy="108.6" r="0.4" fill="#333" opacity="0.75"/><circle cx="213.7" cy="99.8" r="0.4" fill="#333" opacity="0.75"/><circle cx="218.7" cy="111.9" r="0.4" fill="#333" opacity="0.75"/><circle cx="222.8" cy="116.0" r="0.4" fill="#333" opacity="0.75"/><circle cx="212.6" cy="113.6" r="0.4" fill="#333" opacity="0.75"/><circle cx="228.9" cy="106.6" r="0.4" fill="#333" opacity="0.75"/><circle cx="225.1" cy="101.2" r="0.4" fill="#333" opacity="0.75"/><circle cx="211.7" cy="102.6" r="0.4" fill="#333" opacity="0.75"/><circle cx="216.9" cy="120.0" r="0.4" fill="#333" opacity="0.75"/><circle cx="222.7" cy="108.7" r="0.4" fill="#333" opacity="0.75"/><circle cx="227.3" cy="99.4" r="0.4" fill="#333" opacity="0.75"/><circle cx="228.8" cy="109.2" r="0.4" fill="#333" opacity="0.75"/><circle cx="208.1" cy="111.1" r="0.4" fill="#333" opacity="0.75"/><circle cx="225.7" cy="109.8" r="0.4" fill="#333" opacity="0.75"/><circle cx="234.5" cy="102.5" r="0.4" fill="#333" opacity="0.75"/><circle cx="225.4" cy="112.4" r="0.4" fill="#333" opacity="0.75"/><circle cx="213.3" cy="116.2" r="0.4" fill="#333" opacity="0.75"/><circle cx="208.7" cy="94.9" r="0.4" fill="#333" opacity="0.75"/><circle cx="225.4" cy="96.7" r="0.4" fill="#333" opacity="0.75"/><circle cx="220.0" cy="92.0" r="0.4" fill="#333" opacity="0.75"/><circle cx="221.6" cy="96.4" r="0.4" fill="#333" opacity="0.75"/><circle cx="223.9" cy="93.0" r="0.4" fill="#333" opacity="0.75"/><circle cx="224.8" cy="103.7" r="0.4" fill="#333" opacity="0.75"/><circle cx="221.5" cy="105.4" r="0.4" fill="#333" opacity="0.75"/><circle cx="222.1" cy="94.8" r="0.4" fill="#333" opacity="0.75"/><circle cx="213.0" cy="102.1" r="0.4" fill="#333" opacity="0.75"/><circle cx="224.6" cy="89.1" r="0.4" fill="#333" opacity="0.75"/><circle cx="214.5" cy="100.8" r="0.4" fill="#333" opacity="0.75"/><circle cx="212.0" cy="108.8" r="0.4" fill="#333" opacity="0.75"/><circle cx="219.8" cy="99.0" r="0.4" fill="#333" opacity="0.75"/><circle cx="212.6" cy="112.9" r="0.4" fill="#333" opacity="0.75"/><circle cx="215.4" cy="111.0" r="0.4" fill="#333" opacity="0.75"/><circle cx="224.8" cy="89.9" r="0.4" fill="#333" opacity="0.75"/><circle cx="211.8" cy="106.0" r="0.4" fill="#333" opacity="0.75"/><circle cx="223.9" cy="112.6" r="0.4" fill="#333" opacity="0.75"/><circle cx="227.8" cy="114.8" r="0.4" fill="#333" opacity="0.75"/><circle cx="217.8" cy="104.2" r="0.4" fill="#333" opacity="0.75"/><circle cx="227.6" cy="102.4" r="0.4" fill="#333" opacity="0.75"/><circle cx="230.0" cy="92.5" r="0.4" fill="#333" opacity="0.75"/><circle cx="226.6" cy="104.5" r="0.4" fill="#333" opacity="0.75"/><circle cx="204.3" cy="114.3" r="0.4" fill="#333" opacity="0.75"/><circle cx="223.6" cy="106.2" r="0.4" fill="#333" opacity="0.75"/><circle cx="211.8" cy="102.0" r="0.4" fill="#333" opacity="0.75"/><circle cx="233.9" cy="99.0" r="0.4" fill="#333" opacity="0.75"/><circle cx="210.8" cy="104.9" r="0.4" fill="#333" opacity="0.75"/><circle cx="217.7" cy="98.2" r="0.4" fill="#333" opacity="0.75"/><circle cx="213.8" cy="114.9" r="0.4" fill="#333" opacity="0.75"/><circle cx="208.7" cy="122.6" r="0.4" fill="#333" opacity="0.75"/><circle cx="216.4" cy="96.7" r="0.4" fill="#333" opacity="0.75"/><circle cx="227.7" cy="110.8" r="0.4" fill="#333" opacity="0.75"/><circle cx="212.1" cy="112.4" r="0.4" fill="#333" opacity="0.75"/><circle cx="205.4" cy="98.1" r="0.4" fill="#333" opacity="0.75"/><circle cx="230.6" cy="103.8" r="0.4" fill="#333" opacity="0.75"/><circle cx="209.9" cy="110.4" r="0.4" fill="#333" opacity="0.75"/><circle cx="228.8" cy="105.8" r="0.4" fill="#333" opacity="0.75"/><circle cx="205.6" cy="103.1" r="0.4" fill="#333" opacity="0.75"/><circle cx="224.6" cy="112.5" r="0.4" fill="#333" opacity="0.75"/><circle cx="236.8" cy="103.9" r="0.4" fill="#333" opacity="0.75"/><circle cx="216.9" cy="105.7" r="0.4" fill="#333" opacity="0.75"/><circle cx="231.3" cy="98.0" r="0.4" fill="#333" opacity="0.75"/><circle cx="227.8" cy="100.3" r="0.4" fill="#333" opacity="0.75"/><circle cx="224.9" cy="111.9" r="0.4" fill="#333" opacity="0.75"/><circle cx="210.9" cy="105.3" r="0.4" fill="#333" opacity="0.75"/><circle cx="223.0" cy="111.0" r="0.4" fill="#333" opacity="0.75"/><circle cx="213.1" cy="97.6" r="0.4" fill="#333" opacity="0.75"/><circle cx="219.4" cy="104.1" r="0.4" fill="#333" opacity="0.75"/><circle cx="208.3" cy="113.9" r="0.4" fill="#333" opacity="0.75"/><circle cx="216.5" cy="118.2" r="0.4" fill="#333" opacity="0.75"/><circle cx="228.2" cy="106.2" r="0.4" fill="#333" opacity="0.75"/><circle cx="227.2" cy="96.5" r="0.4" fill="#333" opacity="0.75"/><circle cx="218.2" cy="101.1" r="0.4" fill="#333" opacity="0.75"/><circle cx="210.2" cy="106.1" r="0.4" fill="#333" opacity="0.75"/><circle cx="219.8" cy="118.2" r="0.4" fill="#333" opacity="0.75"/><circle cx="213.2" cy="102.1" r="0.4" fill="#333" opacity="0.75"/><circle cx="224.6" cy="109.4" r="0.4" fill="#333" opacity="0.75"/><circle cx="221.2" cy="102.0" r="0.4" fill="#333" opacity="0.75"/><circle cx="225.2" cy="109.1" r="0.4" fill="#333" opacity="0.75"/><circle cx="205.3" cy="103.8" r="0.4" fill="#333" opacity="0.75"/><circle cx="209.3" cy="96.0" r="0.4" fill="#333" opacity="0.75"/><circle cx="222.2" cy="106.5" r="0.4" fill="#333" opacity="0.75"/><circle cx="222.0" cy="98.6" r="0.4" fill="#333" opacity="0.75"/><circle cx="219.3" cy="98.2" r="0.4" fill="#333" opacity="0.75"/><circle cx="224.2" cy="111.9" r="0.4" fill="#333" opacity="0.75"/><circle cx="235.9" cy="116.8" r="0.4" fill="#333" opacity="0.75"/><circle cx="214.2" cy="102.1" r="0.4" fill="#333" opacity="0.75"/><circle cx="213.0" cy="108.6" r="0.4" fill="#333" opacity="0.75"/><circle cx="237.8" cy="112.0" r="0.4" fill="#333" opacity="0.75"/><circle cx="202.3" cy="95.3" r="0.4" fill="#333" opacity="0.75"/><circle cx="210.0" cy="110.4" r="0.4" fill="#333" opacity="0.75"/><circle cx="221.0" cy="108.5" r="0.4" fill="#333" opacity="0.75"/><circle cx="236.1" cy="99.0" r="0.4" fill="#333" opacity="0.75"/><circle cx="213.8" cy="122.7" r="0.4" fill="#333" opacity="0.75"/><circle cx="223.9" cy="99.4" r="0.4" fill="#333" opacity="0.75"/><circle cx="203.8" cy="93.0" r="0.4" fill="#333" opacity="0.75"/><circle cx="221.4" cy="114.4" r="0.4" fill="#333" opacity="0.75"/><circle cx="219.8" cy="100.1" r="0.4" fill="#333" opacity="0.75"/><circle cx="214.7" cy="122.2" r="0.4" fill="#333" opacity="0.75"/><circle cx="206.0" cy="107.5" r="0.4" fill="#333" opacity="0.75"/><circle cx="221.2" cy="111.2" r="0.4" fill="#333" opacity="0.75"/><circle cx="217.6" cy="110.2" r="0.4" fill="#333" opacity="0.75"/><circle cx="227.9" cy="104.7" r="0.4" fill="#333" opacity="0.75"/><circle cx="217.1" cy="104.4" r="0.4" fill="#333" opacity="0.75"/><circle cx="212.8" cy="104.2" r="0.4" fill="#333" opacity="0.75"/><circle cx="218.4" cy="107.8" r="0.4" fill="#333" opacity="0.75"/><circle cx="232.4" cy="117.1" r="0.4" fill="#333" opacity="0.75"/><circle cx="217.2" cy="111.1" r="0.4" fill="#333" opacity="0.75"/><circle cx="223.5" cy="112.5" r="0.4" fill="#333" opacity="0.75"/><circle cx="221.2" cy="108.3" r="0.4" fill="#333" opacity="0.75"/><circle cx="217.0" cy="99.3" r="0.4" fill="#333" opacity="0.75"/><circle cx="228.4" cy="117.0" r="0.4" fill="#333" opacity="0.75"/><circle cx="226.6" cy="109.7" r="0.4" fill="#333" opacity="0.75"/><circle cx="223.3" cy="102.2" r="0.4" fill="#333" opacity="0.75"/><circle cx="205.8" cy="111.6" r="0.4" fill="#333" opacity="0.75"/><circle cx="222.7" cy="101.3" r="0.4" fill="#333" opacity="0.75"/><circle cx="212.8" cy="116.9" r="0.4" fill="#333" opacity="0.75"/><circle cx="205.7" cy="121.0" r="0.4" fill="#333" opacity="0.75"/><circle cx="214.9" cy="105.8" r="0.4" fill="#333" opacity="0.75"/><circle cx="216.7" cy="107.3" r="0.4" fill="#333" opacity="0.75"/><circle cx="219.2" cy="99.6" r="0.4" fill="#333" opacity="0.75"/><circle cx="230.1" cy="99.3" r="0.4" fill="#333" opacity="0.75"/><circle cx="216.7" cy="110.7" r="0.4" fill="#333" opacity="0.75"/><circle cx="216.4" cy="102.3" r="0.4" fill="#333" opacity="0.75"/><circle cx="224.0" cy="102.9" r="0.4" fill="#333" opacity="0.75"/><circle cx="210.4" cy="105.1" r="0.4" fill="#333" opacity="0.75"/><circle cx="219.1" cy="120.5" r="0.4" fill="#333" opacity="0.75"/><circle cx="211.7" cy="114.2" r="0.4" fill="#333" opacity="0.75"/><circle cx="214.3" cy="103.0" r="0.4" fill="#333" opacity="0.75"/><circle cx="218.2" cy="108.3" r="0.4" fill="#333" opacity="0.75"/><circle cx="228.3" cy="120.9" r="0.4" fill="#333" opacity="0.75"/><circle cx="215.6" cy="117.3" r="0.4" fill="#333" opacity="0.75"/><circle cx="229.5" cy="112.9" r="0.4" fill="#333" opacity="0.75"/><circle cx="214.5" cy="113.7" r="0.4" fill="#333" opacity="0.75"/><circle cx="220.1" cy="109.0" r="0.4" fill="#333" opacity="0.75"/><circle cx="218.7" cy="111.6" r="0.4" fill="#333" opacity="0.75"/><circle cx="230.5" cy="115.6" r="0.4" fill="#333" opacity="0.75"/><circle cx="219.3" cy="114.5" r="0.4" fill="#333" opacity="0.75"/><circle cx="233.3" cy="98.0" r="0.4" fill="#333" opacity="0.75"/><circle cx="233.5" cy="94.6" r="0.4" fill="#333" opacity="0.75"/><circle cx="225.6" cy="111.0" r="0.4" fill="#333" opacity="0.75"/><circle cx="233.6" cy="108.4" r="0.4" fill="#333" opacity="0.75"/><circle cx="216.9" cy="99.2" r="0.4" fill="#333" opacity="0.75"/><circle cx="210.4" cy="112.5" r="0.4" fill="#333" opacity="0.75"/><circle cx="219.0" cy="99.9" r="0.4" fill="#333" opacity="0.75"/><circle cx="225.5" cy="99.5" r="0.4" fill="#333" opacity="0.75"/><circle cx="217.3" cy="102.1" r="0.4" fill="#333" opacity="0.75"/><circle cx="235.1" cy="118.4" r="0.4" fill="#333" opacity="0.75"/><circle cx="219.7" cy="92.6" r="0.4" fill="#333" opacity="0.75"/><circle cx="223.4" cy="106.6" r="0.4" fill="#333" opacity="0.75"/><circle cx="224.0" cy="110.8" r="0.4" fill="#333" opacity="0.75"/><circle cx="218.3" cy="113.9" r="0.4" fill="#333" opacity="0.75"/><circle cx="228.1" cy="107.8" r="0.4" fill="#333" opacity="0.75"/><circle cx="217.5" cy="101.9" r="0.4" fill="#333" opacity="0.75"/><circle cx="226.9" cy="96.7" r="0.4" fill="#333" opacity="0.75"/><circle cx="219.6" cy="99.6" r="0.4" fill="#333" opacity="0.75"/><circle cx="209.2" cy="111.1" r="0.4" fill="#333" opacity="0.75"/><circle cx="220.8" cy="106.3" r="0.4" fill="#333" opacity="0.75"/><circle cx="228.4" cy="93.3" r="0.4" fill="#333" opacity="0.75"/><circle cx="220.4" cy="108.5" r="0.4" fill="#333" opacity="0.75"/><circle cx="228.1" cy="96.8" r="0.4" fill="#333" opacity="0.75"/><circle cx="227.1" cy="107.9" r="0.4" fill="#333" opacity="0.75"/><circle cx="232.5" cy="115.7" r="0.4" fill="#333" opacity="0.75"/><circle cx="221.0" cy="102.4" r="0.4" fill="#333" opacity="0.75"/><circle cx="218.1" cy="98.0" r="0.4" fill="#333" opacity="0.75"/><circle cx="220.8" cy="90.0" r="0.4" fill="#333" opacity="0.75"/><circle cx="220.3" cy="109.6" r="0.4" fill="#333" opacity="0.75"/><circle cx="229.4" cy="103.0" r="0.4" fill="#333" opacity="0.75"/><circle cx="232.8" cy="100.5" r="0.4" fill="#333" opacity="0.75"/><circle cx="219.9" cy="90.0" r="0.4" fill="#333" opacity="0.75"/><circle cx="214.5" cy="99.3" r="0.4" fill="#333" opacity="0.75"/><circle cx="233.4" cy="110.4" r="0.4" fill="#333" opacity="0.75"/><circle cx="211.8" cy="110.4" r="0.4" fill="#333" opacity="0.75"/><circle cx="225.0" cy="104.1" r="0.4" fill="#333" opacity="0.75"/><circle cx="221.2" cy="103.5" r="0.4" fill="#333" opacity="0.75"/><circle cx="216.5" cy="91.3" r="0.4" fill="#333" opacity="0.75"/><circle cx="220.2" cy="116.7" r="0.4" fill="#333" opacity="0.75"/><circle cx="232.9" cy="103.7" r="0.4" fill="#333" opacity="0.75"/><circle cx="214.8" cy="104.2" r="0.4" fill="#333" opacity="0.75"/><circle cx="228.4" cy="108.9" r="0.4" fill="#333" opacity="0.75"/><circle cx="216.2" cy="109.0" r="0.4" fill="#333" opacity="0.75"/><circle cx="219.3" cy="110.3" r="0.4" fill="#333" opacity="0.75"/><circle cx="217.6" cy="93.8" r="0.4" fill="#333" opacity="0.75"/><circle cx="221.5" cy="112.3" r="0.4" fill="#333" opacity="0.75"/><circle cx="211.8" cy="105.1" r="0.4" fill="#333" opacity="0.75"/><circle cx="228.3" cy="102.9" r="0.4" fill="#333" opacity="0.75"/><circle cx="215.6" cy="122.8" r="0.4" fill="#333" opacity="0.75"/><circle cx="227.9" cy="114.5" r="0.4" fill="#333" opacity="0.75"/><circle cx="213.2" cy="119.5" r="0.4" fill="#333" opacity="0.75"/><circle cx="207.3" cy="101.7" r="0.4" fill="#333" opacity="0.75"/><circle cx="227.1" cy="117.0" r="0.4" fill="#333" opacity="0.75"/><circle cx="213.3" cy="100.5" r="0.4" fill="#333" opacity="0.75"/><circle cx="222.6" cy="90.0" r="0.4" fill="#333" opacity="0.75"/><circle cx="226.3" cy="110.6" r="0.4" fill="#333" opacity="0.75"/><circle cx="217.3" cy="110.4" r="0.4" fill="#333" opacity="0.75"/><circle cx="227.4" cy="108.6" r="0.4" fill="#333" opacity="0.75"/><circle cx="225.3" cy="118.5" r="0.4" fill="#333" opacity="0.75"/><circle cx="217.1" cy="107.3" r="0.4" fill="#333" opacity="0.75"/><circle cx="216.7" cy="114.5" r="0.4" fill="#333" opacity="0.75"/><circle cx="217.6" cy="109.9" r="0.4" fill="#333" opacity="0.75"/><circle cx="222.1" cy="106.5" r="0.4" fill="#333" opacity="0.75"/><circle cx="235.1" cy="105.3" r="0.4" fill="#333" opacity="0.75"/><circle cx="232.7" cy="112.8" r="0.4" fill="#333" opacity="0.75"/><circle cx="231.9" cy="104.6" r="0.4" fill="#333" opacity="0.75"/><circle cx="228.6" cy="112.2" r="0.4" fill="#333" opacity="0.75"/><circle cx="215.9" cy="108.2" r="0.4" fill="#333" opacity="0.75"/><circle cx="219.9" cy="105.7" r="0.4" fill="#333" opacity="0.75"/><circle cx="231.7" cy="100.1" r="0.4" fill="#333" opacity="0.75"/><circle cx="207.2" cy="91.7" r="0.4" fill="#333" opacity="0.75"/><circle cx="217.3" cy="100.7" r="0.4" fill="#333" opacity="0.75"/><circle cx="221.1" cy="110.6" r="0.4" fill="#333" opacity="0.75"/><circle cx="235.4" cy="108.5" r="0.4" fill="#333" opacity="0.75"/><circle cx="224.8" cy="100.0" r="0.4" fill="#333" opacity="0.75"/><circle cx="225.8" cy="117.1" r="0.4" fill="#333" opacity="0.75"/><circle cx="232.0" cy="90.0" r="0.4" fill="#333" opacity="0.75"/><circle cx="228.3" cy="119.0" r="0.4" fill="#333" opacity="0.75"/><circle cx="227.8" cy="93.8" r="0.4" fill="#333" opacity="0.75"/><circle cx="218.5" cy="110.8" r="0.4" fill="#333" opacity="0.75"/><circle cx="224.4" cy="99.4" r="0.4" fill="#333" opacity="0.75"/><circle cx="213.7" cy="113.9" r="0.4" fill="#333" opacity="0.75"/><circle cx="210.1" cy="117.7" r="0.4" fill="#333" opacity="0.75"/><circle cx="221.2" cy="108.5" r="0.4" fill="#333" opacity="0.75"/><circle cx="210.1" cy="101.1" r="0.4" fill="#333" opacity="0.75"/><circle cx="226.6" cy="94.0" r="0.4" fill="#333" opacity="0.75"/><circle cx="237.9" cy="94.5" r="0.4" fill="#333" opacity="0.75"/><circle cx="211.0" cy="106.4" r="0.4" fill="#333" opacity="0.75"/><circle cx="224.9" cy="112.0" r="0.4" fill="#333" opacity="0.75"/><circle cx="218.0" cy="104.3" r="0.4" fill="#333" opacity="0.75"/><circle cx="219.1" cy="101.3" r="0.4" fill="#333" opacity="0.75"/><circle cx="223.1" cy="107.3" r="0.4" fill="#333" opacity="0.75"/><circle cx="215.9" cy="108.1" r="0.4" fill="#333" opacity="0.75"/><circle cx="220.9" cy="105.4" r="0.4" fill="#333" opacity="0.75"/><circle cx="230.0" cy="91.9" r="0.4" fill="#333" opacity="0.75"/><circle cx="223.1" cy="97.3" r="0.4" fill="#333" opacity="0.75"/><circle cx="218.4" cy="118.2" r="0.4" fill="#333" opacity="0.75"/><circle cx="212.1" cy="105.2" r="0.4" fill="#333" opacity="0.75"/><circle cx="216.2" cy="113.8" r="0.4" fill="#333" opacity="0.75"/><circle cx="213.0" cy="92.3" r="0.4" fill="#333" opacity="0.75"/><circle cx="225.2" cy="103.1" r="0.4" fill="#333" opacity="0.75"/><circle cx="218.4" cy="114.8" r="0.4" fill="#333" opacity="0.75"/><circle cx="213.8" cy="103.0" r="0.4" fill="#333" opacity="0.75"/><circle cx="222.2" cy="109.4" r="0.4" fill="#333" opacity="0.75"/><circle cx="216.8" cy="114.4" r="0.4" fill="#333" opacity="0.75"/><circle cx="239.3" cy="102.7" r="0.4" fill="#333" opacity="0.75"/><circle cx="236.3" cy="88.8" r="0.4" fill="#333" opacity="0.75"/><circle cx="232.5" cy="103.2" r="0.4" fill="#333" opacity="0.75"/><circle cx="222.1" cy="103.2" r="0.4" fill="#333" opacity="0.75"/><circle cx="215.8" cy="95.6" r="0.4" fill="#333" opacity="0.75"/><circle cx="217.8" cy="116.6" r="0.4" fill="#333" opacity="0.75"/><circle cx="230.3" cy="103.2" r="0.4" fill="#333" opacity="0.75"/><circle cx="216.7" cy="100.3" r="0.4" fill="#333" opacity="0.75"/><circle cx="211.2" cy="120.7" r="0.4" fill="#333" opacity="0.75"/><circle cx="226.4" cy="107.0" r="0.4" fill="#333" opacity="0.75"/><circle cx="217.0" cy="97.7" r="0.4" fill="#333" opacity="0.75"/><circle cx="231.7" cy="112.4" r="0.4" fill="#333" opacity="0.75"/><circle cx="213.2" cy="114.1" r="0.4" fill="#333" opacity="0.75"/><circle cx="212.0" cy="111.2" r="0.4" fill="#333" opacity="0.75"/><circle cx="213.2" cy="102.6" r="0.4" fill="#333" opacity="0.75"/><circle cx="225.0" cy="109.5" r="0.4" fill="#333" opacity="0.75"/><circle cx="229.3" cy="99.2" r="0.4" fill="#333" opacity="0.75"/><circle cx="233.9" cy="117.0" r="0.4" fill="#333" opacity="0.75"/><circle cx="220.9" cy="109.8" r="0.4" fill="#333" opacity="0.75"/><circle cx="214.7" cy="104.8" r="0.4" fill="#333" opacity="0.75"/><circle cx="210.2" cy="106.7" r="0.4" fill="#333" opacity="0.75"/><circle cx="222.6" cy="117.0" r="0.4" fill="#333" opacity="0.75"/><circle cx="228.7" cy="112.6" r="0.4" fill="#333" opacity="0.75"/><circle cx="218.0" cy="104.2" r="0.4" fill="#333" opacity="0.75"/><circle cx="218.2" cy="107.8" r="0.4" fill="#333" opacity="0.75"/><circle cx="205.2" cy="112.3" r="0.4" fill="#333" opacity="0.75"/><circle cx="208.2" cy="101.8" r="0.4" fill="#333" opacity="0.75"/><circle cx="221.2" cy="101.8" r="0.4" fill="#333" opacity="0.75"/><circle cx="234.6" cy="105.2" r="0.4" fill="#333" opacity="0.75"/><circle cx="233.8" cy="115.6" r="0.4" fill="#333" opacity="0.75"/><circle cx="216.9" cy="109.3" r="0.4" fill="#333" opacity="0.75"/><circle cx="231.6" cy="103.3" r="0.4" fill="#333" opacity="0.75"/><circle cx="221.7" cy="101.4" r="0.4" fill="#333" opacity="0.75"/><circle cx="221.5" cy="103.1" r="0.4" fill="#333" opacity="0.75"/><circle cx="221.7" cy="114.2" r="0.4" fill="#333" opacity="0.75"/><circle cx="232.4" cy="107.1" r="0.4" fill="#333" opacity="0.75"/><circle cx="222.6" cy="113.0" r="0.4" fill="#333" opacity="0.75"/><circle cx="218.6" cy="97.4" r="0.4" fill="#333" opacity="0.75"/><circle cx="230.1" cy="98.4" r="0.4" fill="#333" opacity="0.75"/><circle cx="228.6" cy="98.1" r="0.4" fill="#333" opacity="0.75"/><circle cx="235.9" cy="97.5" r="0.4" fill="#333" opacity="0.75"/><circle cx="227.9" cy="118.2" r="0.4" fill="#333" opacity="0.75"/><circle cx="213.2" cy="118.1" r="0.4" fill="#333" opacity="0.75"/><circle cx="214.3" cy="91.6" r="0.4" fill="#333" opacity="0.75"/><circle cx="226.9" cy="111.7" r="0.4" fill="#333" opacity="0.75"/><circle cx="220.6" cy="103.5" r="0.4" fill="#333" opacity="0.75"/><circle cx="217.9" cy="103.6" r="0.4" fill="#333" opacity="0.75"/><circle cx="206.4" cy="101.4" r="0.4" fill="#333" opacity="0.75"/><circle cx="235.7" cy="118.6" r="0.4" fill="#333" opacity="0.75"/><circle cx="218.0" cy="100.2" r="0.4" fill="#333" opacity="0.75"/><circle cx="224.2" cy="114.7" r="0.4" fill="#333" opacity="0.75"/><circle cx="226.9" cy="96.5" r="0.4" fill="#333" opacity="0.75"/><circle cx="222.3" cy="107.1" r="0.4" fill="#333" opacity="0.75"/><circle cx="232.7" cy="115.8" r="0.4" fill="#333" opacity="0.75"/><circle cx="225.3" cy="115.9" r="0.4" fill="#333" opacity="0.75"/><circle cx="217.8" cy="118.6" r="0.4" fill="#333" opacity="0.75"/><circle cx="217.5" cy="109.2" r="0.4" fill="#333" opacity="0.75"/><circle cx="228.5" cy="98.5" r="0.4" fill="#333" opacity="0.75"/><circle cx="215.3" cy="91.7" r="0.4" fill="#333" opacity="0.75"/><circle cx="222.3" cy="105.6" r="0.4" fill="#333" opacity="0.75"/><circle cx="218.3" cy="110.1" r="0.4" fill="#333" opacity="0.75"/><circle cx="203.7" cy="105.8" r="0.4" fill="#333" opacity="0.75"/><circle cx="221.7" cy="103.8" r="0.4" fill="#333" opacity="0.75"/><circle cx="227.5" cy="120.3" r="0.4" fill="#333" opacity="0.75"/><circle cx="217.4" cy="98.3" r="0.4" fill="#333" opacity="0.75"/><circle cx="216.1" cy="106.8" r="0.4" fill="#333" opacity="0.75"/><circle cx="225.8" cy="99.0" r="0.4" fill="#333" opacity="0.75"/><circle cx="229.2" cy="97.6" r="0.4" fill="#333" opacity="0.75"/><circle cx="227.7" cy="109.5" r="0.4" fill="#333" opacity="0.75"/><circle cx="218.8" cy="104.6" r="0.4" fill="#333" opacity="0.75"/><circle cx="224.9" cy="113.0" r="0.4" fill="#333" opacity="0.75"/><circle cx="210.1" cy="108.2" r="0.4" fill="#333" opacity="0.75"/><circle cx="214.9" cy="111.1" r="0.4" fill="#333" opacity="0.75"/><circle cx="232.2" cy="106.4" r="0.4" fill="#333" opacity="0.75"/><circle cx="220.1" cy="107.5" r="0.4" fill="#333" opacity="0.75"/><circle cx="225.6" cy="107.3" r="0.4" fill="#333" opacity="0.75"/><circle cx="217.8" cy="100.0" r="0.4" fill="#333" opacity="0.75"/><circle cx="219.5" cy="115.9" r="0.4" fill="#333" opacity="0.75"/><circle cx="220.2" cy="117.0" r="0.4" fill="#333" opacity="0.75"/><circle cx="223.2" cy="105.9" r="0.4" fill="#333" opacity="0.75"/><circle cx="207.5" cy="100.6" r="0.4" fill="#333" opacity="0.75"/><circle cx="231.2" cy="95.5" r="0.4" fill="#333" opacity="0.75"/><circle cx="212.9" cy="97.0" r="0.4" fill="#333" opacity="0.75"/><circle cx="216.5" cy="111.2" r="0.4" fill="#333" opacity="0.75"/><circle cx="225.8" cy="89.4" r="0.4" fill="#333" opacity="0.75"/><circle cx="232.9" cy="101.2" r="0.4" fill="#333" opacity="0.75"/><circle cx="216.2" cy="119.6" r="0.4" fill="#333" opacity="0.75"/><circle cx="220.4" cy="96.5" r="0.4" fill="#ccc" opacity="0.6"/><circle cx="216.1" cy="100.4" r="0.4" fill="#ccc" opacity="0.6"/><circle cx="213.2" cy="103.4" r="0.4" fill="#ccc" opacity="0.6"/><circle cx="227.7" cy="108.7" r="0.4" fill="#ccc" opacity="0.6"/><circle cx="213.4" cy="106.9" r="0.4" fill="#ccc" opacity="0.6"/><circle cx="221.2" cy="111.8" r="0.4" fill="#ccc" opacity="0.6"/><circle cx="218.5" cy="109.5" r="0.4" fill="#ccc" opacity="0.6"/><circle cx="237.2" cy="106.7" r="0.4" fill="#ccc" opacity="0.6"/><circle cx="214.8" cy="103.2" r="0.4" fill="#ccc" opacity="0.6"/><circle cx="222.4" cy="108.6" r="0.4" fill="#ccc" opacity="0.6"/><circle cx="218.8" cy="112.5" r="0.4" fill="#ccc" opacity="0.6"/><circle cx="219.5" cy="96.0" r="0.4" fill="#ccc" opacity="0.6"/><circle cx="227.7" cy="103.2" r="0.4" fill="#ccc" opacity="0.6"/><circle cx="230.3" cy="101.0" r="0.4" fill="#ccc" opacity="0.6"/><circle cx="225.4" cy="108.4" r="0.4" fill="#ccc" opacity="0.6"/><circle cx="229.4" cy="109.8" r="0.4" fill="#ccc" opacity="0.6"/><circle cx="226.2" cy="102.2" r="0.4" fill="#ccc" opacity="0.6"/><circle cx="220.9" cy="107.7" r="0.4" fill="#ccc" opacity="0.6"/><circle cx="224.2" cy="111.4" r="0.4" fill="#ccc" opacity="0.6"/><circle cx="219.4" cy="100.6" r="0.4" fill="#ccc" opacity="0.6"/><circle cx="216.7" cy="109.2" r="0.4" fill="#ccc" opacity="0.6"/><circle cx="217.8" cy="101.8" r="0.4" fill="#ccc" opacity="0.6"/><circle cx="218.4" cy="104.1" r="0.4" fill="#ccc" opacity="0.6"/><circle cx="227.0" cy="90.8" r="0.4" fill="#ccc" opacity="0.6"/><circle cx="218.6" cy="109.6" r="0.4" fill="#ccc" opacity="0.6"/><circle cx="224.8" cy="115.2" r="0.4" fill="#ccc" opacity="0.6"/><circle cx="229.1" cy="97.9" r="0.4" fill="#ccc" opacity="0.6"/><circle cx="225.9" cy="103.4" r="0.4" fill="#ccc" opacity="0.6"/><circle cx="214.8" cy="117.8" r="0.4" fill="#ccc" opacity="0.6"/><circle cx="216.2" cy="99.4" r="0.4" fill="#ccc" opacity="0.6"/><circle cx="217.9" cy="99.4" r="0.4" fill="#ccc" opacity="0.6"/><circle cx="228.7" cy="108.9" r="0.4" fill="#ccc" opacity="0.6"/><circle cx="231.8" cy="109.2" r="0.4" fill="#ccc" opacity="0.6"/><circle cx="216.3" cy="114.1" r="0.4" fill="#ccc" opacity="0.6"/><circle cx="216.0" cy="102.4" r="0.4" fill="#ccc" opacity="0.6"/><circle cx="219.7" cy="106.3" r="0.4" fill="#ccc" opacity="0.6"/><circle cx="230.2" cy="101.3" r="0.4" fill="#ccc" opacity="0.6"/><circle cx="223.7" cy="105.8" r="0.4" fill="#ccc" opacity="0.6"/><circle cx="219.3" cy="109.1" r="0.4" fill="#ccc" opacity="0.6"/><circle cx="223.5" cy="109.7" r="0.4" fill="#ccc" opacity="0.6"/><circle cx="221.4" cy="102.5" r="0.4" fill="#ccc" opacity="0.6"/><circle cx="224.3" cy="98.3" r="0.4" fill="#ccc" opacity="0.6"/><circle cx="215.2" cy="101.7" r="0.4" fill="#ccc" opacity="0.6"/><circle cx="220.7" cy="99.8" r="0.4" fill="#ccc" opacity="0.6"/><circle cx="217.7" cy="92.8" r="0.4" fill="#ccc" opacity="0.6"/><circle cx="222.1" cy="99.2" r="0.4" fill="#ccc" opacity="0.6"/><circle cx="214.8" cy="107.9" r="0.4" fill="#ccc" opacity="0.6"/><circle cx="221.7" cy="106.8" r="0.4" fill="#ccc" opacity="0.6"/><circle cx="222.1" cy="98.5" r="0.4" fill="#ccc" opacity="0.6"/><circle cx="226.7" cy="105.6" r="0.4" fill="#ccc" opacity="0.6"/><circle cx="221.1" cy="102.5" r="0.4" fill="#ccc" opacity="0.6"/><circle cx="225.2" cy="106.8" r="0.4" fill="#ccc" opacity="0.6"/><circle cx="229.8" cy="109.5" r="0.4" fill="#ccc" opacity="0.6"/><circle cx="216.2" cy="104.3" r="0.4" fill="#ccc" opacity="0.6"/><circle cx="228.1" cy="103.2" r="0.4" fill="#ccc" opacity="0.6"/><circle cx="224.0" cy="110.0" r="0.4" fill="#ccc" opacity="0.6"/><circle cx="222.0" cy="107.7" r="0.4" fill="#ccc" opacity="0.6"/><circle cx="222.0" cy="100.1" r="0.4" fill="#ccc" opacity="0.6"/><circle cx="230.3" cy="105.0" r="0.4" fill="#ccc" opacity="0.6"/><circle cx="216.2" cy="100.5" r="0.4" fill="#ccc" opacity="0.6"/><circle cx="223.8" cy="97.6" r="0.4" fill="#ccc" opacity="0.6"/><circle cx="213.3" cy="121.5" r="0.4" fill="#ccc" opacity="0.6"/><circle cx="231.1" cy="114.2" r="0.4" fill="#ccc" opacity="0.6"/><circle cx="231.6" cy="110.6" r="0.4" fill="#ccc" opacity="0.6"/><circle cx="230.6" cy="109.8" r="0.4" fill="#ccc" opacity="0.6"/><circle cx="231.6" cy="102.2" r="0.4" fill="#ccc" opacity="0.6"/><circle cx="222.0" cy="112.0" r="0.4" fill="#ccc" opacity="0.6"/><circle cx="220.3" cy="114.5" r="0.4" fill="#ccc" opacity="0.6"/><circle cx="221.6" cy="111.4" r="0.4" fill="#ccc" opacity="0.6"/><circle cx="221.7" cy="94.5" r="0.4" fill="#ccc" opacity="0.6"/><circle cx="223.2" cy="116.2" r="0.4" fill="#ccc" opacity="0.6"/><circle cx="229.8" cy="119.3" r="0.4" fill="#ccc" opacity="0.6"/><circle cx="225.3" cy="101.4" r="0.4" fill="#ccc" opacity="0.6"/><circle cx="221.1" cy="91.1" r="0.4" fill="#ccc" opacity="0.6"/><circle cx="219.5" cy="113.0" r="0.4" fill="#ccc" opacity="0.6"/><circle cx="227.4" cy="116.3" r="0.4" fill="#ccc" opacity="0.6"/><circle cx="213.8" cy="100.9" r="0.4" fill="#ccc" opacity="0.6"/><circle cx="225.1" cy="122.1" r="0.4" fill="#ccc" opacity="0.6"/><circle cx="224.3" cy="102.2" r="0.4" fill="#ccc" opacity="0.6"/><circle cx="220.5" cy="107.7" r="0.4" fill="#ccc" opacity="0.6"/><circle cx="237.5" cy="120.0" r="0.4" fill="#ccc" opacity="0.6"/><circle cx="228.6" cy="116.6" r="0.4" fill="#ccc" opacity="0.6"/><circle cx="225.0" cy="108.8" r="0.4" fill="#ccc" opacity="0.6"/><circle cx="219.6" cy="102.8" r="0.4" fill="#ccc" opacity="0.6"/><circle cx="223.1" cy="105.7" r="0.4" fill="#ccc" opacity="0.6"/><circle cx="222.4" cy="120.1" r="0.4" fill="#ccc" opacity="0.6"/><circle cx="220.2" cy="103.9" r="0.4" fill="#ccc" opacity="0.6"/><circle cx="215.2" cy="105.8" r="0.4" fill="#ccc" opacity="0.6"/><circle cx="217.6" cy="107.6" r="0.4" fill="#ccc" opacity="0.6"/><circle cx="214.3" cy="121.0" r="0.4" fill="#ccc" opacity="0.6"/><circle cx="227.7" cy="112.4" r="0.4" fill="#ccc" opacity="0.6"/><circle cx="226.6" cy="112.4" r="0.4" fill="#ccc" opacity="0.6"/><circle cx="226.3" cy="117.0" r="0.4" fill="#ccc" opacity="0.6"/><circle cx="228.8" cy="116.5" r="0.4" fill="#ccc" opacity="0.6"/><circle cx="217.1" cy="106.0" r="0.4" fill="#ccc" opacity="0.6"/><circle cx="215.3" cy="113.5" r="0.4" fill="#ccc" opacity="0.6"/><circle cx="227.5" cy="102.4" r="0.4" fill="#ccc" opacity="0.6"/><circle cx="230.6" cy="97.3" r="0.4" fill="#ccc" opacity="0.6"/><circle cx="220.3" cy="110.9" r="0.4" fill="#ccc" opacity="0.6"/><circle cx="220.7" cy="109.0" r="0.4" fill="#ccc" opacity="0.6"/><circle cx="230.2" cy="108.6" r="0.4" fill="#ccc" opacity="0.6"/><circle cx="220.2" cy="106.9" r="0.4" fill="#ccc" opacity="0.6"/><circle cx="216.6" cy="95.2" r="0.4" fill="#ccc" opacity="0.6"/><circle cx="229.9" cy="97.0" r="0.4" fill="#ccc" opacity="0.6"/><circle cx="215.4" cy="110.1" r="0.4" fill="#ccc" opacity="0.6"/><circle cx="215.0" cy="111.1" r="0.4" fill="#ccc" opacity="0.6"/><circle cx="217.2" cy="108.4" r="0.4" fill="#ccc" opacity="0.6"/><circle cx="221.8" cy="106.0" r="0.4" fill="#ccc" opacity="0.6"/><circle cx="220.7" cy="117.0" r="0.4" fill="#ccc" opacity="0.6"/><circle cx="216.7" cy="110.1" r="0.4" fill="#ccc" opacity="0.6"/><circle cx="222.3" cy="109.8" r="0.4" fill="#ccc" opacity="0.6"/><circle cx="228.7" cy="94.3" r="0.4" fill="#ccc" opacity="0.6"/><circle cx="223.1" cy="104.6" r="0.4" fill="#ccc" opacity="0.6"/><circle cx="218.6" cy="99.3" r="0.4" fill="#ccc" opacity="0.6"/><circle cx="214.9" cy="98.0" r="0.4" fill="#ccc" opacity="0.6"/><circle cx="234.2" cy="106.1" r="0.4" fill="#ccc" opacity="0.6"/><circle cx="226.8" cy="98.4" r="0.4" fill="#ccc" opacity="0.6"/><circle cx="222.1" cy="117.2" r="0.4" fill="#ccc" opacity="0.6"/><circle cx="220.7" cy="98.2" r="0.4" fill="#ccc" opacity="0.6"/><circle cx="219.1" cy="98.2" r="0.4" fill="#ccc" opacity="0.6"/><circle cx="217.9" cy="99.7" r="0.4" fill="#ccc" opacity="0.6"/><circle cx="214.1" cy="98.7" r="0.4" fill="#ccc" opacity="0.6"/><circle cx="222.8" cy="116.9" r="0.4" fill="#ccc" opacity="0.6"/><circle cx="221.8" cy="110.4" r="0.4" fill="#ccc" opacity="0.6"/><circle cx="229.8" cy="101.7" r="0.4" fill="#ccc" opacity="0.6"/><circle cx="223.3" cy="100.6" r="0.4" fill="#ccc" opacity="0.6"/><circle cx="228.0" cy="119.1" r="0.4" fill="#ccc" opacity="0.6"/><circle cx="228.9" cy="91.0" r="0.4" fill="#ccc" opacity="0.6"/><circle cx="222.6" cy="104.2" r="0.4" fill="#ccc" opacity="0.6"/><circle cx="222.7" cy="102.3" r="0.4" fill="#ccc" opacity="0.6"/><circle cx="224.5" cy="111.0" r="0.4" fill="#ccc" opacity="0.6"/><circle cx="227.0" cy="110.5" r="0.4" fill="#ccc" opacity="0.6"/><circle cx="224.2" cy="96.8" r="0.4" fill="#ccc" opacity="0.6"/><circle cx="217.7" cy="107.0" r="0.4" fill="#ccc" opacity="0.6"/><circle cx="218.0" cy="97.8" r="0.4" fill="#ccc" opacity="0.6"/><circle cx="221.3" cy="101.4" r="0.4" fill="#ccc" opacity="0.6"/><circle cx="217.8" cy="99.1" r="0.4" fill="#ccc" opacity="0.6"/><circle cx="215.2" cy="105.2" r="0.4" fill="#ccc" opacity="0.6"/><circle cx="216.0" cy="111.3" r="0.4" fill="#ccc" opacity="0.6"/><circle cx="219.9" cy="107.0" r="0.4" fill="#ccc" opacity="0.6"/><circle cx="224.2" cy="115.9" r="0.4" fill="#ccc" opacity="0.6"/><circle cx="225.7" cy="107.8" r="0.4" fill="#ccc" opacity="0.6"/><circle cx="219.7" cy="99.7" r="0.4" fill="#ccc" opacity="0.6"/><circle cx="218.3" cy="111.3" r="0.4" fill="#ccc" opacity="0.6"/><circle cx="222.8" cy="103.0" r="0.4" fill="#ccc" opacity="0.6"/><circle cx="223.5" cy="114.0" r="0.4" fill="#ccc" opacity="0.6"/><circle cx="223.9" cy="95.3" r="0.4" fill="#ccc" opacity="0.6"/><circle cx="219.3" cy="107.7" r="0.4" fill="#ccc" opacity="0.6"/><circle cx="213.8" cy="108.7" r="0.4" fill="#ccc" opacity="0.6"/><circle cx="219.4" cy="99.5" r="0.4" fill="#ccc" opacity="0.6"/><circle cx="223.8" cy="99.1" r="0.4" fill="#ccc" opacity="0.6"/><circle cx="213.1" cy="112.9" r="0.4" fill="#ccc" opacity="0.6"/><circle cx="225.6" cy="103.6" r="0.4" fill="#ccc" opacity="0.6"/><circle cx="233.4" cy="103.7" r="0.4" fill="#ccc" opacity="0.6"/><circle cx="219.5" cy="108.7" r="0.4" fill="#ccc" opacity="0.6"/><ellipse cx="207" cy="112.3" rx="7.6" ry="11.8" fill="#555" filter="url(#b1)"/><ellipse cx="207" cy="112.5" rx="5.6" ry="9.4" fill="#e0e0e0" filter="url(#b1)"/><ellipse cx="207" cy="113" rx="3.6" ry="6" fill="#cfcfcf" filter="url(#b1)"/><ellipse cx="207" cy="113.6" rx="1.2" ry="1.8" fill="#888" filter="url(#b05)"/><rect x="199.75" y="68.5" width="56.75" height="55.25" fill="none" stroke="#8a8a8a" stroke-width="0.8"/><path d="M215.25,68.5 L215.25,96.25 L256.5,96.25" fill="none" stroke="#aaa" stroke-width="0.5"/><text x="197.80" y="74.50" font-size="3.6" text-anchor="end" fill="#888">10⁵</text><text x="197.80" y="87.00" font-size="3.6" text-anchor="end" fill="#888">10⁴</text><text x="197.80" y="101.00" font-size="3.6" text-anchor="end" fill="#888">10³</text><text x="197.80" y="115.50" font-size="3.6" text-anchor="end" fill="#888">0</text><text x="206.25" y="128.80" font-size="3.6" text-anchor="middle" fill="#888">0</text><text x="211.25" y="128.80" font-size="3.6" text-anchor="middle" fill="#888">10³</text><text x="226.25" y="128.80" font-size="3.6" text-anchor="middle" fill="#888">10⁴</text><text x="238.75" y="128.80" font-size="3.6" text-anchor="middle" fill="#888">10⁵</text><text x="251.25" y="128.80" font-size="3.6" text-anchor="middle" fill="#888">10⁶</text><rect x="250.5" y="69.3" width="5.3" height="3.4" fill="#fff" stroke="#aaa" stroke-width="0.4"/><text x="253.20" y="72.00" font-size="2.6" text-anchor="middle" fill="#888">LSK</text><line x1="201" y1="124.1" x2="214" y2="124.1" stroke="#555" stroke-width="0.6" stroke-dasharray="0.6 0.6"/><linearGradient id="va187" gradientUnits="userSpaceOnUse" x1="0" y1="20.8" x2="0" y2="116.7"><stop offset="0" stop-color="#111"/><stop offset="0.3" stop-color="#666"/><stop offset="1" stop-color="#999"/></linearGradient><rect x="187.25" y="25.8" width="1.3" height="90.9" fill="url(#va187)"/><path d="M186.70000000000002,27.8 L187.9,20.8 L189.1,27.8 Z" fill="#111"/><text x="183.10" y="67.58" font-size="8" fill="#222" textLength="11.15" lengthAdjust="spacingAndGlyphs" transform="rotate(-90 183.10 67.58)">Kit</text><line x1="203.8" y1="132" x2="244.4" y2="132" stroke="#333" stroke-width="1.3"/><path d="M243.4,130.8 L250.4,132 L243.4,133.2 Z" fill="#111"/><text x="219.67" y="140.40" font-size="7" fill="#222" stroke="#222" stroke-width="0.15" textLength="16.69" lengthAdjust="spacingAndGlyphs">Sca1</text><path d="M318.5,24 Q320,18.3 329,18.5 Q338.5,18.8 340.8,27 Q342,33 340.5,38 Q341.5,43 338,46 Q334,48 331,45.5 Q327,48.5 323,46 Q318.5,43 319.5,38 Q317.5,31 318.5,24 Z" fill="#f0f0f0" stroke="#777" stroke-width="0.5"/><path d="M318.6,25 Q320,18.6 329,18.8 Q338.3,19 340.5,27 Q341.6,33 340.3,37.5 L319.3,37.5 Q317.8,31 318.6,25 Z" fill="#bdbdbd" stroke="#666" stroke-width="0.5"/><path d="M337.5,26.7 Q338.0,28.5 337.6,30.4 Q337.2,32.3 335.9,33.8 Q334.6,35.3 332.5,35.8 Q330.5,36.4 328.5,36.3 Q326.5,36.2 324.6,35.6 Q322.7,35.0 321.4,33.6 Q320.2,32.1 319.4,30.3 Q318.6,28.5 319.1,26.6 Q319.7,24.7 321.1,23.2 Q322.5,21.8 324.4,21.0 Q326.4,20.1 328.5,20.1 Q330.7,20.0 332.4,21.1 Q334.1,22.2 335.6,23.5 Q337.0,24.8 337.5,26.7 Z" fill="#a4a4a4" stroke="#555" stroke-width="0.45"/><path d="M333.0,26.5 Q333.2,28.0 333.1,29.6 Q333.0,31.1 332.0,32.4 Q331.0,33.7 329.6,34.5 Q328.2,35.3 326.6,34.8 Q325.0,34.4 323.7,33.8 Q322.3,33.2 321.5,32.0 Q320.6,30.8 320.2,29.4 Q319.8,28.0 319.9,26.4 Q319.9,24.8 321.2,23.9 Q322.4,22.9 323.7,22.0 Q324.9,21.1 326.5,21.3 Q328.0,21.5 329.3,22.1 Q330.7,22.7 331.7,23.9 Q332.7,25.0 333.0,26.5 Z" fill="#8c8c8c" stroke="#444" stroke-width="0.45"/><path d="M328.9,26.3 Q329.1,27.5 329.1,28.8 Q329.2,30.1 328.4,31.1 Q327.7,32.2 326.7,32.9 Q325.7,33.7 324.6,33.3 Q323.4,32.9 322.5,32.4 Q321.5,31.8 320.7,31.0 Q319.8,30.1 319.6,28.8 Q319.3,27.5 319.8,26.3 Q320.2,25.1 320.7,23.9 Q321.3,22.8 322.3,22.4 Q323.4,22.0 324.5,21.7 Q325.7,21.5 326.5,22.4 Q327.4,23.3 328.1,24.2 Q328.8,25.1 328.9,26.3 Z" fill="#6a6a6a" stroke="#333" stroke-width="0.45"/><path d="M319.5,33 Q318.8,22 325,19.8 Q329,19 332,20.5" fill="none" stroke="#333" stroke-width="2" filter="url(#b05)"/><ellipse cx="321.5" cy="27" rx="2.2" ry="4.6" fill="#222" filter="url(#b07)"/><ellipse cx="325.5" cy="30" rx="1.5" ry="2.5" fill="#bbb" opacity="0.8" filter="url(#b05)"/><ellipse cx="332.5" cy="26" rx="2.5" ry="3.5" fill="#bbb" opacity="0.7" filter="url(#b07)"/><path d="M321.5,40 Q325,37.8 329,40 Q333,37.8 337,40 Q339,43 335.5,44.5 Q331,46 329,43 Q326,46 322.5,44 Q320,42 321.5,40 Z" fill="none" stroke="#888" stroke-width="0.5"/><path d="M324,41 Q327,39.5 329,41.5 Q332,39.5 334.5,41 Q335,43 332,43.5 Q329,44 327,43 Q324.5,43.5 324,41 Z" fill="none" stroke="#999" stroke-width="0.45"/><path d="M328.5,55 Q327,50 330,49 Q333,49.5 332.5,52 Q331,53.5 332.5,55" fill="none" stroke="#777" stroke-width="0.5"/><path d="M321.5,57.6 Q324,55.5 327,56 Q330,54.8 333,56 Q336,55.5 338,57.6" fill="none" stroke="#666" stroke-width="0.6"/><rect x="306.75" y="1.25" width="57.75" height="56.85" fill="none" stroke="#8a8a8a" stroke-width="0.8"/><path d="M306.75,37.5 L364.5,37.5 M308.6,37.5 L308.6,58" fill="none" stroke="#aaa" stroke-width="0.7"/><text x="304.80" y="5.50" font-size="3.6" text-anchor="end" fill="#888">10⁵</text><text x="304.80" y="18.00" font-size="3.6" text-anchor="end" fill="#888">10⁴</text><text x="304.80" y="31.50" font-size="3.6" text-anchor="end" fill="#888">10³</text><text x="304.80" y="45.00" font-size="3.6" text-anchor="end" fill="#888">10²</text><text x="304.80" y="51.50" font-size="3.6" text-anchor="end" fill="#888">0</text><text x="307.00" y="63.20" font-size="3.6" text-anchor="middle" fill="#888">0</text><text x="318.20" y="63.20" font-size="3.6" text-anchor="middle" fill="#888">500</text><text x="329.40" y="63.20" font-size="3.6" text-anchor="middle" fill="#888">1000</text><text x="340.60" y="63.20" font-size="3.6" text-anchor="middle" fill="#888">1500</text><text x="351.80" y="63.20" font-size="3.6" text-anchor="middle" fill="#888">2000</text><text x="363.00" y="63.20" font-size="3.6" text-anchor="middle" fill="#888">2500</text><text x="359.50" y="56.70" font-size="3" text-anchor="middle" fill="#888">Lin-LSK</text><line x1="308" y1="58.6" x2="342" y2="58.6" stroke="#666" stroke-width="0.7" stroke-dasharray="0.6 0.6"/><path d="M318.5,93 Q320,85.3 330,85.5 Q341,86 343.2,94 Q344,100 342,104 Q341,108 337,108.5 Q333,111.5 329,110 Q324,111.5 321,108 Q317.5,104 318.2,99 Q317.6,96 318.5,93 Z" fill="#d4d4d4" stroke="#666" stroke-width="0.5"/><path d="M340.5,94.2 Q341.1,96.0 340.8,98.0 Q340.6,99.9 339.1,101.4 Q337.5,103.0 335.2,103.8 Q332.9,104.6 330.5,104.4 Q328.1,104.3 325.8,103.7 Q323.4,103.1 321.8,101.5 Q320.2,100.0 319.9,98.0 Q319.5,96.0 320.0,94.1 Q320.6,92.2 322.2,90.8 Q323.9,89.3 326.0,88.6 Q328.2,87.9 330.6,87.7 Q332.9,87.6 335.2,88.3 Q337.4,89.0 338.7,90.7 Q339.9,92.4 340.5,94.2 Z" fill="#b4b4b4" stroke="#555" stroke-width="0.45"/><path d="M339.1,94.8 Q339.6,96.5 338.6,98.0 Q337.7,99.6 336.5,100.8 Q335.2,102.0 333.7,103.1 Q332.1,104.3 330.1,103.9 Q328.1,103.5 326.4,102.8 Q324.7,102.1 323.2,100.9 Q321.7,99.8 321.5,98.2 Q321.2,96.5 321.3,94.8 Q321.4,93.1 323.0,92.0 Q324.6,90.9 326.2,89.8 Q327.9,88.7 329.9,89.0 Q332.0,89.4 333.8,90.0 Q335.7,90.6 337.1,91.8 Q338.6,93.0 339.1,94.8 Z" fill="#9a9a9a" stroke="#4a4a4a" stroke-width="0.45"/><path d="M335.8,95.7 Q336.6,97.0 336.2,98.4 Q335.9,99.9 334.8,101.0 Q333.8,102.2 332.3,102.4 Q330.7,102.6 329.2,102.9 Q327.8,103.1 326.4,102.5 Q325.1,101.8 324.1,100.7 Q323.1,99.7 323.0,98.4 Q322.9,97.0 323.2,95.7 Q323.5,94.4 324.3,93.3 Q325.1,92.2 326.5,91.7 Q327.9,91.2 329.3,91.1 Q330.8,91.0 332.0,91.8 Q333.2,92.5 334.1,93.5 Q335.0,94.5 335.8,95.7 Z" fill="#808080" stroke="#3a3a3a" stroke-width="0.45"/><path d="M333.4,96.1 Q333.6,97.2 333.4,98.3 Q333.2,99.5 332.3,100.2 Q331.5,100.9 330.7,101.7 Q329.9,102.5 328.9,102.1 Q327.8,101.8 326.8,101.5 Q325.9,101.2 325.4,100.2 Q324.9,99.2 324.5,98.2 Q324.0,97.2 324.4,96.2 Q324.9,95.2 325.4,94.2 Q325.8,93.2 326.8,92.7 Q327.7,92.2 328.8,92.1 Q329.9,92.1 330.8,92.7 Q331.6,93.3 332.4,94.1 Q333.2,94.9 333.4,96.1 Z" fill="#606060" stroke="#333" stroke-width="0.45"/><ellipse cx="328.2" cy="97.4" rx="1.7" ry="3" fill="#eee" filter="url(#b05)"/><path d="M322,104.5 Q326,102.5 330,105 Q334,103 338,105 Q338.5,108 334,108.5 Q330,109.5 327,107.5 Q323,108.5 322,104.5 Z" fill="none" stroke="#888" stroke-width="0.45"/><path d="M322,122 L322.5,115 Q324,110 327,112 L328,116 Q330,111 333,113.5 L333,122" fill="none" stroke="#888" stroke-width="0.5"/><path d="M321,122.6 Q324,120.3 327,121 Q330,120 333,122.6" fill="none" stroke="#666" stroke-width="0.6"/><rect x="306.75" y="67.4" width="58.75" height="55.60" fill="none" stroke="#8a8a8a" stroke-width="0.8"/><path d="M306.75,103.25 L365.5,103.25" fill="none" stroke="#aaa" stroke-width="0.7"/><text x="304.80" y="72.00" font-size="3.6" text-anchor="end" fill="#888">10⁵</text><text x="304.80" y="85.00" font-size="3.6" text-anchor="end" fill="#888">10⁴</text><text x="304.80" y="97.00" font-size="3.6" text-anchor="end" fill="#888">10³</text><text x="304.80" y="110.00" font-size="3.6" text-anchor="end" fill="#888">10²</text><text x="304.80" y="117.00" font-size="3.6" text-anchor="end" fill="#888">0</text><text x="307.00" y="128.00" font-size="3.6" text-anchor="middle" fill="#888">0</text><text x="318.30" y="128.00" font-size="3.6" text-anchor="middle" fill="#888">500</text><text x="329.60" y="128.00" font-size="3.6" text-anchor="middle" fill="#888">1000</text><text x="340.90" y="128.00" font-size="3.6" text-anchor="middle" fill="#888">1500</text><text x="352.20" y="128.00" font-size="3.6" text-anchor="middle" fill="#888">2000</text><text x="363.50" y="128.00" font-size="3.6" text-anchor="middle" fill="#888">2500</text><text x="360.00" y="122.00" font-size="3" text-anchor="middle" fill="#888">Lin-LSK</text><line x1="307" y1="123.8" x2="360" y2="123.8" stroke="#777" stroke-width="0.6" stroke-dasharray="0.6 0.6"/><rect x="295.45" y="25.8" width="1.1" height="90.9" fill="#333"/><path d="M294.8,27.8 L296,20.8 L297.2,27.8 Z" fill="#111"/><text x="293.00" y="71.88" font-size="7.2" fill="#222" textLength="19.10" lengthAdjust="spacingAndGlyphs" transform="rotate(-90 293.00 71.88)">CD34</text><line x1="311.7" y1="131.5" x2="351.9" y2="131.5" stroke="#333" stroke-width="1.3"/><path d="M350.9,130.3 L357.9,131.5 L350.9,132.7 Z" fill="#111"/><text x="325.38" y="139.60" font-size="7.3" fill="#222" stroke="#222" stroke-width="0.15" textLength="22.63" lengthAdjust="spacingAndGlyphs">FSC-A</text><text x="4.52" y="15.90" font-size="14" font-weight="bold" fill="#000" textLength="10.98" lengthAdjust="spacingAndGlyphs">A</text><text x="4.86" y="162.20" font-size="14.3" font-weight="bold" fill="#000" textLength="10.18" lengthAdjust="spacingAndGlyphs">B</text><text x="277.93" y="161.90" font-size="14.3" font-weight="bold" fill="#000" textLength="10.05" lengthAdjust="spacingAndGlyphs">C</text><text x="4.79" y="335.90" font-size="14.5" font-weight="bold" fill="#000" textLength="10.95" lengthAdjust="spacingAndGlyphs">D</text><text x="277.69" y="336.00" font-size="14.5" font-weight="bold" fill="#000" textLength="10.11" lengthAdjust="spacingAndGlyphs">E</text><text x="4.88" y="477.40" font-size="14.5" font-weight="bold" fill="#000" textLength="8.43" lengthAdjust="spacingAndGlyphs">F</text><text x="277.90" y="477.00" font-size="14.3" font-weight="bold" fill="#000" textLength="11.30" lengthAdjust="spacingAndGlyphs">G</text><text x="30.44" y="28.10" font-size="11" fill="#000" stroke="#000" stroke-width="0.2" textLength="37.37" lengthAdjust="spacingAndGlyphs">fl/fl:cre-</text><text x="30.84" y="98.80" font-size="10.8" fill="#000" stroke="#000" stroke-width="0.2" textLength="39.92" lengthAdjust="spacingAndGlyphs">fl/fl:cre+</text><line x1="43.30" y1="180.60" x2="43.30" y2="286.00" stroke="#000" stroke-width="1.3"/><line x1="42.70" y1="285.40" x2="197.50" y2="285.40" stroke="#000" stroke-width="1.3"/><line x1="40.70" y1="180.80" x2="43.30" y2="180.80" stroke="#000" stroke-width="1.2"/><line x1="40.70" y1="207.00" x2="43.30" y2="207.00" stroke="#000" stroke-width="1.2"/><line x1="40.70" y1="233.30" x2="43.30" y2="233.30" stroke="#000" stroke-width="1.2"/><line x1="40.70" y1="259.60" x2="43.30" y2="259.60" stroke="#000" stroke-width="1.2"/><line x1="40.70" y1="285.40" x2="43.30" y2="285.40" stroke="#000" stroke-width="1.2"/><text x="19.41" y="184.50" font-size="10.6" fill="#000" stroke="#000" stroke-width="0.3" textLength="19.59" lengthAdjust="spacingAndGlyphs">0.20</text><text x="19.41" y="210.70" font-size="10.6" fill="#000" stroke="#000" stroke-width="0.3" textLength="19.62" lengthAdjust="spacingAndGlyphs">0.15</text><text x="19.41" y="237.00" font-size="10.6" fill="#000" stroke="#000" stroke-width="0.3" textLength="19.59" lengthAdjust="spacingAndGlyphs">0.10</text><text x="19.41" y="263.30" font-size="10.6" fill="#000" stroke="#000" stroke-width="0.3" textLength="19.62" lengthAdjust="spacingAndGlyphs">0.05</text><text x="19.41" y="289.10" font-size="10.6" fill="#000" stroke="#000" stroke-width="0.3" textLength="19.59" lengthAdjust="spacingAndGlyphs">0.00</text><line x1="51.80" y1="211.20" x2="51.80" y2="191.50" stroke="#000" stroke-width="1.25"/><line x1="50.00" y1="192.10" x2="53.60" y2="192.10" stroke="#000" stroke-width="1.4"/><rect x="48.00" y="211.20" width="7.60" height="74.20" fill="#000"/><line x1="61.05" y1="259.40" x2="61.05" y2="251.70" stroke="#000" stroke-width="1.25"/><line x1="59.25" y1="252.30" x2="62.85" y2="252.30" stroke="#000" stroke-width="1.4"/><rect x="58.35" y="260.05" width="5.40" height="25.35" fill="#fff" stroke="#000" stroke-width="1.3"/><text x="61.05" y="251.40" font-size="9.5" font-weight="bold" text-anchor="middle" fill="#555">**</text><line x1="76.95" y1="273.50" x2="76.95" y2="270.60" stroke="#000" stroke-width="1.25"/><line x1="75.15" y1="271.20" x2="78.75" y2="271.20" stroke="#000" stroke-width="1.4"/><rect x="73.50" y="273.50" width="6.90" height="11.90" fill="#000"/><line x1="86.50" y1="279.60" x2="86.50" y2="277.00" stroke="#000" stroke-width="1.25"/><line x1="84.70" y1="277.60" x2="88.30" y2="277.60" stroke="#000" stroke-width="1.4"/><rect x="83.65" y="280.25" width="5.70" height="5.15" fill="#fff" stroke="#000" stroke-width="1.3"/><text x="86.50" y="273.40" font-size="9.5" font-weight="bold" text-anchor="middle" fill="#555">*</text><line x1="102.85" y1="221.20" x2="102.85" y2="195.60" stroke="#000" stroke-width="1.25"/><line x1="101.05" y1="196.20" x2="104.65" y2="196.20" stroke="#000" stroke-width="1.4"/><rect x="99.40" y="221.20" width="6.90" height="64.20" fill="#000"/><line x1="112.40" y1="276.20" x2="112.40" y2="268.50" stroke="#000" stroke-width="1.25"/><line x1="110.60" y1="269.10" x2="114.20" y2="269.10" stroke="#000" stroke-width="1.4"/><rect x="109.85" y="276.85" width="5.10" height="8.55" fill="#fff" stroke="#000" stroke-width="1.3"/><text x="112.40" y="267.10" font-size="9.5" font-weight="bold" text-anchor="middle" fill="#555">*</text><line x1="128.55" y1="276.20" x2="128.55" y2="274.60" stroke="#000" stroke-width="1.25"/><line x1="126.75" y1="275.20" x2="130.35" y2="275.20" stroke="#000" stroke-width="1.4"/><rect x="125.20" y="276.20" width="6.70" height="9.20" fill="#000"/><line x1="138.05" y1="282.30" x2="138.05" y2="279.60" stroke="#000" stroke-width="1.25"/><line x1="136.25" y1="280.20" x2="139.85" y2="280.20" stroke="#000" stroke-width="1.4"/><rect x="135.25" y="282.95" width="5.60" height="2.45" fill="#fff" stroke="#000" stroke-width="1.3"/><text x="138.05" y="279.20" font-size="9.5" font-weight="bold" text-anchor="middle" fill="#555">*</text><line x1="153.85" y1="211.30" x2="153.85" y2="193.30" stroke="#000" stroke-width="1.25"/><line x1="152.05" y1="193.90" x2="155.65" y2="193.90" stroke="#000" stroke-width="1.4"/><rect x="150.20" y="211.30" width="7.30" height="74.10" fill="#000"/><line x1="163.15" y1="273.30" x2="163.15" y2="263.00" stroke="#000" stroke-width="1.25"/><line x1="161.35" y1="263.60" x2="164.95" y2="263.60" stroke="#000" stroke-width="1.4"/><rect x="160.45" y="273.95" width="5.40" height="11.45" fill="#fff" stroke="#000" stroke-width="1.3"/><text x="163.15" y="261.70" font-size="9.5" font-weight="bold" text-anchor="middle" fill="#555">**</text><line x1="179.10" y1="277.10" x2="179.10" y2="274.20" stroke="#000" stroke-width="1.25"/><line x1="177.30" y1="274.80" x2="180.90" y2="274.80" stroke="#000" stroke-width="1.4"/><rect x="175.50" y="277.10" width="7.20" height="8.30" fill="#000"/><line x1="188.60" y1="283.30" x2="188.60" y2="282.20" stroke="#000" stroke-width="1.25"/><line x1="186.80" y1="282.80" x2="190.40" y2="282.80" stroke="#000" stroke-width="1.4"/><rect x="185.85" y="283.95" width="5.50" height="1.45" fill="#fff" stroke="#000" stroke-width="1.3"/><text x="188.60" y="279.60" font-size="9.5" font-weight="bold" text-anchor="middle" fill="#555">*</text><text x="48.04" y="299.80" font-size="8.8" fill="#000" stroke="#000" stroke-width="0.5" textLength="16.25" lengthAdjust="spacing">LSK</text><text x="71.69" y="299.80" font-size="8.8" fill="#000" stroke="#000" stroke-width="0.5" textLength="8.94" lengthAdjust="spacing">34</text><rect x="81.00" y="293.20" width="1.30" height="0.80" fill="#444"/><text x="82.05" y="299.80" font-size="8.8" fill="#000" stroke="#000" stroke-width="0.5" textLength="17.25" lengthAdjust="spacing">LSK</text><line x1="48.75" y1="301.80" x2="91.80" y2="301.80" stroke="#000" stroke-width="1.2"/><text x="53.48" y="312.60" font-size="10.2" font-weight="bold" fill="#000" stroke="#000" stroke-width="0.1" textLength="32.31" lengthAdjust="spacingAndGlyphs">1 week</text><text x="102.08" y="299.80" font-size="8.8" fill="#000" stroke="#000" stroke-width="0.5" textLength="16.62" lengthAdjust="spacing">LSK</text><text x="121.59" y="299.80" font-size="8.8" fill="#000" stroke="#000" stroke-width="0.5" textLength="8.94" lengthAdjust="spacing">34</text><rect x="130.90" y="293.20" width="1.30" height="0.80" fill="#444"/><text x="132.66" y="299.80" font-size="8.8" fill="#000" stroke="#000" stroke-width="0.5" textLength="16.94" lengthAdjust="spacing">LSK</text><line x1="100.40" y1="301.80" x2="143.50" y2="301.80" stroke="#000" stroke-width="1.2"/><text x="102.95" y="312.60" font-size="10.2" font-weight="bold" fill="#000" stroke="#000" stroke-width="0.1" textLength="38.25" lengthAdjust="spacingAndGlyphs">2 weeks</text><text x="152.06" y="299.80" font-size="8.8" fill="#000" stroke="#000" stroke-width="0.5" textLength="17.04" lengthAdjust="spacing">LSK</text><text x="171.59" y="299.80" font-size="8.8" fill="#000" stroke="#000" stroke-width="0.5" textLength="8.94" lengthAdjust="spacing">34</text><rect x="180.90" y="293.20" width="1.30" height="0.80" fill="#444"/><text x="182.65" y="299.80" font-size="8.8" fill="#000" stroke="#000" stroke-width="0.5" textLength="17.36" lengthAdjust="spacing">LSK</text><line x1="151.70" y1="301.80" x2="194.10" y2="301.80" stroke="#000" stroke-width="1.2"/><text x="158.05" y="312.60" font-size="10.2" font-weight="bold" fill="#000" stroke="#000" stroke-width="0.1" textLength="37.85" lengthAdjust="spacingAndGlyphs">4 weeks</text><rect x="168.10" y="171.20" width="11.50" height="8.70" fill="#000"/><rect x="168.75" y="186.15" width="10.20" height="7.60" fill="#fff" stroke="#000" stroke-width="1.3"/><text x="185.45" y="179.70" font-size="10" fill="#000" stroke="#000" stroke-width="0.3" textLength="37.52" lengthAdjust="spacingAndGlyphs">fl/fl: cre-</text><text x="185.44" y="192.80" font-size="10" fill="#000" stroke="#000" stroke-width="0.3" textLength="42.41" lengthAdjust="spacingAndGlyphs">fl/fl: cre+</text><text x="14.60" y="236.10" font-size="13" font-weight="bold" fill="#000" textLength="10.61" lengthAdjust="spacingAndGlyphs" transform="rotate(-90 14.60 236.10)">%</text><line x1="344.50" y1="180.60" x2="344.50" y2="286.00" stroke="#000" stroke-width="1.3"/><line x1="343.90" y1="285.40" x2="498.20" y2="285.40" stroke="#000" stroke-width="1.3"/><line x1="342.30" y1="180.80" x2="344.50" y2="180.80" stroke="#000" stroke-width="1.2"/><line x1="342.30" y1="201.72" x2="344.50" y2="201.72" stroke="#000" stroke-width="1.2"/><line x1="342.30" y1="222.64" x2="344.50" y2="222.64" stroke="#000" stroke-width="1.2"/><line x1="342.30" y1="243.56" x2="344.50" y2="243.56" stroke="#000" stroke-width="1.2"/><line x1="342.30" y1="264.48" x2="344.50" y2="264.48" stroke="#000" stroke-width="1.2"/><line x1="342.30" y1="285.40" x2="344.50" y2="285.40" stroke="#000" stroke-width="1.2"/><text x="324.28" y="184.36" font-size="10.2" fill="#000" stroke="#000" stroke-width="0.3" textLength="15.68" lengthAdjust="spacingAndGlyphs">100</text><text x="329.18" y="205.28" font-size="10.2" fill="#000" stroke="#000" stroke-width="0.3" textLength="10.80" lengthAdjust="spacingAndGlyphs">80</text><text x="329.10" y="226.20" font-size="10.2" fill="#000" stroke="#000" stroke-width="0.3" textLength="10.88" lengthAdjust="spacingAndGlyphs">60</text><text x="329.38" y="247.12" font-size="10.2" fill="#000" stroke="#000" stroke-width="0.3" textLength="10.59" lengthAdjust="spacingAndGlyphs">40</text><text x="329.11" y="268.04" font-size="10.2" fill="#000" stroke="#000" stroke-width="0.3" textLength="10.87" lengthAdjust="spacingAndGlyphs">20</text><text x="334.41" y="288.96" font-size="10.2" fill="#000" stroke="#000" stroke-width="0.3" textLength="5.58" lengthAdjust="spacingAndGlyphs">0</text><line x1="352.75" y1="207.90" x2="352.75" y2="188.00" stroke="#000" stroke-width="1.25"/><line x1="350.95" y1="188.60" x2="354.55" y2="188.60" stroke="#000" stroke-width="1.4"/><rect x="349.20" y="207.90" width="7.10" height="77.50" fill="#000"/><line x1="361.95" y1="271.30" x2="361.95" y2="264.20" stroke="#000" stroke-width="1.25"/><line x1="360.15" y1="264.80" x2="363.75" y2="264.80" stroke="#000" stroke-width="1.4"/><rect x="358.95" y="271.95" width="6.00" height="13.45" fill="#fff" stroke="#000" stroke-width="1.3"/><text x="361.95" y="263.80" font-size="9.5" font-weight="bold" text-anchor="middle" fill="#555">**</text><line x1="378.25" y1="272.90" x2="378.25" y2="269.40" stroke="#000" stroke-width="1.25"/><line x1="376.45" y1="270.00" x2="380.05" y2="270.00" stroke="#000" stroke-width="1.4"/><rect x="374.60" y="272.90" width="7.30" height="12.50" fill="#000"/><line x1="388.05" y1="281.50" x2="388.05" y2="279.60" stroke="#000" stroke-width="1.25"/><line x1="386.25" y1="280.20" x2="389.85" y2="280.20" stroke="#000" stroke-width="1.4"/><rect x="385.25" y="282.15" width="5.60" height="3.25" fill="#fff" stroke="#000" stroke-width="1.3"/><text x="388.05" y="279.20" font-size="9.5" font-weight="bold" text-anchor="middle" fill="#555">**</text><line x1="403.95" y1="219.00" x2="403.95" y2="192.50" stroke="#000" stroke-width="1.25"/><line x1="402.15" y1="193.10" x2="405.75" y2="193.10" stroke="#000" stroke-width="1.4"/><rect x="400.20" y="219.00" width="7.50" height="66.40" fill="#000"/><line x1="413.35" y1="283.50" x2="413.35" y2="281.00" stroke="#000" stroke-width="1.25"/><line x1="411.55" y1="281.60" x2="415.15" y2="281.60" stroke="#000" stroke-width="1.4"/><rect x="410.45" y="284.15" width="5.80" height="1.25" fill="#fff" stroke="#000" stroke-width="1.3"/><text x="413.35" y="277.70" font-size="9.5" font-weight="bold" text-anchor="middle" fill="#555">*</text><line x1="429.50" y1="276.60" x2="429.50" y2="275.00" stroke="#000" stroke-width="1.25"/><line x1="427.70" y1="275.60" x2="431.30" y2="275.60" stroke="#000" stroke-width="1.4"/><rect x="426.00" y="276.60" width="7.00" height="8.80" fill="#000"/><line x1="439.10" y1="284.20" x2="439.10" y2="283.50" stroke="#000" stroke-width="1.25"/><line x1="437.30" y1="284.10" x2="440.90" y2="284.10" stroke="#000" stroke-width="1.4"/><rect x="436.55" y="284.85" width="5.10" height="0.55" fill="#fff" stroke="#000" stroke-width="1.3"/><text x="439.10" y="280.40" font-size="9.5" font-weight="bold" text-anchor="middle" fill="#555">*</text><line x1="454.50" y1="219.60" x2="454.50" y2="206.50" stroke="#000" stroke-width="1.25"/><line x1="452.70" y1="207.10" x2="456.30" y2="207.10" stroke="#000" stroke-width="1.4"/><rect x="450.60" y="219.60" width="7.80" height="65.80" fill="#000"/><line x1="464.05" y1="276.70" x2="464.05" y2="267.00" stroke="#000" stroke-width="1.25"/><line x1="462.25" y1="267.60" x2="465.85" y2="267.60" stroke="#000" stroke-width="1.4"/><rect x="461.35" y="277.35" width="5.40" height="8.05" fill="#fff" stroke="#000" stroke-width="1.3"/><text x="464.05" y="265.80" font-size="9.5" font-weight="bold" text-anchor="middle" fill="#555">***</text><line x1="480.55" y1="278.10" x2="480.55" y2="275.30" stroke="#000" stroke-width="1.25"/><line x1="478.75" y1="275.90" x2="482.35" y2="275.90" stroke="#000" stroke-width="1.4"/><rect x="477.10" y="278.10" width="6.90" height="7.30" fill="#000"/><line x1="490.35" y1="283.10" x2="490.35" y2="281.50" stroke="#000" stroke-width="1.25"/><line x1="488.55" y1="282.10" x2="492.15" y2="282.10" stroke="#000" stroke-width="1.4"/><rect x="487.55" y="283.75" width="5.60" height="1.65" fill="#fff" stroke="#000" stroke-width="1.3"/><text x="490.35" y="279.20" font-size="9.5" font-weight="bold" text-anchor="middle" fill="#555">*</text><text x="348.48" y="299.80" font-size="8.8" fill="#000" stroke="#000" stroke-width="0.5" textLength="16.51" lengthAdjust="spacing">LSK</text><text x="372.68" y="299.80" font-size="8.8" fill="#000" stroke="#000" stroke-width="0.5" textLength="9.26" lengthAdjust="spacing">34</text><rect x="382.30" y="293.20" width="1.30" height="0.80" fill="#444"/><text x="383.66" y="299.80" font-size="8.8" fill="#000" stroke="#000" stroke-width="0.5" textLength="17.04" lengthAdjust="spacing">LSK</text><line x1="349.70" y1="301.80" x2="392.80" y2="301.80" stroke="#000" stroke-width="1.2"/><text x="355.30" y="312.60" font-size="10.2" font-weight="bold" fill="#000" stroke="#000" stroke-width="0.1" textLength="31.50" lengthAdjust="spacingAndGlyphs">1 week</text><text x="403.48" y="299.80" font-size="8.8" fill="#000" stroke="#000" stroke-width="0.5" textLength="16.51" lengthAdjust="spacing">LSK</text><text x="423.20" y="299.80" font-size="8.8" fill="#000" stroke="#000" stroke-width="0.5" textLength="8.62" lengthAdjust="spacing">34</text><rect x="432.20" y="293.20" width="1.30" height="0.80" fill="#444"/><text x="433.98" y="299.80" font-size="8.8" fill="#000" stroke="#000" stroke-width="0.5" textLength="16.62" lengthAdjust="spacing">LSK</text><line x1="402.00" y1="301.80" x2="444.80" y2="301.80" stroke="#000" stroke-width="1.2"/><text x="404.76" y="312.60" font-size="10.2" font-weight="bold" fill="#000" stroke="#000" stroke-width="0.1" textLength="38.05" lengthAdjust="spacingAndGlyphs">2 weeks</text><text x="452.96" y="299.80" font-size="8.8" fill="#000" stroke="#000" stroke-width="0.5" textLength="17.04" lengthAdjust="spacing">LSK</text><text x="473.19" y="299.80" font-size="8.8" fill="#000" stroke="#000" stroke-width="0.5" textLength="9.05" lengthAdjust="spacing">34</text><rect x="482.60" y="293.20" width="1.30" height="0.80" fill="#444"/><text x="483.98" y="299.80" font-size="8.8" fill="#000" stroke="#000" stroke-width="0.5" textLength="16.62" lengthAdjust="spacing">LSK</text><line x1="452.40" y1="301.80" x2="495.10" y2="301.80" stroke="#000" stroke-width="1.2"/><text x="458.95" y="312.60" font-size="10.2" font-weight="bold" fill="#000" stroke="#000" stroke-width="0.1" textLength="38.26" lengthAdjust="spacingAndGlyphs">4 weeks</text><rect x="453.50" y="169.40" width="12.00" height="8.30" fill="#000"/><rect x="454.15" y="183.55" width="10.70" height="7.60" fill="#fff" stroke="#000" stroke-width="1.3"/><text x="470.44" y="177.30" font-size="10" fill="#000" stroke="#000" stroke-width="0.3" textLength="38.94" lengthAdjust="spacingAndGlyphs">fl/fl: cre-</text><text x="470.44" y="190.50" font-size="10" fill="#000" stroke="#000" stroke-width="0.3" textLength="42.20" lengthAdjust="spacingAndGlyphs">fl/fl: cre+</text><text x="321.20" y="295.55" font-size="12.7" fill="#000" stroke="#000" stroke-width="0.3" textLength="121.16" lengthAdjust="spacingAndGlyphs" transform="rotate(-90 321.20 295.55)">absolute number x10</text><text x="315.50" y="174.65" font-size="8.2" fill="#000" stroke="#000" stroke-width="0.2" textLength="6.57" lengthAdjust="spacingAndGlyphs" transform="rotate(-90 315.50 174.65)">3</text><line x1="77.30" y1="350.20" x2="77.30" y2="449.90" stroke="#000" stroke-width="1.3"/><line x1="76.70" y1="449.30" x2="189.60" y2="449.30" stroke="#000" stroke-width="1.3"/><line x1="74.70" y1="350.40" x2="77.30" y2="350.40" stroke="#000" stroke-width="1.2"/><line x1="74.70" y1="375.10" x2="77.30" y2="375.10" stroke="#000" stroke-width="1.2"/><line x1="74.70" y1="399.90" x2="77.30" y2="399.90" stroke="#000" stroke-width="1.2"/><line x1="74.70" y1="424.60" x2="77.30" y2="424.60" stroke="#000" stroke-width="1.2"/><line x1="74.70" y1="449.30" x2="77.30" y2="449.30" stroke="#000" stroke-width="1.2"/><line x1="95.60" y1="449.30" x2="95.60" y2="452.10" stroke="#000" stroke-width="1.1"/><line x1="133.10" y1="449.30" x2="133.10" y2="452.10" stroke="#000" stroke-width="1.1"/><line x1="170.60" y1="449.30" x2="170.60" y2="452.10" stroke="#000" stroke-width="1.1"/><text x="54.42" y="353.86" font-size="9.9" font-weight="bold" fill="#000" textLength="18.63" lengthAdjust="spacingAndGlyphs">0.04</text><text x="54.42" y="378.56" font-size="9.9" font-weight="bold" fill="#000" textLength="18.94" lengthAdjust="spacingAndGlyphs">0.03</text><text x="54.41" y="403.36" font-size="9.9" font-weight="bold" fill="#000" textLength="18.98" lengthAdjust="spacingAndGlyphs">0.02</text><text x="54.42" y="428.06" font-size="9.9" font-weight="bold" fill="#000" textLength="18.85" lengthAdjust="spacingAndGlyphs">0.01</text><text x="54.41" y="452.76" font-size="9.9" font-weight="bold" fill="#000" textLength="18.99" lengthAdjust="spacingAndGlyphs">0.00</text><line x1="89.00" y1="403.50" x2="89.00" y2="397.40" stroke="#000" stroke-width="1.25"/><line x1="86.20" y1="398.00" x2="91.80" y2="398.00" stroke="#000" stroke-width="1.4"/><rect x="83.70" y="403.50" width="10.60" height="45.80" fill="#000"/><line x1="102.50" y1="431.80" x2="102.50" y2="427.00" stroke="#000" stroke-width="1.25"/><line x1="99.70" y1="427.60" x2="105.30" y2="427.60" stroke="#000" stroke-width="1.4"/><rect x="98.15" y="432.45" width="8.70" height="16.85" fill="#fff" stroke="#000" stroke-width="1.3"/><line x1="126.30" y1="394.30" x2="126.30" y2="376.00" stroke="#000" stroke-width="1.25"/><line x1="123.50" y1="376.60" x2="129.10" y2="376.60" stroke="#000" stroke-width="1.4"/><rect x="121.30" y="394.30" width="10.00" height="55.00" fill="#000"/><line x1="140.00" y1="434.50" x2="140.00" y2="433.30" stroke="#000" stroke-width="1.25"/><line x1="137.20" y1="433.90" x2="142.80" y2="433.90" stroke="#000" stroke-width="1.4"/><rect x="135.65" y="435.15" width="8.70" height="14.15" fill="#fff" stroke="#000" stroke-width="1.3"/><line x1="163.80" y1="413.30" x2="163.80" y2="400.50" stroke="#000" stroke-width="1.25"/><line x1="161.00" y1="401.10" x2="166.60" y2="401.10" stroke="#000" stroke-width="1.4"/><rect x="158.80" y="413.30" width="10.00" height="36.00" fill="#000"/><line x1="177.50" y1="403.80" x2="177.50" y2="392.50" stroke="#000" stroke-width="1.25"/><line x1="174.70" y1="393.10" x2="180.30" y2="393.10" stroke="#000" stroke-width="1.4"/><rect x="173.15" y="404.45" width="8.70" height="44.85" fill="#fff" stroke="#000" stroke-width="1.3"/><text x="102.50" y="425.70" font-size="9.5" font-weight="bold" text-anchor="middle" fill="#555">*</text><text x="84.41" y="461.80" font-size="9.6" font-weight="bold" fill="#000" textLength="30.58" lengthAdjust="spacingAndGlyphs">1 week</text><text x="121.68" y="461.80" font-size="9.6" font-weight="bold" fill="#000" textLength="34.99" lengthAdjust="spacingAndGlyphs">2 weeks</text><text x="156.65" y="461.80" font-size="9.6" font-weight="bold" fill="#000" textLength="38.77" lengthAdjust="spacingAndGlyphs">4 weeks</text><rect x="160.60" y="343.60" width="11.40" height="9.20" fill="#000"/><rect x="161.25" y="356.25" width="10.10" height="7.90" fill="#fff" stroke="#000" stroke-width="1.3"/><text x="177.95" y="352.50" font-size="10" fill="#000" stroke="#000" stroke-width="0.3" textLength="34.42" lengthAdjust="spacingAndGlyphs">fl/fl:cre-</text><text x="177.95" y="363.20" font-size="10" fill="#000" stroke="#000" stroke-width="0.3" textLength="37.98" lengthAdjust="spacingAndGlyphs">fl/fl:cre+</text><text x="34.90" y="454.02" font-size="12" font-weight="bold" fill="#000" textLength="110.59" lengthAdjust="spacingAndGlyphs" transform="rotate(-90 34.90 454.02)">LSK cell frequency</text><text x="48.70" y="435.94" font-size="12" font-weight="bold" fill="#000" textLength="74.44" lengthAdjust="spacingAndGlyphs" transform="rotate(-90 48.70 435.94)">in spleen (%)</text><line x1="370.00" y1="357.30" x2="370.00" y2="452.20" stroke="#000" stroke-width="1.3"/><line x1="369.40" y1="451.60" x2="476.80" y2="451.60" stroke="#000" stroke-width="1.3"/><line x1="367.40" y1="357.50" x2="370.00" y2="357.50" stroke="#000" stroke-width="1.2"/><line x1="367.40" y1="381.00" x2="370.00" y2="381.00" stroke="#000" stroke-width="1.2"/><line x1="367.40" y1="404.60" x2="370.00" y2="404.60" stroke="#000" stroke-width="1.2"/><line x1="367.40" y1="428.10" x2="370.00" y2="428.10" stroke="#000" stroke-width="1.2"/><line x1="367.40" y1="451.60" x2="370.00" y2="451.60" stroke="#000" stroke-width="1.2"/><line x1="387.60" y1="451.60" x2="387.60" y2="454.40" stroke="#000" stroke-width="1.1"/><line x1="422.90" y1="451.60" x2="422.90" y2="454.40" stroke="#000" stroke-width="1.1"/><line x1="458.70" y1="451.60" x2="458.70" y2="454.40" stroke="#000" stroke-width="1.1"/><text x="352.53" y="361.27" font-size="10.8" fill="#000" stroke="#000" stroke-width="0.3" textLength="14.10" lengthAdjust="spacingAndGlyphs">12</text><text x="359.61" y="384.77" font-size="10.8" fill="#000" stroke="#000" stroke-width="0.3" textLength="6.98" lengthAdjust="spacingAndGlyphs">9</text><text x="359.56" y="408.37" font-size="10.8" fill="#000" stroke="#000" stroke-width="0.3" textLength="6.99" lengthAdjust="spacingAndGlyphs">6</text><text x="359.95" y="431.87" font-size="10.8" fill="#000" stroke="#000" stroke-width="0.3" textLength="6.57" lengthAdjust="spacingAndGlyphs">3</text><text x="359.94" y="455.37" font-size="10.8" fill="#000" stroke="#000" stroke-width="0.3" textLength="6.52" lengthAdjust="spacingAndGlyphs">0</text><line x1="381.20" y1="391.90" x2="381.20" y2="359.70" stroke="#000" stroke-width="1.25"/><line x1="378.50" y1="360.30" x2="383.90" y2="360.30" stroke="#000" stroke-width="1.4"/><rect x="376.40" y="391.90" width="9.60" height="59.70" fill="#000"/><line x1="394.15" y1="401.30" x2="394.15" y2="389.50" stroke="#000" stroke-width="1.25"/><line x1="391.45" y1="390.10" x2="396.85" y2="390.10" stroke="#000" stroke-width="1.4"/><rect x="390.15" y="401.95" width="8.00" height="49.65" fill="#fff" stroke="#000" stroke-width="1.3"/><line x1="416.45" y1="412.70" x2="416.45" y2="397.80" stroke="#000" stroke-width="1.25"/><line x1="413.75" y1="398.40" x2="419.15" y2="398.40" stroke="#000" stroke-width="1.4"/><rect x="411.60" y="412.70" width="9.70" height="38.90" fill="#000"/><line x1="429.45" y1="400.60" x2="429.45" y2="388.50" stroke="#000" stroke-width="1.25"/><line x1="426.75" y1="389.10" x2="432.15" y2="389.10" stroke="#000" stroke-width="1.4"/><rect x="425.45" y="401.25" width="8.00" height="50.35" fill="#fff" stroke="#000" stroke-width="1.3"/><line x1="451.95" y1="425.80" x2="451.95" y2="414.40" stroke="#000" stroke-width="1.25"/><line x1="449.25" y1="415.00" x2="454.65" y2="415.00" stroke="#000" stroke-width="1.4"/><rect x="447.30" y="425.80" width="9.30" height="25.80" fill="#000"/><line x1="464.95" y1="419.60" x2="464.95" y2="405.80" stroke="#000" stroke-width="1.25"/><line x1="462.25" y1="406.40" x2="467.65" y2="406.40" stroke="#000" stroke-width="1.4"/><rect x="460.75" y="420.25" width="8.40" height="31.35" fill="#fff" stroke="#000" stroke-width="1.3"/><text x="376.84" y="462.90" font-size="9.6" font-weight="bold" fill="#000" textLength="28.95" lengthAdjust="spacingAndGlyphs">1 week</text><text x="412.40" y="462.90" font-size="9.6" font-weight="bold" fill="#000" textLength="33.56" lengthAdjust="spacingAndGlyphs">2 weeks</text><text x="445.86" y="462.90" font-size="9.6" font-weight="bold" fill="#000" textLength="36.43" lengthAdjust="spacingAndGlyphs">4 weeks</text><rect x="449.40" y="352.90" width="10.40" height="8.60" fill="#000"/><rect x="450.05" y="364.85" width="9.10" height="7.10" fill="#fff" stroke="#000" stroke-width="1.3"/><text x="465.66" y="360.90" font-size="9.6" fill="#000" stroke="#000" stroke-width="0.3" textLength="33.40" lengthAdjust="spacingAndGlyphs">fl/fl:cre-</text><text x="465.66" y="371.10" font-size="9.6" fill="#000" stroke="#000" stroke-width="0.3" textLength="35.23" lengthAdjust="spacingAndGlyphs">fl/fl:cre+</text><text x="328.20" y="461.85" font-size="11.9" fill="#000" stroke="#000" stroke-width="0.3" textLength="119.98" lengthAdjust="spacingAndGlyphs" transform="rotate(-90 328.20 461.85)">LSK cell frequency in</text><text x="343.30" y="472.39" font-size="11.9" fill="#000" stroke="#000" stroke-width="0.3" textLength="133.17" lengthAdjust="spacingAndGlyphs" transform="rotate(-90 343.30 472.39)">peripheral blood (%) x10</text><text x="338.70" y="338.35" font-size="8.4" fill="#000" stroke="#000" stroke-width="0.3" textLength="6.57" lengthAdjust="spacingAndGlyphs" transform="rotate(-90 338.70 338.35)">3</text><rect x="335.40" y="338.60" width="0.90" height="1.50" fill="#333"/><line x1="52.90" y1="497.30" x2="52.90" y2="584.00" stroke="#000" stroke-width="1.3"/><line x1="52.30" y1="583.40" x2="194.60" y2="583.40" stroke="#000" stroke-width="1.3"/><line x1="50.30" y1="497.50" x2="52.90" y2="497.50" stroke="#000" stroke-width="1.2"/><line x1="50.30" y1="514.80" x2="52.90" y2="514.80" stroke="#000" stroke-width="1.2"/><line x1="50.30" y1="531.90" x2="52.90" y2="531.90" stroke="#000" stroke-width="1.2"/><line x1="50.30" y1="549.20" x2="52.90" y2="549.20" stroke="#000" stroke-width="1.2"/><line x1="50.30" y1="566.30" x2="52.90" y2="566.30" stroke="#000" stroke-width="1.2"/><line x1="50.30" y1="583.40" x2="52.90" y2="583.40" stroke="#000" stroke-width="1.2"/><line x1="70.50" y1="583.40" x2="70.50" y2="586.20" stroke="#000" stroke-width="1.1"/><line x1="105.70" y1="583.40" x2="105.70" y2="586.20" stroke="#000" stroke-width="1.1"/><line x1="141.20" y1="583.40" x2="141.20" y2="586.20" stroke="#000" stroke-width="1.1"/><line x1="176.60" y1="583.40" x2="176.60" y2="586.20" stroke="#000" stroke-width="1.1"/><text x="29.62" y="500.89" font-size="9.7" font-weight="bold" fill="#000" textLength="18.85" lengthAdjust="spacingAndGlyphs">0.25</text><text x="29.61" y="518.19" font-size="9.7" font-weight="bold" fill="#000" textLength="18.99" lengthAdjust="spacingAndGlyphs">0.20</text><text x="29.62" y="535.29" font-size="9.7" font-weight="bold" fill="#000" textLength="18.85" lengthAdjust="spacingAndGlyphs">0.15</text><text x="29.61" y="552.59" font-size="9.7" font-weight="bold" fill="#000" textLength="18.99" lengthAdjust="spacingAndGlyphs">0.10</text><text x="29.62" y="569.69" font-size="9.7" font-weight="bold" fill="#000" textLength="18.85" lengthAdjust="spacingAndGlyphs">0.05</text><text x="29.61" y="586.79" font-size="9.7" font-weight="bold" fill="#000" textLength="18.99" lengthAdjust="spacingAndGlyphs">0.00</text><line x1="63.85" y1="573.60" x2="63.85" y2="569.60" stroke="#000" stroke-width="1.25"/><line x1="61.35" y1="570.20" x2="66.35" y2="570.20" stroke="#000" stroke-width="1.4"/><rect x="58.90" y="573.60" width="9.90" height="9.80" fill="#000"/><line x1="77.15" y1="566.30" x2="77.15" y2="562.60" stroke="#000" stroke-width="1.25"/><line x1="74.65" y1="563.20" x2="79.65" y2="563.20" stroke="#000" stroke-width="1.4"/><rect x="73.25" y="566.95" width="7.80" height="16.45" fill="#fff" stroke="#000" stroke-width="1.3"/><text x="77.15" y="562.10" font-size="9.5" font-weight="bold" text-anchor="middle" fill="#555">*</text><line x1="99.25" y1="544.50" x2="99.25" y2="538.00" stroke="#000" stroke-width="1.25"/><line x1="96.75" y1="538.60" x2="101.75" y2="538.60" stroke="#000" stroke-width="1.4"/><rect x="94.10" y="544.50" width="10.30" height="38.90" fill="#000"/><line x1="112.35" y1="579.60" x2="112.35" y2="578.30" stroke="#000" stroke-width="1.25"/><line x1="109.85" y1="578.90" x2="114.85" y2="578.90" stroke="#000" stroke-width="1.4"/><rect x="108.05" y="580.25" width="8.60" height="3.15" fill="#fff" stroke="#000" stroke-width="1.3"/><text x="112.35" y="578.10" font-size="9.5" font-weight="bold" text-anchor="middle" fill="#555">***</text><line x1="134.55" y1="514.50" x2="134.55" y2="506.90" stroke="#000" stroke-width="1.25"/><line x1="132.05" y1="507.50" x2="137.05" y2="507.50" stroke="#000" stroke-width="1.4"/><rect x="129.40" y="514.50" width="10.30" height="68.90" fill="#000"/><line x1="147.90" y1="560.00" x2="147.90" y2="543.30" stroke="#000" stroke-width="1.25"/><line x1="145.40" y1="543.90" x2="150.40" y2="543.90" stroke="#000" stroke-width="1.4"/><rect x="143.55" y="560.65" width="8.70" height="22.75" fill="#fff" stroke="#000" stroke-width="1.3"/><text x="147.90" y="541.80" font-size="9.5" font-weight="bold" text-anchor="middle" fill="#555">**</text><line x1="170.10" y1="525.20" x2="170.10" y2="511.80" stroke="#000" stroke-width="1.25"/><line x1="167.60" y1="512.40" x2="172.60" y2="512.40" stroke="#000" stroke-width="1.4"/><rect x="165.00" y="525.20" width="10.20" height="58.20" fill="#000"/><line x1="183.25" y1="577.50" x2="183.25" y2="574.80" stroke="#000" stroke-width="1.25"/><line x1="180.75" y1="575.40" x2="185.75" y2="575.40" stroke="#000" stroke-width="1.4"/><rect x="179.05" y="578.15" width="8.40" height="5.25" fill="#fff" stroke="#000" stroke-width="1.3"/><text x="183.25" y="577.30" font-size="9.5" font-weight="bold" text-anchor="middle" fill="#555">***</text><text x="61.57" y="592.90" font-size="8.6" font-weight="bold" fill="#000" textLength="16.00" lengthAdjust="spacingAndGlyphs">CLP</text><text x="96.15" y="592.90" font-size="8.6" font-weight="bold" fill="#000" textLength="18.73" lengthAdjust="spacingAndGlyphs">CMP</text><text x="131.74" y="592.90" font-size="8.6" font-weight="bold" fill="#000" textLength="18.15" lengthAdjust="spacingAndGlyphs">MEP</text><text x="166.97" y="592.90" font-size="8.6" font-weight="bold" fill="#000" textLength="18.51" lengthAdjust="spacingAndGlyphs">GMP</text><rect x="187.30" y="500.40" width="11.20" height="7.40" fill="#000"/><rect x="187.95" y="511.05" width="9.90" height="6.50" fill="#fff" stroke="#000" stroke-width="1.3"/><text x="203.66" y="506.90" font-size="9.2" fill="#000" stroke="#000" stroke-width="0.3" textLength="32.28" lengthAdjust="spacingAndGlyphs">fl/fl:cre-</text><text x="203.66" y="516.80" font-size="9.2" fill="#000" stroke="#000" stroke-width="0.3" textLength="35.74" lengthAdjust="spacingAndGlyphs">fl/fl:cre+</text><text x="24.10" y="570.60" font-size="10.2" font-weight="bold" fill="#000" textLength="65.38" lengthAdjust="spacingAndGlyphs" transform="rotate(-90 24.10 570.60)">Frequency %</text><line x1="328.50" y1="500.00" x2="328.50" y2="584.80" stroke="#000" stroke-width="1.3"/><line x1="327.90" y1="584.20" x2="469.60" y2="584.20" stroke="#000" stroke-width="1.3"/><line x1="325.90" y1="500.20" x2="328.50" y2="500.20" stroke="#000" stroke-width="1.2"/><line x1="325.90" y1="528.20" x2="328.50" y2="528.20" stroke="#000" stroke-width="1.2"/><line x1="325.90" y1="556.20" x2="328.50" y2="556.20" stroke="#000" stroke-width="1.2"/><line x1="325.90" y1="584.20" x2="328.50" y2="584.20" stroke="#000" stroke-width="1.2"/><line x1="346.50" y1="584.20" x2="346.50" y2="587.00" stroke="#000" stroke-width="1.1"/><line x1="381.20" y1="584.20" x2="381.20" y2="587.00" stroke="#000" stroke-width="1.1"/><line x1="416.70" y1="584.20" x2="416.70" y2="587.00" stroke="#000" stroke-width="1.1"/><line x1="451.40" y1="584.20" x2="451.40" y2="587.00" stroke="#000" stroke-width="1.1"/><text x="314.10" y="503.30" font-size="9" fill="#000" stroke="#000" stroke-width="0.3" textLength="10.29" lengthAdjust="spacingAndGlyphs">15</text><text x="314.10" y="531.34" font-size="9" fill="#000" stroke="#000" stroke-width="0.3" textLength="10.26" lengthAdjust="spacingAndGlyphs">10</text><text x="319.01" y="559.30" font-size="9" fill="#000" stroke="#000" stroke-width="0.3" textLength="5.40" lengthAdjust="spacingAndGlyphs">5</text><text x="318.81" y="587.34" font-size="9" fill="#000" stroke="#000" stroke-width="0.3" textLength="5.58" lengthAdjust="spacingAndGlyphs">0</text><line x1="339.95" y1="577.10" x2="339.95" y2="575.90" stroke="#000" stroke-width="1.25"/><line x1="337.45" y1="576.50" x2="342.45" y2="576.50" stroke="#000" stroke-width="1.4"/><rect x="335.30" y="577.10" width="9.30" height="7.10" fill="#000"/><rect x="348.65" y="580.35" width="8.40" height="3.85" fill="#fff" stroke="#000" stroke-width="1.3"/><text x="352.85" y="579.00" font-size="9.5" font-weight="bold" text-anchor="middle" fill="#555">*</text><line x1="374.95" y1="551.70" x2="374.95" y2="546.40" stroke="#000" stroke-width="1.25"/><line x1="372.45" y1="547.00" x2="377.45" y2="547.00" stroke="#000" stroke-width="1.4"/><rect x="370.20" y="551.70" width="9.50" height="32.50" fill="#000"/><rect x="382.85" y="583.65" width="8.70" height="0.55" fill="#fff" stroke="#000" stroke-width="1.3"/><text x="387.20" y="577.90" font-size="9.5" font-weight="bold" text-anchor="middle" fill="#555">***</text><line x1="409.70" y1="526.30" x2="409.70" y2="519.90" stroke="#000" stroke-width="1.25"/><line x1="407.20" y1="520.50" x2="412.20" y2="520.50" stroke="#000" stroke-width="1.4"/><rect x="404.80" y="526.30" width="9.80" height="57.90" fill="#000"/><line x1="422.95" y1="578.10" x2="422.95" y2="574.50" stroke="#000" stroke-width="1.25"/><line x1="420.45" y1="575.10" x2="425.45" y2="575.10" stroke="#000" stroke-width="1.4"/><rect x="418.85" y="578.75" width="8.20" height="5.45" fill="#fff" stroke="#000" stroke-width="1.3"/><text x="422.95" y="571.50" font-size="9.5" font-weight="bold" text-anchor="middle" fill="#555">***</text><line x1="444.65" y1="535.40" x2="444.65" y2="524.40" stroke="#000" stroke-width="1.25"/><line x1="442.15" y1="525.00" x2="447.15" y2="525.00" stroke="#000" stroke-width="1.4"/><rect x="440.00" y="535.40" width="9.30" height="48.80" fill="#000"/><rect x="453.75" y="583.25" width="8.20" height="0.95" fill="#fff" stroke="#000" stroke-width="1.3"/><text x="457.85" y="582.50" font-size="9.5" font-weight="bold" text-anchor="middle" fill="#555">***</text><text x="337.37" y="593.60" font-size="8.6" font-weight="bold" fill="#000" textLength="16.00" lengthAdjust="spacingAndGlyphs">CLP</text><text x="371.24" y="593.60" font-size="8.6" font-weight="bold" fill="#000" textLength="19.77" lengthAdjust="spacingAndGlyphs">CMP</text><text x="405.52" y="593.60" font-size="8.6" font-weight="bold" fill="#000" textLength="18.67" lengthAdjust="spacingAndGlyphs">MEP</text><text x="441.04" y="593.60" font-size="8.6" font-weight="bold" fill="#000" textLength="19.75" lengthAdjust="spacingAndGlyphs">GMP</text><rect x="462.00" y="503.20" width="10.80" height="7.70" fill="#000"/><rect x="462.65" y="514.25" width="9.50" height="5.70" fill="#fff" stroke="#000" stroke-width="1.3"/><text x="477.63" y="510.70" font-size="8.8" font-weight="bold" fill="#000" textLength="36.16" lengthAdjust="spacingAndGlyphs">fl/fl:cre-</text><text x="477.63" y="519.90" font-size="8.8" font-weight="bold" fill="#000" textLength="37.86" lengthAdjust="spacingAndGlyphs">fl/fl:cre+</text><text x="311.00" y="602.54" font-size="12.6" fill="#000" stroke="#000" stroke-width="0.3" textLength="117.83" lengthAdjust="spacingAndGlyphs" transform="rotate(-90 311.00 602.54)">absolute number x10</text><text x="305.30" y="484.76" font-size="8" fill="#000" stroke="#000" stroke-width="0.2" textLength="6.29" lengthAdjust="spacingAndGlyphs" transform="rotate(-90 305.30 484.76)">4</text></svg></body></html>
